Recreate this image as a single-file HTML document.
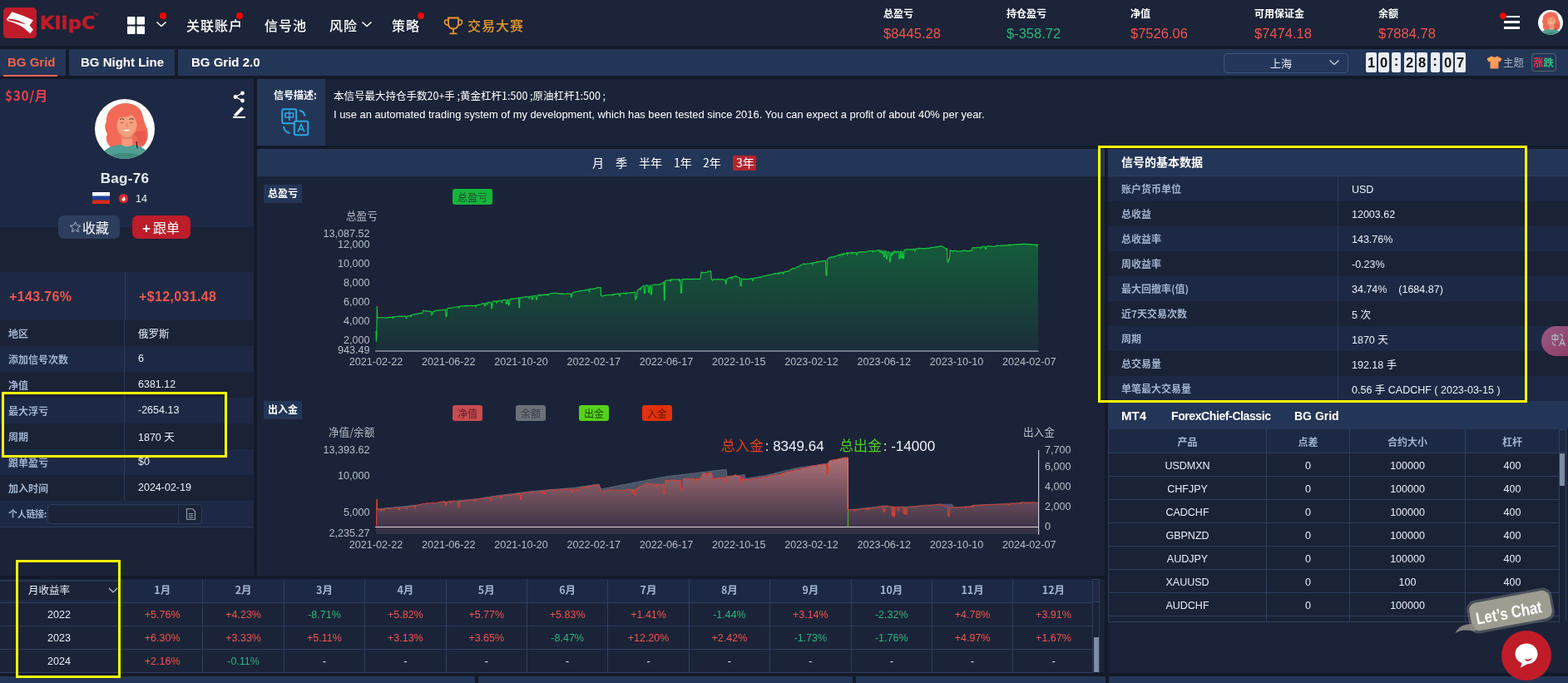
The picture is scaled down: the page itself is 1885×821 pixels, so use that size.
<!DOCTYPE html>
<html lang="zh-CN"><head><meta charset="utf-8"><title>KlipC - BG Grid</title>
<style>
*{box-sizing:border-box;margin:0;padding:0}
html,body{width:1885px;height:821px;overflow:hidden;background:#131a29}
body{position:relative;font-family:"Liberation Sans","Noto Sans CJK SC",sans-serif;color:#e8eef8;font-size:12px}
.a{position:absolute}
.cj{font-family:"Noto Sans CJK SC","Liberation Sans",sans-serif}
.hdr{left:0;top:0;width:1885px;height:55px;background:#1b2438}
.nav{top:19px;font-size:16px;line-height:22px;color:#fff;white-space:nowrap;font-weight:500;letter-spacing:1px}
.dot{width:8px;height:8px;border-radius:50%;background:#f00}
.st{font-size:12px;font-weight:bold;line-height:14px;top:9px;color:#fff}
.sv{font-size:16.5px;line-height:18px;top:31px;color:#f0564b}
.tabs{left:0;top:59px;width:1885px;height:32px;background:#243657}
.tab{top:59px;height:32px;font-size:15px;font-weight:bold;line-height:32px;color:#fff;white-space:nowrap}
.tsep{top:59px;width:4px;height:32px;background:#151d2e}
.dig{top:63px;width:13px;height:24px;background:#e9eef6;border-radius:2px;color:#111;font-size:16.5px;font-weight:bold;line-height:24px;text-align:center;font-family:"Liberation Sans",sans-serif}
.col{top:63px;width:11px;height:24px;background:#e9eef6;border-radius:2px;color:#111;font-size:17px;line-height:22px;text-align:center;font-weight:bold}
.lp{left:0;width:305px}
.row{left:0;width:305px;height:31px}
.rl{left:10px;font-size:12px;line-height:31px;color:#a0b3cf;font-weight:bold}
.rv{left:166px;font-size:12.5px;line-height:31px;color:#e8eef8}
.dk{background:#1a2236}
.lt{background:#1d2944}
.yl{border:3px solid #ffff00}
.ax{font-size:12.6px;color:#b9bec8;line-height:14px;white-space:nowrap}
.axr{text-align:right}
.bd{font-size:12px;line-height:30px;color:#a0b3cf;font-weight:bold}
.bv{font-size:12.5px;line-height:30px;color:#e8eef8;margin-top:1px}
.mt td{border:1px solid #2e3e5e;text-align:center;font-size:12.5px;color:#e8eef8;height:28px;padding:3px 0 0 0}
.mt th{border:1px solid #2e3e5e;text-align:center;font-size:12px;color:#a0b3cf;font-weight:bold;height:28px;padding:2px 0 0 0}
.mo td{border:1px solid #2e3e5e;text-align:center;font-size:12.5px;height:28px;padding:2px 0 0 0}
.mo th{border:1px solid #2e3e5e;text-align:center;font-size:12.5px;color:#a0b3cf;font-weight:bold;height:28px;padding:0 0 3px 0;background:#1d2944}
.mo tr:first-child th{border-top:none}
.mt tr:first-child th{border-top:none}
.r{color:#f0564b}.g{color:#2fb57c}.w{color:#e8eef8}
</style></head><body>
<!-- ================= HEADER ================= -->
<div class="a hdr"></div>
<svg class="a" style="left:4px;top:9px" width="40" height="37" viewBox="0 0 40 37">
<rect x="0" y="0" width="40" height="37" rx="5" fill="#c01b29"/>
<path d="M3.8 14.2 L10.4 5.2 Q23 9 35.9 15.2 L31.6 21.6 L35.9 26.8 L32.2 31.2 Q21 19.5 5.5 16.2 Z" fill="#fff"/>
<path d="M6.2 13.6 Q16.5 13.8 27.5 20.6 Q16 16.8 6.2 15.2 Z" fill="#c01b29"/>
</svg>
<div class="a" style="left:48px;top:14px;font-size:22px;line-height:28px;font-weight:bold;color:#c01b29;letter-spacing:0.6px;-webkit-text-stroke:0.6px #c01b29;font-family:'DejaVu Sans','Liberation Sans',sans-serif;white-space:nowrap">KlipC</div>
<div class="a" style="left:111.5px;top:13.5px;font-size:5px;line-height:6px;color:#c01b29">TM</div>

<svg class="a" style="left:153px;top:20px" width="22" height="22" viewBox="0 0 22 22">
<rect x="0" y="0" width="9.5" height="9.5" rx="1" fill="#fff"/><rect x="11.5" y="0" width="9.5" height="9.5" rx="1" fill="#fff"/>
<rect x="0" y="11.5" width="9.5" height="9.5" rx="1" fill="#fff"/><rect x="11.5" y="11.5" width="9.5" height="9.5" rx="1" fill="#fff"/>
</svg>
<svg class="a" style="left:187px;top:24px" width="14" height="10" viewBox="0 0 14 10"><path d="M1.5 2.5 L7 7.5 L12.5 2.5" stroke="#fff" stroke-width="1.6" fill="none"/></svg>
<div class="a dot" style="left:192px;top:15px"></div>
<div class="a nav cj" style="left:224px">关联账户</div>
<div class="a dot" style="left:284px;top:15px"></div>
<div class="a nav cj" style="left:318px">信号池</div>
<div class="a nav cj" style="left:396px">风险</div>
<svg class="a" style="left:434px;top:24px" width="14" height="10" viewBox="0 0 14 10"><path d="M1.5 2.5 L7 7.5 L12.5 2.5" stroke="#fff" stroke-width="1.6" fill="none"/></svg>
<div class="a nav cj" style="left:471px">策略</div>
<div class="a dot" style="left:502px;top:15px"></div>
<svg class="a" style="left:533px;top:20px" width="24" height="22" viewBox="0 0 24 22">
<path d="M6 1.5 H18 V8 Q18 14.5 12 14.5 Q6 14.5 6 8 Z" stroke="#e8982a" stroke-width="1.8" fill="none"/>
<path d="M6 4 H3.5 Q1.5 4 1.5 6.5 Q1.5 10 6.3 10.5 M18 4 H20.5 Q22.5 4 22.5 6.5 Q22.5 10 17.7 10.5" stroke="#e8982a" stroke-width="1.6" fill="none"/>
<path d="M12 14.5 V19.5 M7.5 20.3 H16.5" stroke="#e8982a" stroke-width="1.8" fill="none"/>
</svg>
<div class="a nav cj" style="left:562px;color:#e8982a">交易大赛</div>

<div class="a st cj" style="left:1062px">总盈亏</div><div class="a sv" style="left:1062px">$8445.28</div>
<div class="a st cj" style="left:1210px">持仓盈亏</div><div class="a sv" style="left:1210px;color:#2fb57c">$-358.72</div>
<div class="a st cj" style="left:1359px">净值</div><div class="a sv" style="left:1359px">$7526.06</div>
<div class="a st cj" style="left:1508px">可用保证金</div><div class="a sv" style="left:1508px">$7474.18</div>
<div class="a st cj" style="left:1657px">余额</div><div class="a sv" style="left:1657px">$7884.78</div>

<div class="a" style="left:1808px;top:18.5px;width:19px;height:2.5px;background:#fff"></div>
<div class="a" style="left:1808px;top:25.3px;width:19px;height:2.5px;background:#fff"></div>
<div class="a" style="left:1808px;top:32px;width:19px;height:2.5px;background:#fff"></div>
<div class="a dot" style="left:1803px;top:15px"></div>
<svg class="a" style="left:1849px;top:12px" width="30" height="30" viewBox="0 0 72 72">
<defs><clipPath id="cc1"><circle cx="36" cy="36" r="36"/></clipPath></defs>
<g clip-path="url(#cc1)"><rect width="72" height="72" fill="#fff"/>
<path d="M19 58 Q11 50 15 42 Q10 34 14 27 Q13 16 22 10 Q32 3 44 6 Q56 9 58 22 Q60 30 63 36 Q66 48 59 56 Q52 61 46 56 L30 58 Q24 62 19 58 Z" fill="#f26a57"/>
<path d="M44 40 Q52 44 52 54 L58 56 Q64 48 60 38 Z" fill="#e85a4f"/>
<path d="M6 72 Q10 57 30 55 L44 55 Q62 56 68 72 Z" fill="#4f9f95"/>
<path d="M10 70 Q36 60 64 70 L66 72 L8 72 Z" fill="#43897f"/>
<path d="M32 40 L32.5 55.5 Q38 59 45 55.5 L45 40 Z" fill="#f29a7c"/>
<path d="M32 44 Q38.5 48 45 44 L45 47 Q38.5 50 32 47 Z" fill="#e0866a"/>
<path d="M26.5 26 Q26 18 34 17 Q46 15.5 50.5 24 Q51.5 34 48 40 Q44 45 38.5 45 Q32 45 28.5 40 Q26 34 26.5 26 Z" fill="#f5a07e"/>
<path d="M24.5 30 Q24 14 36 11 Q48 9 54 20 Q53 27 51 31 Q49 23 44 19 Q40 22 30 22 Q27 25 26.5 31 Z" fill="#f26a57"/>
<path d="M30 24.6 q2.5 -2 5 0 M41.5 24.6 q2.5 -2 5 0" stroke="#3a2418" stroke-width="0.9" fill="none"/>
<path d="M30.5 28 q2 1.5 4 0 M42 28 q2 1.5 4 0" stroke="#7a4a38" stroke-width="0.7" fill="none"/>
<path d="M38.5 29 Q37.5 33 39.5 34" stroke="#b06a50" stroke-width="0.6" fill="none"/>
<path d="M34 37 Q38.5 40.5 43 37 Z" fill="#fff"/>
<path d="M50 51 L51 59" stroke="#222" stroke-width="1.2"/></g></svg>

<!-- ================= TABS ================= -->
<div class="a tabs"></div>
<div class="a tab" style="left:9px;color:#f0644f">BG Grid</div>
<div class="a" style="left:4px;top:89.5px;width:65px;height:2px;background:#f0644f"></div>
<div class="a tsep" style="left:79px"></div>
<div class="a tab" style="left:97px">BG Night Line</div>
<div class="a tsep" style="left:210px"></div>
<div class="a tab" style="left:230px">BG Grid 2.0</div>

<div class="a" style="left:1471px;top:64px;width:150px;height:24px;border:1px solid #3b5584;border-radius:4px;background:#24365a"></div>
<div class="a cj" style="left:1527px;top:64px;font-size:13px;line-height:24px;color:#e8eef8">上海</div>
<svg class="a" style="left:1597px;top:70px" width="14" height="10" viewBox="0 0 14 10"><path d="M1.5 2.5 L7 7.5 L12.5 2.5" stroke="#c8d0dc" stroke-width="1.3" fill="none"/></svg>
<div class="a dig" style="left:1642px">1</div>
<div class="a dig" style="left:1657px">0</div>
<div class="a col" style="left:1673px">:</div>
<div class="a dig" style="left:1688px">2</div>
<div class="a dig" style="left:1703px">8</div>
<div class="a col" style="left:1719.5px">:</div>
<div class="a dig" style="left:1734px">0</div>
<div class="a dig" style="left:1749px">7</div>
<svg class="a" style="left:1787px;top:67px" width="19" height="16" viewBox="0 0 19 16">
<defs><linearGradient id="shg" x1="0" y1="0" x2="1" y2="1"><stop offset="0" stop-color="#ffb04a"/><stop offset="1" stop-color="#ff8a6a"/></linearGradient></defs>
<path d="M6 0.5 Q9.5 3 13 0.5 L18.5 3.5 L16.5 7.5 L14.5 6.8 L14.5 15.5 L4.5 15.5 L4.5 6.8 L2.5 7.5 L0.5 3.5 Z" fill="url(#shg)"/></svg>
<div class="a cj" style="left:1807px;top:66px;font-size:12.5px;line-height:18px;color:#a3adbf">主题</div>
<div class="a" style="left:1841px;top:64px;width:30px;height:22px;border:1px solid #5b616e;border-radius:4px"></div>
<div class="a cj" style="left:1843px;top:65px;font-size:12.5px;line-height:20px;font-weight:bold;white-space:nowrap"><span style="color:#f0343c">涨</span><span style="color:#2ec27e">跌</span></div>
<!-- ================= LEFT PANEL ================= -->
<div class="a lp" style="top:95px;height:178px;background:#1d2944"></div>
<div class="a lp" style="top:273px;height:54px;background:#1a2236"></div>
<div class="a cj" style="left:6px;top:105px;font-size:15.5px;letter-spacing:0.6px;line-height:18px;font-weight:bold;color:#e8404c">$30/月</div>
<svg class="a" style="left:280px;top:109px" width="15" height="15" viewBox="0 0 15 15">
<circle cx="11.5" cy="3" r="2.4" fill="#fff"/><circle cx="3" cy="7.5" r="2.4" fill="#fff"/><circle cx="11.5" cy="12" r="2.4" fill="#fff"/>
<path d="M11.5 3 L3 7.5 L11.5 12" stroke="#fff" stroke-width="1.3" fill="none"/></svg>
<svg class="a" style="left:279px;top:126px" width="17" height="16" viewBox="0 0 17 16">
<path d="M2.5 11.5 L11.3 2.2 L14 5 L5.5 13.6 L2.5 13.6 Z" fill="#fff"/><rect x="1" y="14" width="15" height="2" fill="#fff"/></svg>
<svg class="a" style="left:114px;top:119px" width="72" height="72" viewBox="0 0 72 72">
<defs><clipPath id="cc2"><circle cx="36" cy="36" r="36"/></clipPath></defs>
<g clip-path="url(#cc2)"><rect width="72" height="72" fill="#fff"/>
<path d="M19 58 Q11 50 15 42 Q10 34 14 27 Q13 16 22 10 Q32 3 44 6 Q56 9 58 22 Q60 30 63 36 Q66 48 59 56 Q52 61 46 56 L30 58 Q24 62 19 58 Z" fill="#f26a57"/>
<path d="M44 40 Q52 44 52 54 L58 56 Q64 48 60 38 Z" fill="#e85a4f"/>
<path d="M6 72 Q10 57 30 55 L44 55 Q62 56 68 72 Z" fill="#4f9f95"/>
<path d="M10 70 Q36 60 64 70 L66 72 L8 72 Z" fill="#43897f"/>
<path d="M32 40 L32.5 55.5 Q38 59 45 55.5 L45 40 Z" fill="#f29a7c"/>
<path d="M32 44 Q38.5 48 45 44 L45 47 Q38.5 50 32 47 Z" fill="#e0866a"/>
<path d="M26.5 26 Q26 18 34 17 Q46 15.5 50.5 24 Q51.5 34 48 40 Q44 45 38.5 45 Q32 45 28.5 40 Q26 34 26.5 26 Z" fill="#f5a07e"/>
<path d="M24.5 30 Q24 14 36 11 Q48 9 54 20 Q53 27 51 31 Q49 23 44 19 Q40 22 30 22 Q27 25 26.5 31 Z" fill="#f26a57"/>
<path d="M30 24.6 q2.5 -2 5 0 M41.5 24.6 q2.5 -2 5 0" stroke="#3a2418" stroke-width="0.9" fill="none"/>
<path d="M30.5 28 q2 1.5 4 0 M42 28 q2 1.5 4 0" stroke="#7a4a38" stroke-width="0.7" fill="none"/>
<path d="M38.5 29 Q37.5 33 39.5 34" stroke="#b06a50" stroke-width="0.6" fill="none"/>
<path d="M34 37 Q38.5 40.5 43 37 Z" fill="#fff"/>
<path d="M50 51 L51 59" stroke="#222" stroke-width="1.2"/></g></svg>
<div class="a" style="left:0;top:205px;width:300px;text-align:center;font-size:17px;letter-spacing:0.3px;font-weight:bold;line-height:20px;color:#e8eef8">Bag-76</div>
<svg class="a" style="left:111px;top:231px" width="21" height="14" viewBox="0 0 21 14">
<rect width="21" height="4.7" fill="#fff"/><rect y="4.7" width="21" height="4.7" fill="#1c3f9e"/><rect y="9.4" width="21" height="4.6" fill="#d52b1e"/></svg>
<svg class="a" style="left:143px;top:233px" width="11" height="11" viewBox="0 0 11 11">
<circle cx="5.5" cy="5.5" r="5.5" fill="#e0282e"/><path d="M5.5 2.5 Q8 5 7.6 7 Q7 8.7 5.5 8.7 Q3.8 8.7 3.4 7 Q3.2 5.5 4.6 4.4 Q4.5 6 5.6 6.4 Q5.2 4.2 5.5 2.5Z" fill="#fff"/></svg>
<div class="a" style="left:163px;top:232px;font-size:12.5px;line-height:15px;color:#e8eef8">14</div>
<div class="a" style="left:70px;top:259px;width:74px;height:28px;border-radius:7px;background:#2d3d5d"></div>
<svg class="a" style="left:83px;top:266px" width="15" height="14" viewBox="0 0 15 14"><path d="M7.5 0.8 L9.4 4.9 L13.9 5.3 L10.5 8.3 L11.5 12.8 L7.5 10.5 L3.5 12.8 L4.5 8.3 L1.1 5.3 L5.6 4.9 Z" stroke="#aab4c4" stroke-width="1" fill="none"/></svg>
<div class="a cj" style="left:99px;top:261.5px;font-size:16px;line-height:22px;color:#fff">收藏</div>
<div class="a" style="left:159px;top:259px;width:70px;height:28px;border-radius:7px;background:#bd1c2a"></div>
<div class="a cj" style="left:171px;top:261.5px;font-size:16px;line-height:22px;color:#fff"><b style="font-family:'Liberation Sans';font-size:17px;margin-right:3px">+</b>跟单</div>

<div class="a" style="left:0;top:327px;width:150px;height:58px;background:#1d2944"></div>
<div class="a" style="left:150px;top:327px;width:155px;height:58px;background:#1d2944;border-left:1px solid #2c3a58"></div>
<div class="a" style="left:11px;top:348px;font-size:16px;letter-spacing:0.35px;font-weight:bold;line-height:18px;color:#f0564b">+143.76%</div>
<div class="a" style="left:167px;top:348px;font-size:16px;letter-spacing:0.35px;font-weight:bold;line-height:18px;color:#f0564b">+$12,031.48</div>

<div class="a row dk" style="top:385px"></div>
<div class="a row lt" style="top:416px"></div>
<div class="a row dk" style="top:447px"></div>
<div class="a row lt" style="top:478px"></div>
<div class="a row dk" style="top:509px"></div>
<div class="a row lt" style="top:540px"></div>
<div class="a row dk" style="top:571px"></div>
<div class="a row lt" style="top:602px;height:31px"></div>
<div class="a" style="left:0;top:633px;width:305px;height:1px;background:#2c3b58"></div>
<div class="a" style="left:0;top:634px;width:305px;height:58px;background:#1b2338"></div>
<div class="a" style="left:149px;top:385px;width:1px;height:217px;background:#2c3a58"></div>
<div class="a rl cj" style="top:385px">地区</div><div class="a rv cj" style="top:385px">俄罗斯</div>
<div class="a rl cj" style="top:416px">添加信号次数</div><div class="a rv" style="top:416px">6</div>
<div class="a rl cj" style="top:447px">净值</div><div class="a rv" style="top:447px">6381.12</div>
<div class="a rl cj" style="top:478px">最大浮亏</div><div class="a rv" style="top:478px">-2654.13</div>
<div class="a rl cj" style="top:509px">周期</div><div class="a rv" style="top:509px">1870 <span class="cj">天</span></div>
<div class="a rl cj" style="top:540px">跟单盈亏</div><div class="a rv" style="top:540px">$0</div>
<div class="a rl cj" style="top:571px">加入时间</div><div class="a rv" style="top:571px">2024-02-19</div>
<div class="a rl cj" style="top:602px;font-weight:bold;left:10px;font-size:11px;letter-spacing:-0.3px">个人链接:</div>
<div class="a" style="left:57px;top:606px;width:186px;height:24px;border:1px solid #2c3c5c;border-radius:4px;background:#1a2338"></div>
<div class="a" style="left:214px;top:607px;width:1px;height:22px;background:#2c3c5c"></div>
<svg class="a" style="left:223px;top:611px" width="13" height="14" viewBox="0 0 13 14"><path d="M1.5 0.8 H8.5 L11.5 3.8 V13.2 H1.5 Z" stroke="#9aa4b4" stroke-width="1.1" fill="none"/><path d="M3.8 6.5 H9.2 M3.8 8.8 H9.2 M3.8 11 H9.2" stroke="#9aa4b4" stroke-width="1"/></svg>
<div class="a yl" style="left:2px;top:471px;width:271px;height:79px"></div>
<!-- ================= DESCRIPTION ================= -->
<div class="a" style="left:309px;top:95px;width:1576px;height:80px;background:#1b2338"></div>
<div class="a" style="left:309px;top:95px;width:82px;height:80px;background:#243657"></div>
<div class="a cj" style="left:329px;top:105px;font-size:12px;line-height:17px;font-weight:bold;color:#fff">信号描述:</div>
<svg class="a" style="left:338px;top:130px" width="34" height="34" viewBox="0 0 34 34">
<rect x="1.2" y="1.2" width="17" height="17" rx="2" stroke="#2aa8e4" stroke-width="2" fill="none"/>
<rect x="15.8" y="15.8" width="16.5" height="16.5" rx="2" fill="#243657" stroke="#2aa8e4" stroke-width="2"/>
<path d="M5 6 H14.5 V11 H5 Z M9.8 3.5 V15" stroke="#2aa8e4" stroke-width="1.6" fill="none"/>
<path d="M20 28.5 L24 19.5 L28 28.5 M21.5 25.3 H26.5" stroke="#2aa8e4" stroke-width="1.7" fill="none"/>
<path d="M22 3 Q27.5 3.5 28.5 9.5" stroke="#2aa8e4" stroke-width="2" fill="none"/>
<path d="M3 22 Q3.5 28.5 10.5 30" stroke="#2aa8e4" stroke-width="2" fill="none"/>
</svg>
<div class="a cj" style="left:401px;top:105px;font-size:12.5px;line-height:19px;color:#fff;white-space:nowrap">本信号最大持仓手数20+手 ;黄金杠杆1:500 ;原油杠杆1:500 ;</div>
<div class="a" style="left:401px;top:128px;font-size:12.9px;line-height:19px;color:#fff;white-space:nowrap">I use an automated trading system of my development, which has been tested since 2016. You can expect a profit of about 40% per year.</div>

<!-- ================= PERIOD BAR ================= -->
<div class="a" style="left:309px;top:179px;width:1019px;height:33px;background:#243657"></div>
<div class="a cj" style="left:712px;top:186px;font-size:14px;line-height:19px;color:#fff;white-space:nowrap">月</div>
<div class="a cj" style="left:740px;top:186px;font-size:14px;line-height:19px;color:#fff">季</div>
<div class="a cj" style="left:768px;top:186px;font-size:14px;line-height:19px;color:#fff">半年</div>
<div class="a cj" style="left:810px;top:186px;font-size:14px;line-height:19px;color:#fff">1年</div>
<div class="a cj" style="left:845px;top:186px;font-size:14px;line-height:19px;color:#fff">2年</div>
<div class="a" style="left:881px;top:187px;width:28px;height:18px;border-radius:2px;background:#b5242f"></div>
<div class="a cj" style="left:885px;top:186px;font-size:14px;line-height:19px;color:#fff">3年</div>

<!-- ================= CHART AREA ================= -->
<div class="a" style="left:309px;top:212px;width:1019px;height:480px;background:#1b2338"></div>
<div class="a cj" style="left:317px;top:222px;width:46px;height:22px;background:#243657;font-size:12px;line-height:20px;font-weight:bold;color:#fff;text-align:center">总盈亏</div>
<div class="a cj" style="left:544px;top:227px;width:48px;height:19px;border-radius:3px;background:#16b53d;font-size:12px;line-height:19px;color:#1d4a2a;text-align:center">总盈亏</div>
<div class="a ax cj" style="left:416px;top:252px">总盈亏</div>
<div class="a ax axr" style="left:344.5px;width:100px;top:274px">13,087.52</div>
<div class="a ax axr" style="left:344.5px;width:100px;top:287px">12,000</div>
<div class="a ax axr" style="left:344.5px;width:100px;top:310px">10,000</div>
<div class="a ax axr" style="left:344.5px;width:100px;top:333px">8,000</div>
<div class="a ax axr" style="left:344.5px;width:100px;top:356px">6,000</div>
<div class="a ax axr" style="left:344.5px;width:100px;top:379px">4,000</div>
<div class="a ax axr" style="left:344.5px;width:100px;top:402px">2,000</div>
<div class="a ax axr" style="left:344.5px;width:100px;top:414px">943.49</div>
<svg class="a" style="left:309px;top:212px" width="1019" height="260" viewBox="309 212 1019 260">
<defs><linearGradient id="g1" gradientUnits="userSpaceOnUse" x1="0" y1="292" x2="0" y2="422"><stop offset="0" stop-color="#145c3a"/><stop offset="1" stop-color="#1b2e3a"/></linearGradient></defs>
<path d="M452.0 398.0 L452.3 410.7 L452.8 404.0 L453.3 368.0 L453.8 382.0 L454.0 382.1 L454.5 382.2 L455.0 382.0 L455.5 381.9 L456.0 381.9 L456.5 381.8 L457.0 381.8 L457.5 381.6 L458.0 381.3 L458.5 381.6 L459.0 381.8 L459.5 381.8 L460.0 381.8 L460.5 381.9 L461.0 381.7 L461.5 381.6 L462.0 381.9 L462.5 382.0 L463.0 381.8 L463.5 382.2 L464.0 382.0 L464.5 381.9 L465.0 382.3 L465.5 382.1 L466.0 382.0 L466.5 381.6 L467.0 381.5 L467.5 381.8 L468.0 381.4 L468.5 381.1 L469.0 381.2 L469.5 381.4 L470.0 381.5 L470.5 381.5 L471.0 381.5 L471.5 381.3 L472.0 381.1 L472.5 383.0 L473.0 380.9 L473.5 380.9 L474.0 381.1 L474.5 381.2 L475.0 380.9 L475.5 380.6 L476.0 380.5 L476.5 380.5 L477.0 380.5 L477.5 380.6 L478.0 380.5 L478.5 380.2 L479.0 379.9 L479.5 380.2 L480.0 380.0 L480.5 380.3 L481.0 380.1 L481.5 380.4 L482.0 380.3 L482.5 380.3 L483.0 380.3 L483.5 380.1 L484.0 380.2 L484.5 380.0 L485.0 380.0 L485.5 380.2 L486.0 380.5 L486.5 380.2 L487.0 380.0 L487.5 379.9 L488.0 381.9 L488.5 382.6 L489.0 381.4 L489.5 380.1 L490.0 380.2 L490.5 380.0 L491.0 379.8 L491.5 379.8 L492.0 379.9 L492.5 379.5 L493.0 379.5 L493.5 379.4 L494.0 380.4 L494.5 378.7 L495.0 379.1 L495.5 378.7 L496.0 378.6 L496.5 378.3 L497.0 378.1 L497.5 377.8 L498.0 377.8 L498.5 377.8 L499.0 377.5 L499.5 377.6 L500.0 377.4 L500.5 377.3 L501.0 377.5 L501.5 377.4 L502.0 377.0 L502.5 377.2 L503.0 377.2 L503.5 376.9 L504.0 376.5 L504.5 376.2 L505.0 376.4 L505.5 376.4 L506.0 376.7 L506.5 376.6 L507.0 376.5 L507.5 376.2 L508.0 375.7 L508.5 373.3 L509.0 373.4 L509.5 373.3 L510.0 373.4 L510.5 373.7 L511.0 373.6 L511.5 374.0 L512.0 374.0 L512.5 373.6 L513.0 374.1 L513.5 374.1 L514.0 374.2 L514.5 374.1 L515.0 374.1 L515.5 374.3 L516.0 374.0 L516.5 374.1 L517.0 374.3 L517.5 374.6 L518.0 374.8 L518.5 374.6 L519.0 378.6 L519.5 378.0 L520.0 377.7 L520.5 374.8 L521.0 374.2 L521.5 374.5 L522.0 374.2 L522.5 374.1 L523.0 373.8 L523.5 373.6 L524.0 373.2 L524.5 373.1 L525.0 373.4 L525.5 373.1 L526.0 373.1 L526.5 372.9 L527.0 373.0 L527.5 373.0 L528.0 372.9 L528.5 372.8 L529.0 372.7 L529.5 372.8 L530.0 372.9 L530.5 373.0 L531.0 372.9 L531.5 373.0 L532.0 372.9 L532.5 372.5 L533.0 372.7 L533.5 372.3 L534.0 372.3 L534.5 372.4 L535.0 372.0 L535.5 371.9 L536.0 380.1 L536.5 380.7 L537.0 380.0 L537.5 371.0 L538.0 370.7 L538.5 370.6 L539.0 370.3 L539.5 370.3 L540.0 370.4 L540.5 370.5 L541.0 370.4 L541.5 370.4 L542.0 370.2 L542.5 370.0 L543.0 369.8 L543.5 369.9 L544.0 370.0 L544.5 369.7 L545.0 369.3 L545.5 369.2 L546.0 369.2 L546.5 369.1 L547.0 369.3 L547.5 369.2 L548.0 369.2 L548.5 369.1 L549.0 368.8 L549.5 369.0 L550.0 368.9 L550.5 368.9 L551.0 368.8 L551.5 368.5 L552.0 369.9 L552.5 368.6 L553.0 368.4 L553.5 368.3 L554.0 368.0 L554.5 367.7 L555.0 368.0 L555.5 367.8 L556.0 368.0 L556.5 367.9 L557.0 367.8 L557.5 367.9 L558.0 368.1 L558.5 367.6 L559.0 367.7 L559.5 368.0 L560.0 367.3 L560.5 367.1 L561.0 367.6 L561.5 367.6 L562.0 368.0 L562.5 367.7 L563.0 367.3 L563.5 367.2 L564.0 367.5 L564.5 367.5 L565.0 367.6 L565.5 367.3 L566.0 367.3 L566.5 367.5 L567.0 367.3 L567.5 367.2 L568.0 367.6 L568.5 367.5 L569.0 367.6 L569.5 367.7 L570.0 367.3 L570.5 367.5 L571.0 367.2 L571.5 367.0 L572.0 368.7 L572.5 367.3 L573.0 367.4 L573.5 367.4 L574.0 366.8 L574.5 366.5 L575.0 366.6 L575.5 366.2 L576.0 366.3 L576.5 366.3 L577.0 366.0 L577.5 366.2 L578.0 366.0 L578.5 365.6 L579.0 365.3 L579.5 365.3 L580.0 364.9 L580.5 364.8 L581.0 364.5 L581.5 364.9 L582.0 364.9 L582.5 367.6 L583.0 366.6 L583.5 367.0 L584.0 364.5 L584.5 364.1 L585.0 364.0 L585.5 365.6 L586.0 365.9 L586.5 364.9 L587.0 363.3 L587.5 363.6 L588.0 363.8 L588.5 363.2 L589.0 363.2 L589.5 363.2 L590.0 363.4 L590.5 364.4 L591.0 370.6 L591.5 370.4 L592.0 362.7 L592.5 362.5 L593.0 362.3 L593.5 362.1 L594.0 361.8 L594.5 361.8 L595.0 361.9 L595.5 362.1 L596.0 361.9 L596.5 363.6 L597.0 363.9 L597.5 364.0 L598.0 361.6 L598.5 361.7 L599.0 361.5 L599.5 361.9 L600.0 361.5 L600.5 361.6 L601.0 361.3 L601.5 361.4 L602.0 361.4 L602.5 362.5 L603.0 363.0 L603.5 363.8 L604.0 361.0 L604.5 360.7 L605.0 360.5 L605.5 360.4 L606.0 360.6 L606.5 360.3 L607.0 360.5 L607.5 360.3 L608.0 360.6 L608.5 365.3 L609.0 365.4 L609.5 365.1 L610.0 360.1 L610.5 360.1 L611.0 360.2 L611.5 366.8 L612.0 366.1 L612.5 365.9 L613.0 359.7 L613.5 359.8 L614.0 359.2 L614.5 359.4 L615.0 359.2 L615.5 359.2 L616.0 359.5 L616.5 359.1 L617.0 359.4 L617.5 359.2 L618.0 359.3 L618.5 359.3 L619.0 359.0 L619.5 358.5 L620.0 358.5 L620.5 358.4 L621.0 358.8 L621.5 358.7 L622.0 358.4 L622.5 358.2 L623.0 358.1 L623.5 358.1 L624.0 369.7 L624.5 369.7 L625.0 357.8 L625.5 357.7 L626.0 357.9 L626.5 358.0 L627.0 357.8 L627.5 357.5 L628.0 357.4 L628.5 357.7 L629.0 357.3 L629.5 357.4 L630.0 357.0 L630.5 357.0 L631.0 357.2 L631.5 356.9 L632.0 356.6 L632.5 356.4 L633.0 356.8 L633.5 357.1 L634.0 356.9 L634.5 356.9 L635.0 357.0 L635.5 357.1 L636.0 359.3 L636.5 356.4 L637.0 356.4 L637.5 356.4 L638.0 356.6 L638.5 356.5 L639.0 355.9 L639.5 359.6 L640.0 359.1 L640.5 359.5 L641.0 355.8 L641.5 355.9 L642.0 355.5 L642.5 355.7 L643.0 355.9 L643.5 355.5 L644.0 355.4 L644.5 360.0 L645.0 360.3 L645.5 359.6 L646.0 355.0 L646.5 355.2 L647.0 355.1 L647.5 354.7 L648.0 354.9 L648.5 354.5 L649.0 354.2 L649.5 355.7 L650.0 355.7 L650.5 355.5 L651.0 354.2 L651.5 354.2 L652.0 354.3 L652.5 354.1 L653.0 354.0 L653.5 354.2 L654.0 354.4 L654.5 354.4 L655.0 354.3 L655.5 354.1 L656.0 354.3 L656.5 354.3 L657.0 354.3 L657.5 354.0 L658.0 353.8 L658.5 353.8 L659.0 355.9 L659.5 353.6 L660.0 353.4 L660.5 353.4 L661.0 353.3 L661.5 353.0 L662.0 353.0 L662.5 352.6 L663.0 352.5 L663.5 352.8 L664.0 352.7 L664.5 352.5 L665.0 352.6 L665.5 352.4 L666.0 352.4 L666.5 352.2 L667.0 352.6 L667.5 352.5 L668.0 352.3 L668.5 352.4 L669.0 352.4 L669.5 352.6 L670.0 352.6 L670.5 352.6 L671.0 352.8 L671.5 352.7 L672.0 352.8 L672.5 353.1 L673.0 352.8 L673.5 352.9 L674.0 353.3 L674.5 353.2 L675.0 353.4 L675.5 353.1 L676.0 352.7 L676.5 353.0 L677.0 353.3 L677.5 353.1 L678.0 353.2 L678.5 353.3 L679.0 353.2 L679.5 353.2 L680.0 353.0 L680.5 353.2 L681.0 353.0 L681.5 353.2 L682.0 352.8 L682.5 352.8 L683.0 352.9 L683.5 353.0 L684.0 352.8 L684.5 353.1 L685.0 353.3 L685.5 353.1 L686.0 353.0 L686.5 357.3 L687.0 357.1 L687.5 354.4 L688.0 352.3 L688.5 352.0 L689.0 351.7 L689.5 351.6 L690.0 351.5 L690.5 351.1 L691.0 351.0 L691.5 350.8 L692.0 350.6 L692.5 350.9 L693.0 350.8 L693.5 350.7 L694.0 350.5 L694.5 350.2 L695.0 350.4 L695.5 350.1 L696.0 349.8 L696.5 349.8 L697.0 349.5 L697.5 349.6 L698.0 349.3 L698.5 349.5 L699.0 349.4 L699.5 349.2 L700.0 349.4 L700.5 349.3 L701.0 349.2 L701.5 349.2 L702.0 349.1 L702.5 349.3 L703.0 349.0 L703.5 348.7 L704.0 348.6 L704.5 348.2 L705.0 348.4 L705.5 348.5 L706.0 348.2 L706.5 348.1 L707.0 347.8 L707.5 349.6 L708.0 350.2 L708.5 350.6 L709.0 347.4 L709.5 347.7 L710.0 347.5 L710.5 347.2 L711.0 347.7 L711.5 347.2 L712.0 347.2 L712.5 347.3 L713.0 347.3 L713.5 347.3 L714.0 347.3 L714.5 346.9 L715.0 346.9 L715.5 346.6 L716.0 346.6 L716.5 346.4 L717.0 346.4 L717.5 345.9 L718.0 345.9 L718.5 346.0 L719.0 345.7 L719.5 345.8 L720.0 345.8 L720.5 345.7 L721.0 345.7 L721.5 345.3 L722.0 345.5 L722.5 355.5 L723.0 355.7 L723.5 356.0 L724.0 355.9 L724.5 355.8 L725.0 355.9 L725.5 355.5 L726.0 355.3 L726.5 355.2 L727.0 355.3 L727.5 354.7 L728.0 355.0 L728.5 355.0 L729.0 354.9 L729.5 355.0 L730.0 354.6 L730.5 354.9 L731.0 354.9 L731.5 354.8 L732.0 354.3 L732.5 354.6 L733.0 354.7 L733.5 354.4 L734.0 354.5 L734.5 354.3 L735.0 354.3 L735.5 354.3 L736.0 354.2 L736.5 354.3 L737.0 354.9 L737.5 354.9 L738.0 353.4 L738.5 353.7 L739.0 353.6 L739.5 353.4 L740.0 353.4 L740.5 353.4 L741.0 353.4 L741.5 353.3 L742.0 353.3 L742.5 353.0 L743.0 352.9 L743.5 352.9 L744.0 352.9 L744.5 355.0 L745.0 355.9 L745.5 354.9 L746.0 352.9 L746.5 353.1 L747.0 353.0 L747.5 352.7 L748.0 352.7 L748.5 352.6 L749.0 352.8 L749.5 352.3 L750.0 352.4 L750.5 352.5 L751.0 352.2 L751.5 353.3 L752.0 353.5 L752.5 353.4 L753.0 351.8 L753.5 352.2 L754.0 352.3 L754.5 352.3 L755.0 352.2 L755.5 352.1 L756.0 352.2 L756.5 352.0 L757.0 351.7 L757.5 351.7 L758.0 352.0 L758.5 351.5 L759.0 351.7 L759.5 351.7 L760.0 351.6 L760.5 351.8 L761.0 351.7 L761.5 351.6 L762.0 351.5 L762.5 351.3 L763.0 351.0 L763.5 351.2 L764.0 360.3 L764.5 359.6 L765.0 357.2 L765.5 357.4 L766.0 349.3 L766.5 348.8 L767.0 348.4 L767.5 348.1 L768.0 347.7 L768.5 347.6 L769.0 347.4 L769.5 346.7 L770.0 348.1 L770.5 346.0 L771.0 345.3 L771.5 345.0 L772.0 344.6 L772.5 344.0 L773.0 343.8 L773.5 343.7 L774.0 343.4 L774.5 352.3 L775.0 352.1 L775.5 352.3 L776.0 343.2 L776.5 343.1 L777.0 342.9 L777.5 343.1 L778.0 343.2 L778.5 342.8 L779.0 342.8 L779.5 350.9 L780.0 351.4 L780.5 351.6 L781.0 343.5 L781.5 343.2 L782.0 342.9 L782.5 353.8 L783.0 353.3 L783.5 353.7 L784.0 342.9 L784.5 342.8 L785.0 342.5 L785.5 342.0 L786.0 342.1 L786.5 342.2 L787.0 342.2 L787.5 342.0 L788.0 342.1 L788.5 342.2 L789.0 342.1 L789.5 342.2 L790.0 342.3 L790.5 342.3 L791.0 342.0 L791.5 342.0 L792.0 342.2 L792.5 342.2 L793.0 341.7 L793.5 341.8 L794.0 341.6 L794.5 341.5 L795.0 341.1 L795.5 340.9 L796.0 340.7 L796.5 340.0 L797.0 340.0 L797.5 339.2 L798.0 339.0 L798.5 360.9 L799.0 360.5 L799.5 337.6 L800.0 337.5 L800.5 337.7 L801.0 337.4 L801.5 336.9 L802.0 336.8 L802.5 336.8 L803.0 337.0 L803.5 336.8 L804.0 336.8 L804.5 336.7 L805.0 336.3 L805.5 336.4 L806.0 338.8 L806.5 336.2 L807.0 335.9 L807.5 336.0 L808.0 336.1 L808.5 335.9 L809.0 336.1 L809.5 336.1 L810.0 336.0 L810.5 336.2 L811.0 335.9 L811.5 335.9 L812.0 336.0 L812.5 336.0 L813.0 335.9 L813.5 336.3 L814.0 336.1 L814.5 335.8 L815.0 335.7 L815.5 335.6 L816.0 335.9 L816.5 338.5 L817.0 335.9 L817.5 336.2 L818.0 336.3 L818.5 352.3 L819.0 352.0 L819.5 351.8 L820.0 336.0 L820.5 335.8 L821.0 335.7 L821.5 335.8 L822.0 335.8 L822.5 335.7 L823.0 335.5 L823.5 335.4 L824.0 335.6 L824.5 335.6 L825.0 335.6 L825.5 335.0 L826.0 335.4 L826.5 335.5 L827.0 335.6 L827.5 335.6 L828.0 335.4 L828.5 335.5 L829.0 335.6 L829.5 335.6 L830.0 335.5 L830.5 335.3 L831.0 335.4 L831.5 335.8 L832.0 335.6 L832.5 335.4 L833.0 335.7 L833.5 335.6 L834.0 335.5 L834.5 335.5 L835.0 335.1 L835.5 335.2 L836.0 335.3 L836.5 335.3 L837.0 335.2 L837.5 335.2 L838.0 335.5 L838.5 335.2 L839.0 335.2 L839.5 335.5 L840.0 335.4 L840.5 335.4 L841.0 335.4 L841.5 335.4 L842.0 335.1 L842.5 331.2 L843.0 327.4 L843.5 327.2 L844.0 327.6 L844.5 327.4 L845.0 327.7 L845.5 327.8 L846.0 327.6 L846.5 327.5 L847.0 327.6 L847.5 327.7 L848.0 327.5 L848.5 327.3 L849.0 327.3 L849.5 327.3 L850.0 327.1 L850.5 326.9 L851.0 326.6 L851.5 326.2 L852.0 325.9 L852.5 326.0 L853.0 326.0 L853.5 325.9 L854.0 325.7 L854.5 325.8 L855.0 331.9 L855.5 336.0 L856.0 335.9 L856.5 336.8 L857.0 337.2 L857.5 336.5 L858.0 335.6 L858.5 335.3 L859.0 335.6 L859.5 335.8 L860.0 335.8 L860.5 336.1 L861.0 336.2 L861.5 335.7 L862.0 335.7 L862.5 335.4 L863.0 335.7 L863.5 335.4 L864.0 335.8 L864.5 335.8 L865.0 335.9 L865.5 335.9 L866.0 336.0 L866.5 335.7 L867.0 335.7 L867.5 335.9 L868.0 336.2 L868.5 335.6 L869.0 336.1 L869.5 335.9 L870.0 336.2 L870.5 336.5 L871.0 336.3 L871.5 336.3 L872.0 336.4 L872.5 341.4 L873.0 341.2 L873.5 335.6 L874.0 335.3 L874.5 335.1 L875.0 334.9 L875.5 334.6 L876.0 334.3 L876.5 333.9 L877.0 333.9 L877.5 334.0 L878.0 333.4 L878.5 333.7 L879.0 333.5 L879.5 333.3 L880.0 334.7 L880.5 333.1 L881.0 333.0 L881.5 332.8 L882.0 332.5 L882.5 332.4 L883.0 332.2 L883.5 332.1 L884.0 331.6 L884.5 332.0 L885.0 332.3 L885.5 332.2 L886.0 332.5 L886.5 333.0 L887.0 333.0 L887.5 333.3 L888.0 333.5 L888.5 333.5 L889.0 334.1 L889.5 334.4 L890.0 343.3 L890.5 343.4 L891.0 343.8 L891.5 335.1 L892.0 335.2 L892.5 335.2 L893.0 335.3 L893.5 335.4 L894.0 335.8 L894.5 335.4 L895.0 335.6 L895.5 335.5 L896.0 335.5 L896.5 335.9 L897.0 335.5 L897.5 335.2 L898.0 335.7 L898.5 335.7 L899.0 335.9 L899.5 335.5 L900.0 335.3 L900.5 335.3 L901.0 335.2 L901.5 335.3 L902.0 335.1 L902.5 334.7 L903.0 334.9 L903.5 334.7 L904.0 334.5 L904.5 337.1 L905.0 337.6 L905.5 336.5 L906.0 334.3 L906.5 334.3 L907.0 334.3 L907.5 334.3 L908.0 334.0 L908.5 334.1 L909.0 334.0 L909.5 334.0 L910.0 333.9 L910.5 333.6 L911.0 333.5 L911.5 333.6 L912.0 333.3 L912.5 333.2 L913.0 333.3 L913.5 333.0 L914.0 333.4 L914.5 333.2 L915.0 332.8 L915.5 332.4 L916.0 332.5 L916.5 332.2 L917.0 332.0 L917.5 331.9 L918.0 332.0 L918.5 331.6 L919.0 331.7 L919.5 331.6 L920.0 331.6 L920.5 331.5 L921.0 331.2 L921.5 331.1 L922.0 331.0 L922.5 331.1 L923.0 330.6 L923.5 330.9 L924.0 330.8 L924.5 330.6 L925.0 330.5 L925.5 330.6 L926.0 330.4 L926.5 330.2 L927.0 329.9 L927.5 330.0 L928.0 329.9 L928.5 329.8 L929.0 329.5 L929.5 329.2 L930.0 329.3 L930.5 329.2 L931.0 328.8 L931.5 328.6 L932.0 328.8 L932.5 328.7 L933.0 328.9 L933.5 328.6 L934.0 328.7 L934.5 328.6 L935.0 328.6 L935.5 328.3 L936.0 330.1 L936.5 328.0 L937.0 327.7 L937.5 327.6 L938.0 327.8 L938.5 327.6 L939.0 327.7 L939.5 327.7 L940.0 327.4 L940.5 326.9 L941.0 327.3 L941.5 329.8 L942.0 327.5 L942.5 327.2 L943.0 327.2 L943.5 326.6 L944.0 326.9 L944.5 326.5 L945.0 326.5 L945.5 326.2 L946.0 326.4 L946.5 326.1 L947.0 326.5 L947.5 325.8 L948.0 325.8 L948.5 325.6 L949.0 325.2 L949.5 324.5 L950.0 324.5 L950.5 324.1 L951.0 324.1 L951.5 323.4 L952.0 323.5 L952.5 323.1 L953.0 322.9 L953.5 322.9 L954.0 322.3 L954.5 322.3 L955.0 322.5 L955.5 322.5 L956.0 322.3 L956.5 322.1 L957.0 321.4 L957.5 321.3 L958.0 320.9 L958.5 320.8 L959.0 320.8 L959.5 320.5 L960.0 320.5 L960.5 320.2 L961.0 319.9 L961.5 319.3 L962.0 318.9 L962.5 319.1 L963.0 318.5 L963.5 318.2 L964.0 318.2 L964.5 317.9 L965.0 317.4 L965.5 317.4 L966.0 317.1 L966.5 317.0 L967.0 317.3 L967.5 317.6 L968.0 317.1 L968.5 317.3 L969.0 317.3 L969.5 317.2 L970.0 317.2 L970.5 316.8 L971.0 317.0 L971.5 317.0 L972.0 317.1 L972.5 317.0 L973.0 317.0 L973.5 316.7 L974.0 316.6 L974.5 316.4 L975.0 316.3 L975.5 316.4 L976.0 316.2 L976.5 316.5 L977.0 318.0 L977.5 316.1 L978.0 315.6 L978.5 315.6 L979.0 315.5 L979.5 315.6 L980.0 315.6 L980.5 315.6 L981.0 315.5 L981.5 314.9 L982.0 314.7 L982.5 314.9 L983.0 314.5 L983.5 314.8 L984.0 314.6 L984.5 314.2 L985.0 314.4 L985.5 314.4 L986.0 314.3 L986.5 314.4 L987.0 314.3 L987.5 313.9 L988.0 313.9 L988.5 313.9 L989.0 313.7 L989.5 313.8 L990.0 313.8 L990.5 313.4 L991.0 313.5 L991.5 313.4 L992.0 313.6 L992.5 313.5 L993.0 330.2 L993.5 331.3 L994.0 330.7 L994.5 311.8 L995.0 311.6 L995.5 311.0 L996.0 310.3 L996.5 309.7 L997.0 309.6 L997.5 309.8 L998.0 309.2 L998.5 308.9 L999.0 308.8 L999.5 309.1 L1000.0 309.2 L1000.5 309.0 L1001.0 308.8 L1001.5 308.7 L1002.0 309.0 L1002.5 308.4 L1003.0 308.5 L1003.5 308.2 L1004.0 308.2 L1004.5 307.9 L1005.0 307.7 L1005.5 307.7 L1006.0 307.3 L1006.5 307.3 L1007.0 307.2 L1007.5 307.1 L1008.0 306.7 L1008.5 306.4 L1009.0 306.6 L1009.5 306.5 L1010.0 307.4 L1010.5 306.0 L1011.0 305.8 L1011.5 305.4 L1012.0 305.4 L1012.5 305.3 L1013.0 306.7 L1013.5 305.1 L1014.0 305.3 L1014.5 304.8 L1015.0 305.1 L1015.5 305.1 L1016.0 305.1 L1016.5 304.9 L1017.0 304.5 L1017.5 304.3 L1018.0 304.0 L1018.5 305.7 L1019.0 303.9 L1019.5 304.2 L1020.0 304.6 L1020.5 303.9 L1021.0 304.2 L1021.5 304.0 L1022.0 304.0 L1022.5 304.0 L1023.0 303.8 L1023.5 303.4 L1024.0 303.3 L1024.5 305.1 L1025.0 303.6 L1025.5 303.9 L1026.0 303.6 L1026.5 303.6 L1027.0 303.7 L1027.5 303.7 L1028.0 303.5 L1028.5 303.8 L1029.0 303.5 L1029.5 305.8 L1030.0 305.8 L1030.5 305.8 L1031.0 303.4 L1031.5 303.0 L1032.0 303.1 L1032.5 303.0 L1033.0 303.3 L1033.5 303.0 L1034.0 302.7 L1034.5 302.8 L1035.0 302.6 L1035.5 302.8 L1036.0 303.0 L1036.5 302.8 L1037.0 302.5 L1037.5 302.5 L1038.0 302.7 L1038.5 302.7 L1039.0 302.9 L1039.5 302.7 L1040.0 302.7 L1040.5 302.8 L1041.0 302.7 L1041.5 302.4 L1042.0 302.2 L1042.5 302.2 L1043.0 302.0 L1043.5 301.7 L1044.0 301.5 L1044.5 301.3 L1045.0 301.6 L1045.5 301.5 L1046.0 301.6 L1046.5 301.6 L1047.0 301.8 L1047.5 301.7 L1048.0 301.6 L1048.5 301.4 L1049.0 301.7 L1049.5 302.7 L1050.0 301.8 L1050.5 301.6 L1051.0 301.7 L1051.5 301.5 L1052.0 301.7 L1052.5 301.8 L1053.0 301.5 L1053.5 301.5 L1054.0 301.0 L1054.5 301.1 L1055.0 300.7 L1055.5 300.9 L1056.0 300.9 L1056.5 300.8 L1057.0 300.6 L1057.5 302.7 L1058.0 303.4 L1058.5 303.4 L1059.0 301.3 L1059.5 301.3 L1060.0 301.1 L1060.5 304.5 L1061.0 304.5 L1061.5 304.7 L1062.0 301.0 L1062.5 308.6 L1063.0 308.3 L1063.5 308.3 L1064.0 301.7 L1064.5 302.1 L1065.0 302.0 L1065.5 310.9 L1066.0 310.8 L1066.5 311.0 L1067.0 302.9 L1067.5 302.7 L1068.0 303.1 L1068.5 302.9 L1069.0 303.5 L1069.5 314.7 L1070.0 314.4 L1070.5 313.9 L1071.0 302.7 L1071.5 307.3 L1072.0 307.0 L1072.5 306.7 L1073.0 302.3 L1073.5 305.4 L1074.0 305.1 L1074.5 304.8 L1075.0 301.7 L1075.5 301.8 L1076.0 301.7 L1076.5 303.2 L1077.0 303.2 L1077.5 303.8 L1078.0 302.3 L1078.5 302.5 L1079.0 302.5 L1079.5 302.1 L1080.0 302.0 L1080.5 302.3 L1081.0 310.8 L1081.5 310.7 L1082.0 311.1 L1082.5 302.0 L1083.0 301.8 L1083.5 309.0 L1084.0 308.9 L1084.5 309.5 L1085.0 301.7 L1085.5 310.0 L1086.0 310.7 L1086.5 310.8 L1087.0 300.9 L1087.5 300.5 L1088.0 300.3 L1088.5 300.4 L1089.0 300.1 L1089.5 299.7 L1090.0 299.8 L1090.5 299.9 L1091.0 299.9 L1091.5 299.5 L1092.0 299.5 L1092.5 299.8 L1093.0 299.9 L1093.5 299.9 L1094.0 299.8 L1094.5 299.8 L1095.0 299.6 L1095.5 299.5 L1096.0 299.8 L1096.5 299.7 L1097.0 299.6 L1097.5 299.4 L1098.0 299.4 L1098.5 299.4 L1099.0 299.7 L1099.5 301.8 L1100.0 301.8 L1100.5 300.6 L1101.0 298.9 L1101.5 298.9 L1102.0 299.0 L1102.5 298.9 L1103.0 299.2 L1103.5 299.4 L1104.0 298.8 L1104.5 298.8 L1105.0 298.3 L1105.5 298.4 L1106.0 298.7 L1106.5 298.4 L1107.0 298.7 L1107.5 298.9 L1108.0 298.7 L1108.5 298.5 L1109.0 298.9 L1109.5 298.9 L1110.0 298.8 L1110.5 298.9 L1111.0 298.8 L1111.5 299.0 L1112.0 298.6 L1112.5 298.7 L1113.0 298.4 L1113.5 298.6 L1114.0 298.8 L1114.5 298.6 L1115.0 298.3 L1115.5 298.6 L1116.0 298.1 L1116.5 298.3 L1117.0 298.2 L1117.5 298.1 L1118.0 298.3 L1118.5 298.1 L1119.0 297.7 L1119.5 297.4 L1120.0 297.4 L1120.5 297.5 L1121.0 297.6 L1121.5 297.7 L1122.0 297.2 L1122.5 297.2 L1123.0 297.3 L1123.5 297.0 L1124.0 297.1 L1124.5 297.0 L1125.0 297.0 L1125.5 297.0 L1126.0 296.5 L1126.5 296.9 L1127.0 296.8 L1127.5 296.3 L1128.0 296.4 L1128.5 296.2 L1129.0 296.1 L1129.5 295.9 L1130.0 296.0 L1130.5 295.6 L1131.0 295.7 L1131.5 295.7 L1132.0 295.8 L1132.5 296.0 L1133.0 296.6 L1133.5 296.7 L1134.0 296.9 L1134.5 297.2 L1135.0 297.3 L1135.5 297.9 L1136.0 298.2 L1136.5 298.4 L1137.0 298.8 L1137.5 298.9 L1138.0 300.6 L1138.5 299.7 L1139.0 314.6 L1139.5 315.0 L1140.0 314.8 L1140.5 311.5 L1141.0 311.2 L1141.5 311.4 L1142.0 301.1 L1142.5 301.3 L1143.0 301.4 L1143.5 300.9 L1144.0 301.4 L1144.5 301.4 L1145.0 301.6 L1145.5 301.6 L1146.0 302.5 L1146.5 301.3 L1147.0 301.4 L1147.5 301.2 L1148.0 301.3 L1148.5 301.4 L1149.0 301.4 L1149.5 301.5 L1150.0 301.8 L1150.5 301.7 L1151.0 301.9 L1151.5 302.0 L1152.0 302.3 L1152.5 302.4 L1153.0 302.2 L1153.5 302.1 L1154.0 301.7 L1154.5 301.9 L1155.0 301.9 L1155.5 301.8 L1156.0 301.7 L1156.5 302.1 L1157.0 301.8 L1157.5 301.4 L1158.0 301.2 L1158.5 301.3 L1159.0 300.9 L1159.5 301.3 L1160.0 301.2 L1160.5 301.2 L1161.0 301.3 L1161.5 301.2 L1162.0 301.4 L1162.5 301.9 L1163.0 301.5 L1163.5 301.5 L1164.0 301.6 L1164.5 301.9 L1165.0 301.4 L1165.5 301.7 L1166.0 301.3 L1166.5 301.6 L1167.0 301.3 L1167.5 301.4 L1168.0 301.6 L1168.5 299.5 L1169.0 297.7 L1169.5 297.9 L1170.0 297.9 L1170.5 298.0 L1171.0 297.8 L1171.5 297.7 L1172.0 297.8 L1172.5 297.8 L1173.0 297.7 L1173.5 297.8 L1174.0 297.7 L1174.5 297.6 L1175.0 297.5 L1175.5 297.3 L1176.0 297.3 L1176.5 297.7 L1177.0 297.7 L1177.5 297.6 L1178.0 297.7 L1178.5 297.5 L1179.0 298.5 L1179.5 296.9 L1180.0 296.7 L1180.5 296.4 L1181.0 296.7 L1181.5 296.2 L1182.0 296.1 L1182.5 296.2 L1183.0 296.2 L1183.5 296.4 L1184.0 296.4 L1184.5 298.8 L1185.0 298.3 L1185.5 298.8 L1186.0 296.2 L1186.5 296.1 L1187.0 296.0 L1187.5 296.0 L1188.0 296.0 L1188.5 295.9 L1189.0 295.9 L1189.5 295.7 L1190.0 296.0 L1190.5 296.1 L1191.0 296.0 L1191.5 296.2 L1192.0 295.8 L1192.5 296.0 L1193.0 296.2 L1193.5 296.2 L1194.0 296.2 L1194.5 296.0 L1195.0 296.2 L1195.5 296.2 L1196.0 296.1 L1196.5 296.0 L1197.0 295.6 L1197.5 295.8 L1198.0 295.3 L1198.5 295.3 L1199.0 295.0 L1199.5 295.1 L1200.0 295.0 L1200.5 295.3 L1201.0 295.5 L1201.5 295.5 L1202.0 295.4 L1202.5 295.4 L1203.0 295.6 L1203.5 295.5 L1204.0 295.1 L1204.5 295.3 L1205.0 294.9 L1205.5 295.1 L1206.0 295.0 L1206.5 295.2 L1207.0 295.0 L1207.5 295.2 L1208.0 294.7 L1208.5 295.0 L1209.0 295.0 L1209.5 294.6 L1210.0 294.7 L1210.5 294.9 L1211.0 294.7 L1211.5 294.5 L1212.0 294.3 L1212.5 294.2 L1213.0 294.4 L1213.5 295.4 L1214.0 294.3 L1214.5 294.1 L1215.0 294.4 L1215.5 294.2 L1216.0 294.2 L1216.5 294.4 L1217.0 294.5 L1217.5 294.5 L1218.0 294.3 L1218.5 294.3 L1219.0 294.0 L1219.5 293.8 L1220.0 294.0 L1220.5 293.9 L1221.0 293.6 L1221.5 293.6 L1222.0 293.5 L1222.5 293.9 L1223.0 294.0 L1223.5 293.8 L1224.0 293.6 L1224.5 293.5 L1225.0 293.5 L1225.5 293.4 L1226.0 293.7 L1226.5 294.0 L1227.0 293.7 L1227.5 293.9 L1228.0 293.6 L1228.5 293.5 L1229.0 293.7 L1229.5 293.6 L1230.0 293.3 L1230.5 293.1 L1231.0 293.3 L1231.5 293.2 L1232.0 293.0 L1232.5 293.3 L1233.0 293.7 L1233.5 293.5 L1234.0 293.3 L1234.5 293.8 L1235.0 293.6 L1235.5 293.3 L1236.0 293.8 L1236.5 293.7 L1237.0 293.6 L1237.5 293.5 L1238.0 293.5 L1238.5 293.8 L1239.0 293.7 L1239.5 294.1 L1240.0 294.1 L1240.5 294.3 L1241.0 294.0 L1241.5 294.1 L1242.0 293.8 L1242.5 294.4 L1243.0 294.3 L1243.5 294.2 L1244.0 294.3 L1244.5 293.9 L1245.0 294.3 L1245.5 294.2 L1246.0 294.2 L1246.5 295.8 L1247.0 294.1 L1247.5 294.2 L1248.0 294.2 L1248 421.5 L452 421.5 Z" fill="url(#g1)"/>
<path d="M452.0 398.0 L452.3 410.7 L452.8 404.0 L453.3 368.0 L453.8 382.0 L454.0 382.1 L454.5 382.2 L455.0 382.0 L455.5 381.9 L456.0 381.9 L456.5 381.8 L457.0 381.8 L457.5 381.6 L458.0 381.3 L458.5 381.6 L459.0 381.8 L459.5 381.8 L460.0 381.8 L460.5 381.9 L461.0 381.7 L461.5 381.6 L462.0 381.9 L462.5 382.0 L463.0 381.8 L463.5 382.2 L464.0 382.0 L464.5 381.9 L465.0 382.3 L465.5 382.1 L466.0 382.0 L466.5 381.6 L467.0 381.5 L467.5 381.8 L468.0 381.4 L468.5 381.1 L469.0 381.2 L469.5 381.4 L470.0 381.5 L470.5 381.5 L471.0 381.5 L471.5 381.3 L472.0 381.1 L472.5 383.0 L473.0 380.9 L473.5 380.9 L474.0 381.1 L474.5 381.2 L475.0 380.9 L475.5 380.6 L476.0 380.5 L476.5 380.5 L477.0 380.5 L477.5 380.6 L478.0 380.5 L478.5 380.2 L479.0 379.9 L479.5 380.2 L480.0 380.0 L480.5 380.3 L481.0 380.1 L481.5 380.4 L482.0 380.3 L482.5 380.3 L483.0 380.3 L483.5 380.1 L484.0 380.2 L484.5 380.0 L485.0 380.0 L485.5 380.2 L486.0 380.5 L486.5 380.2 L487.0 380.0 L487.5 379.9 L488.0 381.9 L488.5 382.6 L489.0 381.4 L489.5 380.1 L490.0 380.2 L490.5 380.0 L491.0 379.8 L491.5 379.8 L492.0 379.9 L492.5 379.5 L493.0 379.5 L493.5 379.4 L494.0 380.4 L494.5 378.7 L495.0 379.1 L495.5 378.7 L496.0 378.6 L496.5 378.3 L497.0 378.1 L497.5 377.8 L498.0 377.8 L498.5 377.8 L499.0 377.5 L499.5 377.6 L500.0 377.4 L500.5 377.3 L501.0 377.5 L501.5 377.4 L502.0 377.0 L502.5 377.2 L503.0 377.2 L503.5 376.9 L504.0 376.5 L504.5 376.2 L505.0 376.4 L505.5 376.4 L506.0 376.7 L506.5 376.6 L507.0 376.5 L507.5 376.2 L508.0 375.7 L508.5 373.3 L509.0 373.4 L509.5 373.3 L510.0 373.4 L510.5 373.7 L511.0 373.6 L511.5 374.0 L512.0 374.0 L512.5 373.6 L513.0 374.1 L513.5 374.1 L514.0 374.2 L514.5 374.1 L515.0 374.1 L515.5 374.3 L516.0 374.0 L516.5 374.1 L517.0 374.3 L517.5 374.6 L518.0 374.8 L518.5 374.6 L519.0 378.6 L519.5 378.0 L520.0 377.7 L520.5 374.8 L521.0 374.2 L521.5 374.5 L522.0 374.2 L522.5 374.1 L523.0 373.8 L523.5 373.6 L524.0 373.2 L524.5 373.1 L525.0 373.4 L525.5 373.1 L526.0 373.1 L526.5 372.9 L527.0 373.0 L527.5 373.0 L528.0 372.9 L528.5 372.8 L529.0 372.7 L529.5 372.8 L530.0 372.9 L530.5 373.0 L531.0 372.9 L531.5 373.0 L532.0 372.9 L532.5 372.5 L533.0 372.7 L533.5 372.3 L534.0 372.3 L534.5 372.4 L535.0 372.0 L535.5 371.9 L536.0 380.1 L536.5 380.7 L537.0 380.0 L537.5 371.0 L538.0 370.7 L538.5 370.6 L539.0 370.3 L539.5 370.3 L540.0 370.4 L540.5 370.5 L541.0 370.4 L541.5 370.4 L542.0 370.2 L542.5 370.0 L543.0 369.8 L543.5 369.9 L544.0 370.0 L544.5 369.7 L545.0 369.3 L545.5 369.2 L546.0 369.2 L546.5 369.1 L547.0 369.3 L547.5 369.2 L548.0 369.2 L548.5 369.1 L549.0 368.8 L549.5 369.0 L550.0 368.9 L550.5 368.9 L551.0 368.8 L551.5 368.5 L552.0 369.9 L552.5 368.6 L553.0 368.4 L553.5 368.3 L554.0 368.0 L554.5 367.7 L555.0 368.0 L555.5 367.8 L556.0 368.0 L556.5 367.9 L557.0 367.8 L557.5 367.9 L558.0 368.1 L558.5 367.6 L559.0 367.7 L559.5 368.0 L560.0 367.3 L560.5 367.1 L561.0 367.6 L561.5 367.6 L562.0 368.0 L562.5 367.7 L563.0 367.3 L563.5 367.2 L564.0 367.5 L564.5 367.5 L565.0 367.6 L565.5 367.3 L566.0 367.3 L566.5 367.5 L567.0 367.3 L567.5 367.2 L568.0 367.6 L568.5 367.5 L569.0 367.6 L569.5 367.7 L570.0 367.3 L570.5 367.5 L571.0 367.2 L571.5 367.0 L572.0 368.7 L572.5 367.3 L573.0 367.4 L573.5 367.4 L574.0 366.8 L574.5 366.5 L575.0 366.6 L575.5 366.2 L576.0 366.3 L576.5 366.3 L577.0 366.0 L577.5 366.2 L578.0 366.0 L578.5 365.6 L579.0 365.3 L579.5 365.3 L580.0 364.9 L580.5 364.8 L581.0 364.5 L581.5 364.9 L582.0 364.9 L582.5 367.6 L583.0 366.6 L583.5 367.0 L584.0 364.5 L584.5 364.1 L585.0 364.0 L585.5 365.6 L586.0 365.9 L586.5 364.9 L587.0 363.3 L587.5 363.6 L588.0 363.8 L588.5 363.2 L589.0 363.2 L589.5 363.2 L590.0 363.4 L590.5 364.4 L591.0 370.6 L591.5 370.4 L592.0 362.7 L592.5 362.5 L593.0 362.3 L593.5 362.1 L594.0 361.8 L594.5 361.8 L595.0 361.9 L595.5 362.1 L596.0 361.9 L596.5 363.6 L597.0 363.9 L597.5 364.0 L598.0 361.6 L598.5 361.7 L599.0 361.5 L599.5 361.9 L600.0 361.5 L600.5 361.6 L601.0 361.3 L601.5 361.4 L602.0 361.4 L602.5 362.5 L603.0 363.0 L603.5 363.8 L604.0 361.0 L604.5 360.7 L605.0 360.5 L605.5 360.4 L606.0 360.6 L606.5 360.3 L607.0 360.5 L607.5 360.3 L608.0 360.6 L608.5 365.3 L609.0 365.4 L609.5 365.1 L610.0 360.1 L610.5 360.1 L611.0 360.2 L611.5 366.8 L612.0 366.1 L612.5 365.9 L613.0 359.7 L613.5 359.8 L614.0 359.2 L614.5 359.4 L615.0 359.2 L615.5 359.2 L616.0 359.5 L616.5 359.1 L617.0 359.4 L617.5 359.2 L618.0 359.3 L618.5 359.3 L619.0 359.0 L619.5 358.5 L620.0 358.5 L620.5 358.4 L621.0 358.8 L621.5 358.7 L622.0 358.4 L622.5 358.2 L623.0 358.1 L623.5 358.1 L624.0 369.7 L624.5 369.7 L625.0 357.8 L625.5 357.7 L626.0 357.9 L626.5 358.0 L627.0 357.8 L627.5 357.5 L628.0 357.4 L628.5 357.7 L629.0 357.3 L629.5 357.4 L630.0 357.0 L630.5 357.0 L631.0 357.2 L631.5 356.9 L632.0 356.6 L632.5 356.4 L633.0 356.8 L633.5 357.1 L634.0 356.9 L634.5 356.9 L635.0 357.0 L635.5 357.1 L636.0 359.3 L636.5 356.4 L637.0 356.4 L637.5 356.4 L638.0 356.6 L638.5 356.5 L639.0 355.9 L639.5 359.6 L640.0 359.1 L640.5 359.5 L641.0 355.8 L641.5 355.9 L642.0 355.5 L642.5 355.7 L643.0 355.9 L643.5 355.5 L644.0 355.4 L644.5 360.0 L645.0 360.3 L645.5 359.6 L646.0 355.0 L646.5 355.2 L647.0 355.1 L647.5 354.7 L648.0 354.9 L648.5 354.5 L649.0 354.2 L649.5 355.7 L650.0 355.7 L650.5 355.5 L651.0 354.2 L651.5 354.2 L652.0 354.3 L652.5 354.1 L653.0 354.0 L653.5 354.2 L654.0 354.4 L654.5 354.4 L655.0 354.3 L655.5 354.1 L656.0 354.3 L656.5 354.3 L657.0 354.3 L657.5 354.0 L658.0 353.8 L658.5 353.8 L659.0 355.9 L659.5 353.6 L660.0 353.4 L660.5 353.4 L661.0 353.3 L661.5 353.0 L662.0 353.0 L662.5 352.6 L663.0 352.5 L663.5 352.8 L664.0 352.7 L664.5 352.5 L665.0 352.6 L665.5 352.4 L666.0 352.4 L666.5 352.2 L667.0 352.6 L667.5 352.5 L668.0 352.3 L668.5 352.4 L669.0 352.4 L669.5 352.6 L670.0 352.6 L670.5 352.6 L671.0 352.8 L671.5 352.7 L672.0 352.8 L672.5 353.1 L673.0 352.8 L673.5 352.9 L674.0 353.3 L674.5 353.2 L675.0 353.4 L675.5 353.1 L676.0 352.7 L676.5 353.0 L677.0 353.3 L677.5 353.1 L678.0 353.2 L678.5 353.3 L679.0 353.2 L679.5 353.2 L680.0 353.0 L680.5 353.2 L681.0 353.0 L681.5 353.2 L682.0 352.8 L682.5 352.8 L683.0 352.9 L683.5 353.0 L684.0 352.8 L684.5 353.1 L685.0 353.3 L685.5 353.1 L686.0 353.0 L686.5 357.3 L687.0 357.1 L687.5 354.4 L688.0 352.3 L688.5 352.0 L689.0 351.7 L689.5 351.6 L690.0 351.5 L690.5 351.1 L691.0 351.0 L691.5 350.8 L692.0 350.6 L692.5 350.9 L693.0 350.8 L693.5 350.7 L694.0 350.5 L694.5 350.2 L695.0 350.4 L695.5 350.1 L696.0 349.8 L696.5 349.8 L697.0 349.5 L697.5 349.6 L698.0 349.3 L698.5 349.5 L699.0 349.4 L699.5 349.2 L700.0 349.4 L700.5 349.3 L701.0 349.2 L701.5 349.2 L702.0 349.1 L702.5 349.3 L703.0 349.0 L703.5 348.7 L704.0 348.6 L704.5 348.2 L705.0 348.4 L705.5 348.5 L706.0 348.2 L706.5 348.1 L707.0 347.8 L707.5 349.6 L708.0 350.2 L708.5 350.6 L709.0 347.4 L709.5 347.7 L710.0 347.5 L710.5 347.2 L711.0 347.7 L711.5 347.2 L712.0 347.2 L712.5 347.3 L713.0 347.3 L713.5 347.3 L714.0 347.3 L714.5 346.9 L715.0 346.9 L715.5 346.6 L716.0 346.6 L716.5 346.4 L717.0 346.4 L717.5 345.9 L718.0 345.9 L718.5 346.0 L719.0 345.7 L719.5 345.8 L720.0 345.8 L720.5 345.7 L721.0 345.7 L721.5 345.3 L722.0 345.5 L722.5 355.5 L723.0 355.7 L723.5 356.0 L724.0 355.9 L724.5 355.8 L725.0 355.9 L725.5 355.5 L726.0 355.3 L726.5 355.2 L727.0 355.3 L727.5 354.7 L728.0 355.0 L728.5 355.0 L729.0 354.9 L729.5 355.0 L730.0 354.6 L730.5 354.9 L731.0 354.9 L731.5 354.8 L732.0 354.3 L732.5 354.6 L733.0 354.7 L733.5 354.4 L734.0 354.5 L734.5 354.3 L735.0 354.3 L735.5 354.3 L736.0 354.2 L736.5 354.3 L737.0 354.9 L737.5 354.9 L738.0 353.4 L738.5 353.7 L739.0 353.6 L739.5 353.4 L740.0 353.4 L740.5 353.4 L741.0 353.4 L741.5 353.3 L742.0 353.3 L742.5 353.0 L743.0 352.9 L743.5 352.9 L744.0 352.9 L744.5 355.0 L745.0 355.9 L745.5 354.9 L746.0 352.9 L746.5 353.1 L747.0 353.0 L747.5 352.7 L748.0 352.7 L748.5 352.6 L749.0 352.8 L749.5 352.3 L750.0 352.4 L750.5 352.5 L751.0 352.2 L751.5 353.3 L752.0 353.5 L752.5 353.4 L753.0 351.8 L753.5 352.2 L754.0 352.3 L754.5 352.3 L755.0 352.2 L755.5 352.1 L756.0 352.2 L756.5 352.0 L757.0 351.7 L757.5 351.7 L758.0 352.0 L758.5 351.5 L759.0 351.7 L759.5 351.7 L760.0 351.6 L760.5 351.8 L761.0 351.7 L761.5 351.6 L762.0 351.5 L762.5 351.3 L763.0 351.0 L763.5 351.2 L764.0 360.3 L764.5 359.6 L765.0 357.2 L765.5 357.4 L766.0 349.3 L766.5 348.8 L767.0 348.4 L767.5 348.1 L768.0 347.7 L768.5 347.6 L769.0 347.4 L769.5 346.7 L770.0 348.1 L770.5 346.0 L771.0 345.3 L771.5 345.0 L772.0 344.6 L772.5 344.0 L773.0 343.8 L773.5 343.7 L774.0 343.4 L774.5 352.3 L775.0 352.1 L775.5 352.3 L776.0 343.2 L776.5 343.1 L777.0 342.9 L777.5 343.1 L778.0 343.2 L778.5 342.8 L779.0 342.8 L779.5 350.9 L780.0 351.4 L780.5 351.6 L781.0 343.5 L781.5 343.2 L782.0 342.9 L782.5 353.8 L783.0 353.3 L783.5 353.7 L784.0 342.9 L784.5 342.8 L785.0 342.5 L785.5 342.0 L786.0 342.1 L786.5 342.2 L787.0 342.2 L787.5 342.0 L788.0 342.1 L788.5 342.2 L789.0 342.1 L789.5 342.2 L790.0 342.3 L790.5 342.3 L791.0 342.0 L791.5 342.0 L792.0 342.2 L792.5 342.2 L793.0 341.7 L793.5 341.8 L794.0 341.6 L794.5 341.5 L795.0 341.1 L795.5 340.9 L796.0 340.7 L796.5 340.0 L797.0 340.0 L797.5 339.2 L798.0 339.0 L798.5 360.9 L799.0 360.5 L799.5 337.6 L800.0 337.5 L800.5 337.7 L801.0 337.4 L801.5 336.9 L802.0 336.8 L802.5 336.8 L803.0 337.0 L803.5 336.8 L804.0 336.8 L804.5 336.7 L805.0 336.3 L805.5 336.4 L806.0 338.8 L806.5 336.2 L807.0 335.9 L807.5 336.0 L808.0 336.1 L808.5 335.9 L809.0 336.1 L809.5 336.1 L810.0 336.0 L810.5 336.2 L811.0 335.9 L811.5 335.9 L812.0 336.0 L812.5 336.0 L813.0 335.9 L813.5 336.3 L814.0 336.1 L814.5 335.8 L815.0 335.7 L815.5 335.6 L816.0 335.9 L816.5 338.5 L817.0 335.9 L817.5 336.2 L818.0 336.3 L818.5 352.3 L819.0 352.0 L819.5 351.8 L820.0 336.0 L820.5 335.8 L821.0 335.7 L821.5 335.8 L822.0 335.8 L822.5 335.7 L823.0 335.5 L823.5 335.4 L824.0 335.6 L824.5 335.6 L825.0 335.6 L825.5 335.0 L826.0 335.4 L826.5 335.5 L827.0 335.6 L827.5 335.6 L828.0 335.4 L828.5 335.5 L829.0 335.6 L829.5 335.6 L830.0 335.5 L830.5 335.3 L831.0 335.4 L831.5 335.8 L832.0 335.6 L832.5 335.4 L833.0 335.7 L833.5 335.6 L834.0 335.5 L834.5 335.5 L835.0 335.1 L835.5 335.2 L836.0 335.3 L836.5 335.3 L837.0 335.2 L837.5 335.2 L838.0 335.5 L838.5 335.2 L839.0 335.2 L839.5 335.5 L840.0 335.4 L840.5 335.4 L841.0 335.4 L841.5 335.4 L842.0 335.1 L842.5 331.2 L843.0 327.4 L843.5 327.2 L844.0 327.6 L844.5 327.4 L845.0 327.7 L845.5 327.8 L846.0 327.6 L846.5 327.5 L847.0 327.6 L847.5 327.7 L848.0 327.5 L848.5 327.3 L849.0 327.3 L849.5 327.3 L850.0 327.1 L850.5 326.9 L851.0 326.6 L851.5 326.2 L852.0 325.9 L852.5 326.0 L853.0 326.0 L853.5 325.9 L854.0 325.7 L854.5 325.8 L855.0 331.9 L855.5 336.0 L856.0 335.9 L856.5 336.8 L857.0 337.2 L857.5 336.5 L858.0 335.6 L858.5 335.3 L859.0 335.6 L859.5 335.8 L860.0 335.8 L860.5 336.1 L861.0 336.2 L861.5 335.7 L862.0 335.7 L862.5 335.4 L863.0 335.7 L863.5 335.4 L864.0 335.8 L864.5 335.8 L865.0 335.9 L865.5 335.9 L866.0 336.0 L866.5 335.7 L867.0 335.7 L867.5 335.9 L868.0 336.2 L868.5 335.6 L869.0 336.1 L869.5 335.9 L870.0 336.2 L870.5 336.5 L871.0 336.3 L871.5 336.3 L872.0 336.4 L872.5 341.4 L873.0 341.2 L873.5 335.6 L874.0 335.3 L874.5 335.1 L875.0 334.9 L875.5 334.6 L876.0 334.3 L876.5 333.9 L877.0 333.9 L877.5 334.0 L878.0 333.4 L878.5 333.7 L879.0 333.5 L879.5 333.3 L880.0 334.7 L880.5 333.1 L881.0 333.0 L881.5 332.8 L882.0 332.5 L882.5 332.4 L883.0 332.2 L883.5 332.1 L884.0 331.6 L884.5 332.0 L885.0 332.3 L885.5 332.2 L886.0 332.5 L886.5 333.0 L887.0 333.0 L887.5 333.3 L888.0 333.5 L888.5 333.5 L889.0 334.1 L889.5 334.4 L890.0 343.3 L890.5 343.4 L891.0 343.8 L891.5 335.1 L892.0 335.2 L892.5 335.2 L893.0 335.3 L893.5 335.4 L894.0 335.8 L894.5 335.4 L895.0 335.6 L895.5 335.5 L896.0 335.5 L896.5 335.9 L897.0 335.5 L897.5 335.2 L898.0 335.7 L898.5 335.7 L899.0 335.9 L899.5 335.5 L900.0 335.3 L900.5 335.3 L901.0 335.2 L901.5 335.3 L902.0 335.1 L902.5 334.7 L903.0 334.9 L903.5 334.7 L904.0 334.5 L904.5 337.1 L905.0 337.6 L905.5 336.5 L906.0 334.3 L906.5 334.3 L907.0 334.3 L907.5 334.3 L908.0 334.0 L908.5 334.1 L909.0 334.0 L909.5 334.0 L910.0 333.9 L910.5 333.6 L911.0 333.5 L911.5 333.6 L912.0 333.3 L912.5 333.2 L913.0 333.3 L913.5 333.0 L914.0 333.4 L914.5 333.2 L915.0 332.8 L915.5 332.4 L916.0 332.5 L916.5 332.2 L917.0 332.0 L917.5 331.9 L918.0 332.0 L918.5 331.6 L919.0 331.7 L919.5 331.6 L920.0 331.6 L920.5 331.5 L921.0 331.2 L921.5 331.1 L922.0 331.0 L922.5 331.1 L923.0 330.6 L923.5 330.9 L924.0 330.8 L924.5 330.6 L925.0 330.5 L925.5 330.6 L926.0 330.4 L926.5 330.2 L927.0 329.9 L927.5 330.0 L928.0 329.9 L928.5 329.8 L929.0 329.5 L929.5 329.2 L930.0 329.3 L930.5 329.2 L931.0 328.8 L931.5 328.6 L932.0 328.8 L932.5 328.7 L933.0 328.9 L933.5 328.6 L934.0 328.7 L934.5 328.6 L935.0 328.6 L935.5 328.3 L936.0 330.1 L936.5 328.0 L937.0 327.7 L937.5 327.6 L938.0 327.8 L938.5 327.6 L939.0 327.7 L939.5 327.7 L940.0 327.4 L940.5 326.9 L941.0 327.3 L941.5 329.8 L942.0 327.5 L942.5 327.2 L943.0 327.2 L943.5 326.6 L944.0 326.9 L944.5 326.5 L945.0 326.5 L945.5 326.2 L946.0 326.4 L946.5 326.1 L947.0 326.5 L947.5 325.8 L948.0 325.8 L948.5 325.6 L949.0 325.2 L949.5 324.5 L950.0 324.5 L950.5 324.1 L951.0 324.1 L951.5 323.4 L952.0 323.5 L952.5 323.1 L953.0 322.9 L953.5 322.9 L954.0 322.3 L954.5 322.3 L955.0 322.5 L955.5 322.5 L956.0 322.3 L956.5 322.1 L957.0 321.4 L957.5 321.3 L958.0 320.9 L958.5 320.8 L959.0 320.8 L959.5 320.5 L960.0 320.5 L960.5 320.2 L961.0 319.9 L961.5 319.3 L962.0 318.9 L962.5 319.1 L963.0 318.5 L963.5 318.2 L964.0 318.2 L964.5 317.9 L965.0 317.4 L965.5 317.4 L966.0 317.1 L966.5 317.0 L967.0 317.3 L967.5 317.6 L968.0 317.1 L968.5 317.3 L969.0 317.3 L969.5 317.2 L970.0 317.2 L970.5 316.8 L971.0 317.0 L971.5 317.0 L972.0 317.1 L972.5 317.0 L973.0 317.0 L973.5 316.7 L974.0 316.6 L974.5 316.4 L975.0 316.3 L975.5 316.4 L976.0 316.2 L976.5 316.5 L977.0 318.0 L977.5 316.1 L978.0 315.6 L978.5 315.6 L979.0 315.5 L979.5 315.6 L980.0 315.6 L980.5 315.6 L981.0 315.5 L981.5 314.9 L982.0 314.7 L982.5 314.9 L983.0 314.5 L983.5 314.8 L984.0 314.6 L984.5 314.2 L985.0 314.4 L985.5 314.4 L986.0 314.3 L986.5 314.4 L987.0 314.3 L987.5 313.9 L988.0 313.9 L988.5 313.9 L989.0 313.7 L989.5 313.8 L990.0 313.8 L990.5 313.4 L991.0 313.5 L991.5 313.4 L992.0 313.6 L992.5 313.5 L993.0 330.2 L993.5 331.3 L994.0 330.7 L994.5 311.8 L995.0 311.6 L995.5 311.0 L996.0 310.3 L996.5 309.7 L997.0 309.6 L997.5 309.8 L998.0 309.2 L998.5 308.9 L999.0 308.8 L999.5 309.1 L1000.0 309.2 L1000.5 309.0 L1001.0 308.8 L1001.5 308.7 L1002.0 309.0 L1002.5 308.4 L1003.0 308.5 L1003.5 308.2 L1004.0 308.2 L1004.5 307.9 L1005.0 307.7 L1005.5 307.7 L1006.0 307.3 L1006.5 307.3 L1007.0 307.2 L1007.5 307.1 L1008.0 306.7 L1008.5 306.4 L1009.0 306.6 L1009.5 306.5 L1010.0 307.4 L1010.5 306.0 L1011.0 305.8 L1011.5 305.4 L1012.0 305.4 L1012.5 305.3 L1013.0 306.7 L1013.5 305.1 L1014.0 305.3 L1014.5 304.8 L1015.0 305.1 L1015.5 305.1 L1016.0 305.1 L1016.5 304.9 L1017.0 304.5 L1017.5 304.3 L1018.0 304.0 L1018.5 305.7 L1019.0 303.9 L1019.5 304.2 L1020.0 304.6 L1020.5 303.9 L1021.0 304.2 L1021.5 304.0 L1022.0 304.0 L1022.5 304.0 L1023.0 303.8 L1023.5 303.4 L1024.0 303.3 L1024.5 305.1 L1025.0 303.6 L1025.5 303.9 L1026.0 303.6 L1026.5 303.6 L1027.0 303.7 L1027.5 303.7 L1028.0 303.5 L1028.5 303.8 L1029.0 303.5 L1029.5 305.8 L1030.0 305.8 L1030.5 305.8 L1031.0 303.4 L1031.5 303.0 L1032.0 303.1 L1032.5 303.0 L1033.0 303.3 L1033.5 303.0 L1034.0 302.7 L1034.5 302.8 L1035.0 302.6 L1035.5 302.8 L1036.0 303.0 L1036.5 302.8 L1037.0 302.5 L1037.5 302.5 L1038.0 302.7 L1038.5 302.7 L1039.0 302.9 L1039.5 302.7 L1040.0 302.7 L1040.5 302.8 L1041.0 302.7 L1041.5 302.4 L1042.0 302.2 L1042.5 302.2 L1043.0 302.0 L1043.5 301.7 L1044.0 301.5 L1044.5 301.3 L1045.0 301.6 L1045.5 301.5 L1046.0 301.6 L1046.5 301.6 L1047.0 301.8 L1047.5 301.7 L1048.0 301.6 L1048.5 301.4 L1049.0 301.7 L1049.5 302.7 L1050.0 301.8 L1050.5 301.6 L1051.0 301.7 L1051.5 301.5 L1052.0 301.7 L1052.5 301.8 L1053.0 301.5 L1053.5 301.5 L1054.0 301.0 L1054.5 301.1 L1055.0 300.7 L1055.5 300.9 L1056.0 300.9 L1056.5 300.8 L1057.0 300.6 L1057.5 302.7 L1058.0 303.4 L1058.5 303.4 L1059.0 301.3 L1059.5 301.3 L1060.0 301.1 L1060.5 304.5 L1061.0 304.5 L1061.5 304.7 L1062.0 301.0 L1062.5 308.6 L1063.0 308.3 L1063.5 308.3 L1064.0 301.7 L1064.5 302.1 L1065.0 302.0 L1065.5 310.9 L1066.0 310.8 L1066.5 311.0 L1067.0 302.9 L1067.5 302.7 L1068.0 303.1 L1068.5 302.9 L1069.0 303.5 L1069.5 314.7 L1070.0 314.4 L1070.5 313.9 L1071.0 302.7 L1071.5 307.3 L1072.0 307.0 L1072.5 306.7 L1073.0 302.3 L1073.5 305.4 L1074.0 305.1 L1074.5 304.8 L1075.0 301.7 L1075.5 301.8 L1076.0 301.7 L1076.5 303.2 L1077.0 303.2 L1077.5 303.8 L1078.0 302.3 L1078.5 302.5 L1079.0 302.5 L1079.5 302.1 L1080.0 302.0 L1080.5 302.3 L1081.0 310.8 L1081.5 310.7 L1082.0 311.1 L1082.5 302.0 L1083.0 301.8 L1083.5 309.0 L1084.0 308.9 L1084.5 309.5 L1085.0 301.7 L1085.5 310.0 L1086.0 310.7 L1086.5 310.8 L1087.0 300.9 L1087.5 300.5 L1088.0 300.3 L1088.5 300.4 L1089.0 300.1 L1089.5 299.7 L1090.0 299.8 L1090.5 299.9 L1091.0 299.9 L1091.5 299.5 L1092.0 299.5 L1092.5 299.8 L1093.0 299.9 L1093.5 299.9 L1094.0 299.8 L1094.5 299.8 L1095.0 299.6 L1095.5 299.5 L1096.0 299.8 L1096.5 299.7 L1097.0 299.6 L1097.5 299.4 L1098.0 299.4 L1098.5 299.4 L1099.0 299.7 L1099.5 301.8 L1100.0 301.8 L1100.5 300.6 L1101.0 298.9 L1101.5 298.9 L1102.0 299.0 L1102.5 298.9 L1103.0 299.2 L1103.5 299.4 L1104.0 298.8 L1104.5 298.8 L1105.0 298.3 L1105.5 298.4 L1106.0 298.7 L1106.5 298.4 L1107.0 298.7 L1107.5 298.9 L1108.0 298.7 L1108.5 298.5 L1109.0 298.9 L1109.5 298.9 L1110.0 298.8 L1110.5 298.9 L1111.0 298.8 L1111.5 299.0 L1112.0 298.6 L1112.5 298.7 L1113.0 298.4 L1113.5 298.6 L1114.0 298.8 L1114.5 298.6 L1115.0 298.3 L1115.5 298.6 L1116.0 298.1 L1116.5 298.3 L1117.0 298.2 L1117.5 298.1 L1118.0 298.3 L1118.5 298.1 L1119.0 297.7 L1119.5 297.4 L1120.0 297.4 L1120.5 297.5 L1121.0 297.6 L1121.5 297.7 L1122.0 297.2 L1122.5 297.2 L1123.0 297.3 L1123.5 297.0 L1124.0 297.1 L1124.5 297.0 L1125.0 297.0 L1125.5 297.0 L1126.0 296.5 L1126.5 296.9 L1127.0 296.8 L1127.5 296.3 L1128.0 296.4 L1128.5 296.2 L1129.0 296.1 L1129.5 295.9 L1130.0 296.0 L1130.5 295.6 L1131.0 295.7 L1131.5 295.7 L1132.0 295.8 L1132.5 296.0 L1133.0 296.6 L1133.5 296.7 L1134.0 296.9 L1134.5 297.2 L1135.0 297.3 L1135.5 297.9 L1136.0 298.2 L1136.5 298.4 L1137.0 298.8 L1137.5 298.9 L1138.0 300.6 L1138.5 299.7 L1139.0 314.6 L1139.5 315.0 L1140.0 314.8 L1140.5 311.5 L1141.0 311.2 L1141.5 311.4 L1142.0 301.1 L1142.5 301.3 L1143.0 301.4 L1143.5 300.9 L1144.0 301.4 L1144.5 301.4 L1145.0 301.6 L1145.5 301.6 L1146.0 302.5 L1146.5 301.3 L1147.0 301.4 L1147.5 301.2 L1148.0 301.3 L1148.5 301.4 L1149.0 301.4 L1149.5 301.5 L1150.0 301.8 L1150.5 301.7 L1151.0 301.9 L1151.5 302.0 L1152.0 302.3 L1152.5 302.4 L1153.0 302.2 L1153.5 302.1 L1154.0 301.7 L1154.5 301.9 L1155.0 301.9 L1155.5 301.8 L1156.0 301.7 L1156.5 302.1 L1157.0 301.8 L1157.5 301.4 L1158.0 301.2 L1158.5 301.3 L1159.0 300.9 L1159.5 301.3 L1160.0 301.2 L1160.5 301.2 L1161.0 301.3 L1161.5 301.2 L1162.0 301.4 L1162.5 301.9 L1163.0 301.5 L1163.5 301.5 L1164.0 301.6 L1164.5 301.9 L1165.0 301.4 L1165.5 301.7 L1166.0 301.3 L1166.5 301.6 L1167.0 301.3 L1167.5 301.4 L1168.0 301.6 L1168.5 299.5 L1169.0 297.7 L1169.5 297.9 L1170.0 297.9 L1170.5 298.0 L1171.0 297.8 L1171.5 297.7 L1172.0 297.8 L1172.5 297.8 L1173.0 297.7 L1173.5 297.8 L1174.0 297.7 L1174.5 297.6 L1175.0 297.5 L1175.5 297.3 L1176.0 297.3 L1176.5 297.7 L1177.0 297.7 L1177.5 297.6 L1178.0 297.7 L1178.5 297.5 L1179.0 298.5 L1179.5 296.9 L1180.0 296.7 L1180.5 296.4 L1181.0 296.7 L1181.5 296.2 L1182.0 296.1 L1182.5 296.2 L1183.0 296.2 L1183.5 296.4 L1184.0 296.4 L1184.5 298.8 L1185.0 298.3 L1185.5 298.8 L1186.0 296.2 L1186.5 296.1 L1187.0 296.0 L1187.5 296.0 L1188.0 296.0 L1188.5 295.9 L1189.0 295.9 L1189.5 295.7 L1190.0 296.0 L1190.5 296.1 L1191.0 296.0 L1191.5 296.2 L1192.0 295.8 L1192.5 296.0 L1193.0 296.2 L1193.5 296.2 L1194.0 296.2 L1194.5 296.0 L1195.0 296.2 L1195.5 296.2 L1196.0 296.1 L1196.5 296.0 L1197.0 295.6 L1197.5 295.8 L1198.0 295.3 L1198.5 295.3 L1199.0 295.0 L1199.5 295.1 L1200.0 295.0 L1200.5 295.3 L1201.0 295.5 L1201.5 295.5 L1202.0 295.4 L1202.5 295.4 L1203.0 295.6 L1203.5 295.5 L1204.0 295.1 L1204.5 295.3 L1205.0 294.9 L1205.5 295.1 L1206.0 295.0 L1206.5 295.2 L1207.0 295.0 L1207.5 295.2 L1208.0 294.7 L1208.5 295.0 L1209.0 295.0 L1209.5 294.6 L1210.0 294.7 L1210.5 294.9 L1211.0 294.7 L1211.5 294.5 L1212.0 294.3 L1212.5 294.2 L1213.0 294.4 L1213.5 295.4 L1214.0 294.3 L1214.5 294.1 L1215.0 294.4 L1215.5 294.2 L1216.0 294.2 L1216.5 294.4 L1217.0 294.5 L1217.5 294.5 L1218.0 294.3 L1218.5 294.3 L1219.0 294.0 L1219.5 293.8 L1220.0 294.0 L1220.5 293.9 L1221.0 293.6 L1221.5 293.6 L1222.0 293.5 L1222.5 293.9 L1223.0 294.0 L1223.5 293.8 L1224.0 293.6 L1224.5 293.5 L1225.0 293.5 L1225.5 293.4 L1226.0 293.7 L1226.5 294.0 L1227.0 293.7 L1227.5 293.9 L1228.0 293.6 L1228.5 293.5 L1229.0 293.7 L1229.5 293.6 L1230.0 293.3 L1230.5 293.1 L1231.0 293.3 L1231.5 293.2 L1232.0 293.0 L1232.5 293.3 L1233.0 293.7 L1233.5 293.5 L1234.0 293.3 L1234.5 293.8 L1235.0 293.6 L1235.5 293.3 L1236.0 293.8 L1236.5 293.7 L1237.0 293.6 L1237.5 293.5 L1238.0 293.5 L1238.5 293.8 L1239.0 293.7 L1239.5 294.1 L1240.0 294.1 L1240.5 294.3 L1241.0 294.0 L1241.5 294.1 L1242.0 293.8 L1242.5 294.4 L1243.0 294.3 L1243.5 294.2 L1244.0 294.3 L1244.5 293.9 L1245.0 294.3 L1245.5 294.2 L1246.0 294.2 L1246.5 295.8 L1247.0 294.1 L1247.5 294.2 L1248.0 294.2" stroke="#12c83b" stroke-width="1.15" fill="none"/>
<path d="M451 422 H1248.5" stroke="#c6cad2" stroke-width="1.2"/>
</svg>
<div class="a ax" style="left:412.0px;top:428.0px;width:80px;text-align:center">2021-02-22</div>
<div class="a ax" style="left:499.2px;top:428.0px;width:80px;text-align:center">2021-06-22</div>
<div class="a ax" style="left:586.5px;top:428.0px;width:80px;text-align:center">2021-10-20</div>
<div class="a ax" style="left:673.8px;top:428.0px;width:80px;text-align:center">2022-02-17</div>
<div class="a ax" style="left:761.0px;top:428.0px;width:80px;text-align:center">2022-06-17</div>
<div class="a ax" style="left:848.2px;top:428.0px;width:80px;text-align:center">2022-10-15</div>
<div class="a ax" style="left:935.5px;top:428.0px;width:80px;text-align:center">2023-02-12</div>
<div class="a ax" style="left:1022.8px;top:428.0px;width:80px;text-align:center">2023-06-12</div>
<div class="a ax" style="left:1110.0px;top:428.0px;width:80px;text-align:center">2023-10-10</div>
<div class="a ax" style="left:1197.2px;top:428.0px;width:80px;text-align:center">2024-02-07</div>
<svg class="a" style="left:309px;top:475px" width="1019" height="215" viewBox="309 475 1019 215">
<defs><linearGradient id="g2" gradientUnits="userSpaceOnUse" x1="0" y1="548" x2="0" y2="642"><stop offset="0" stop-color="#b07276"/><stop offset="1" stop-color="#322e44"/></linearGradient></defs>
<path d="M452.5 632.0 L453.6 612.0 L454.0 612.0 L455.0 611.7 L456.0 611.7 L457.0 611.6 L458.0 611.6 L459.0 611.4 L460.0 611.5 L461.0 611.2 L462.0 611.1 L463.0 611.0 L464.0 610.9 L465.0 610.8 L466.0 610.6 L467.0 610.5 L468.0 610.4 L469.0 610.5 L470.0 610.2 L471.0 610.1 L472.0 610.3 L473.0 610.1 L474.0 609.8 L475.0 609.7 L476.0 609.6 L477.0 609.8 L478.0 609.7 L479.0 609.3 L480.0 609.3 L481.0 609.2 L482.0 609.1 L483.0 609.0 L484.0 608.8 L485.0 608.8 L486.0 608.7 L487.0 608.4 L488.0 608.5 L489.0 608.5 L490.0 608.4 L491.0 608.3 L492.0 608.0 L493.0 607.8 L494.0 608.0 L495.0 607.6 L496.0 607.6 L497.0 607.5 L498.0 607.3 L499.0 607.4 L500.0 607.3 L501.0 607.3 L502.0 607.1 L503.0 606.8 L504.0 606.7 L505.0 606.8 L506.0 606.5 L507.0 606.5 L508.0 606.6 L509.0 606.2 L510.0 606.2 L511.0 606.2 L512.0 606.0 L513.0 606.0 L514.0 605.8 L515.0 605.6 L516.0 605.7 L517.0 605.6 L518.0 605.2 L519.0 605.3 L520.0 605.1 L521.0 604.9 L522.0 605.0 L523.0 604.8 L524.0 604.9 L525.0 604.8 L526.0 604.5 L527.0 604.4 L528.0 604.2 L529.0 604.2 L530.0 604.2 L531.0 604.0 L532.0 603.9 L533.0 603.7 L534.0 603.6 L535.0 603.7 L536.0 603.5 L537.0 603.6 L538.0 603.5 L539.0 603.4 L540.0 603.0 L541.0 603.0 L542.0 602.8 L543.0 602.8 L544.0 602.6 L545.0 602.5 L546.0 602.6 L547.0 602.4 L548.0 602.3 L549.0 602.3 L550.0 602.0 L551.0 602.0 L552.0 602.0 L553.0 601.8 L554.0 601.5 L555.0 601.4 L556.0 601.3 L557.0 601.4 L558.0 601.3 L559.0 601.1 L560.0 601.0 L561.0 601.1 L562.0 600.9 L563.0 600.8 L564.0 600.7 L565.0 600.5 L566.0 600.4 L567.0 600.4 L568.0 600.1 L569.0 600.2 L570.0 599.9 L571.0 599.8 L572.0 599.8 L573.0 599.8 L574.0 599.5 L575.0 599.5 L576.0 599.4 L577.0 599.1 L578.0 599.1 L579.0 598.9 L580.0 598.8 L581.0 598.4 L582.0 598.3 L583.0 598.1 L584.0 598.0 L585.0 598.0 L586.0 597.6 L587.0 597.6 L588.0 597.5 L589.0 597.2 L590.0 597.1 L591.0 596.8 L592.0 596.7 L593.0 596.5 L594.0 596.4 L595.0 596.2 L596.0 596.2 L597.0 596.0 L598.0 595.7 L599.0 595.8 L600.0 595.4 L601.0 595.2 L602.0 595.1 L603.0 595.2 L604.0 595.1 L605.0 594.9 L606.0 594.8 L607.0 594.6 L608.0 594.5 L609.0 594.2 L610.0 594.2 L611.0 594.1 L612.0 594.1 L613.0 593.8 L614.0 593.6 L615.0 593.8 L616.0 593.6 L617.0 593.2 L618.0 593.4 L619.0 593.3 L620.0 592.9 L621.0 592.9 L622.0 592.7 L623.0 592.5 L624.0 592.5 L625.0 592.5 L626.0 592.3 L627.0 592.2 L628.0 592.1 L629.0 591.9 L630.0 591.7 L631.0 591.5 L632.0 591.5 L633.0 591.4 L634.0 591.3 L635.0 591.2 L636.0 591.1 L637.0 590.7 L638.0 590.7 L639.0 590.6 L640.0 590.6 L641.0 590.4 L642.0 590.4 L643.0 590.2 L644.0 590.3 L645.0 590.1 L646.0 589.9 L647.0 590.0 L648.0 589.9 L649.0 589.8 L650.0 589.8 L651.0 589.7 L652.0 589.6 L653.0 589.4 L654.0 589.4 L655.0 589.2 L656.0 589.1 L657.0 589.3 L658.0 588.9 L659.0 588.9 L660.0 588.8 L661.0 588.7 L662.0 588.7 L663.0 588.5 L664.0 588.5 L665.0 588.6 L666.0 588.3 L667.0 588.2 L668.0 588.1 L669.0 588.1 L670.0 588.1 L671.0 588.1 L672.0 587.9 L673.0 587.8 L674.0 587.6 L675.0 587.6 L676.0 587.6 L677.0 587.6 L678.0 587.4 L679.0 587.2 L680.0 587.1 L681.0 587.0 L682.0 587.1 L683.0 586.9 L684.0 587.0 L685.0 586.8 L686.0 586.9 L687.0 586.6 L688.0 586.5 L689.0 586.5 L690.0 586.3 L691.0 586.1 L692.0 586.1 L693.0 586.0 L694.0 585.8 L695.0 585.6 L696.0 585.4 L697.0 585.3 L698.0 585.2 L699.0 585.2 L700.0 584.8 L701.0 584.7 L702.0 584.6 L703.0 584.6 L704.0 584.4 L705.0 584.2 L706.0 583.9 L707.0 583.9 L708.0 583.6 L709.0 583.7 L710.0 583.6 L711.0 583.3 L712.0 583.2 L713.0 583.0 L714.0 582.8 L715.0 582.8 L716.0 582.5 L717.0 582.4 L718.0 582.2 L719.0 582.0 L720.0 582.0 L721.0 584.5 L722.0 586.9 L723.0 587.8 L724.0 587.7 L725.0 587.5 L726.0 587.4 L727.0 587.1 L728.0 587.0 L729.0 586.6 L730.0 586.5 L731.0 586.3 L732.0 586.1 L733.0 586.0 L734.0 585.6 L735.0 585.6 L736.0 585.4 L737.0 585.3 L738.0 584.8 L739.0 584.9 L740.0 584.6 L741.0 584.5 L742.0 584.1 L743.0 584.1 L744.0 583.8 L745.0 583.5 L746.0 583.5 L747.0 583.1 L748.0 582.9 L749.0 582.9 L750.0 582.5 L751.0 582.5 L752.0 582.3 L753.0 582.1 L754.0 581.8 L755.0 581.5 L756.0 581.4 L757.0 581.3 L758.0 581.2 L759.0 581.0 L760.0 580.6 L761.0 580.4 L762.0 580.3 L763.0 580.0 L764.0 579.9 L765.0 579.8 L766.0 579.6 L767.0 579.3 L768.0 579.1 L769.0 578.9 L770.0 578.7 L771.0 578.4 L772.0 578.3 L773.0 578.3 L774.0 578.2 L775.0 577.7 L776.0 577.6 L777.0 577.5 L778.0 577.2 L779.0 576.9 L780.0 576.8 L781.0 576.6 L782.0 576.6 L783.0 576.4 L784.0 576.1 L785.0 576.0 L786.0 575.8 L787.0 575.6 L788.0 575.5 L789.0 575.1 L790.0 574.9 L791.0 574.8 L792.0 574.4 L793.0 574.4 L794.0 574.2 L795.0 573.9 L796.0 573.9 L797.0 573.7 L798.0 573.4 L799.0 573.3 L800.0 572.9 L801.0 572.7 L802.0 572.9 L803.0 572.6 L804.0 572.4 L805.0 572.3 L806.0 572.2 L807.0 572.2 L808.0 572.0 L809.0 572.0 L810.0 571.9 L811.0 571.7 L812.0 571.5 L813.0 571.6 L814.0 571.4 L815.0 571.2 L816.0 571.0 L817.0 570.9 L818.0 570.9 L819.0 570.8 L820.0 570.5 L821.0 570.6 L822.0 570.4 L823.0 570.3 L824.0 570.1 L825.0 570.0 L826.0 570.0 L827.0 569.9 L828.0 569.7 L829.0 569.5 L830.0 569.4 L831.0 569.3 L832.0 569.0 L833.0 569.1 L834.0 568.9 L835.0 568.9 L836.0 568.7 L837.0 568.7 L838.0 568.4 L839.0 568.3 L840.0 568.2 L841.0 568.0 L842.0 568.0 L843.0 568.0 L844.0 567.7 L845.0 567.5 L846.0 567.4 L847.0 567.3 L848.0 567.3 L849.0 567.0 L850.0 567.0 L851.0 566.9 L852.0 566.8 L853.0 566.7 L854.0 566.5 L855.0 566.3 L856.0 566.1 L857.0 566.1 L858.0 565.9 L859.0 565.8 L860.0 565.8 L861.0 565.5 L862.0 565.5 L863.0 565.3 L864.0 565.3 L865.0 565.3 L866.0 565.1 L867.0 565.0 L868.0 564.8 L869.0 564.8 L870.0 564.6 L871.0 564.6 L872.0 564.3 L873.0 564.1 L874.0 572.9 L875.0 572.7 L876.0 572.7 L877.0 572.7 L878.0 572.6 L879.0 572.3 L880.0 572.3 L881.0 572.1 L882.0 572.0 L883.0 571.9 L884.0 571.7 L885.0 571.9 L886.0 571.6 L887.0 571.5 L888.0 571.4 L889.0 571.4 L890.0 571.2 L891.0 571.1 L892.0 570.9 L893.0 570.9 L894.0 570.6 L895.0 570.5 L896.0 575.3 L897.0 575.2 L898.0 575.0 L899.0 574.9 L900.0 574.8 L901.0 574.5 L902.0 574.4 L903.0 574.2 L904.0 574.0 L905.0 573.9 L906.0 573.8 L907.0 573.7 L908.0 573.6 L909.0 573.3 L910.0 573.0 L911.0 573.1 L912.0 572.8 L913.0 572.7 L914.0 572.5 L915.0 572.4 L916.0 572.2 L917.0 572.1 L918.0 572.0 L919.0 571.8 L920.0 571.7 L921.0 571.4 L922.0 571.0 L923.0 570.8 L924.0 570.6 L925.0 570.4 L926.0 570.2 L927.0 570.1 L928.0 569.6 L929.0 569.5 L930.0 569.4 L931.0 569.1 L932.0 568.7 L933.0 568.5 L934.0 568.3 L935.0 567.9 L936.0 567.6 L937.0 567.5 L938.0 567.2 L939.0 567.2 L940.0 566.8 L941.0 566.6 L942.0 566.2 L943.0 566.1 L944.0 565.7 L945.0 565.6 L946.0 565.4 L947.0 565.1 L948.0 565.0 L949.0 564.8 L950.0 564.5 L951.0 564.3 L952.0 563.9 L953.0 563.6 L954.0 563.6 L955.0 563.2 L956.0 563.0 L957.0 562.8 L958.0 562.7 L959.0 562.5 L960.0 562.3 L961.0 562.1 L962.0 562.0 L963.0 561.8 L964.0 561.6 L965.0 561.6 L966.0 561.4 L967.0 561.2 L968.0 561.2 L969.0 561.0 L970.0 560.7 L971.0 560.7 L972.0 560.5 L973.0 560.5 L974.0 560.2 L975.0 560.1 L976.0 559.8 L977.0 559.8 L978.0 559.7 L979.0 559.5 L980.0 559.4 L981.0 559.3 L982.0 559.0 L983.0 559.0 L984.0 558.7 L985.0 558.5 L986.0 558.5 L987.0 558.2 L988.0 558.1 L989.0 558.1 L990.0 557.8 L991.0 557.7 L992.0 557.6 L993.0 557.5 L994.0 557.3 L995.0 557.0 L996.0 556.3 L997.0 553.9 L998.0 553.6 L999.0 553.6 L1000.0 553.4 L1001.0 553.0 L1002.0 553.0 L1003.0 552.8 L1004.0 552.6 L1005.0 552.4 L1006.0 552.3 L1007.0 552.0 L1008.0 551.9 L1009.0 551.7 L1010.0 551.4 L1011.0 551.4 L1012.0 551.1 L1013.0 550.9 L1014.0 550.7 L1015.0 550.5 L1016.0 550.5 L1017.0 550.3 L1018.0 550.2 L1019.0 550.0 L1019.2 549.9 L1019.4 613.0 L1019.5 613.0 L1020.5 612.8 L1021.5 612.7 L1022.5 612.7 L1023.5 612.6 L1024.5 612.4 L1025.5 612.4 L1026.5 612.3 L1027.5 612.2 L1028.5 612.0 L1029.5 611.9 L1030.5 611.8 L1031.5 611.8 L1032.5 611.6 L1033.5 611.5 L1034.5 611.3 L1035.5 611.3 L1036.5 611.1 L1037.5 611.0 L1038.5 610.9 L1039.5 610.8 L1040.5 610.7 L1041.5 610.7 L1042.5 610.5 L1043.5 610.5 L1044.5 610.3 L1045.5 610.3 L1046.5 610.1 L1047.5 610.0 L1048.5 609.9 L1049.5 609.8 L1050.5 609.6 L1051.5 609.6 L1052.5 609.4 L1053.5 609.5 L1054.5 609.2 L1055.5 609.1 L1056.5 608.7 L1057.5 608.7 L1058.5 608.4 L1059.5 608.3 L1060.5 608.2 L1061.5 608.2 L1062.5 608.1 L1063.5 608.1 L1064.5 608.0 L1065.5 608.0 L1066.5 608.0 L1067.5 608.0 L1068.5 608.8 L1069.5 609.4 L1070.5 609.4 L1071.5 609.5 L1072.5 609.4 L1073.5 609.5 L1074.5 609.5 L1075.5 609.4 L1076.5 609.4 L1077.5 609.5 L1078.5 609.4 L1079.5 609.5 L1080.5 609.4 L1081.5 609.3 L1082.5 609.4 L1083.5 609.5 L1084.5 609.3 L1085.5 609.3 L1086.5 609.4 L1087.5 609.3 L1088.5 609.3 L1089.5 609.3 L1090.5 609.2 L1091.5 609.1 L1092.5 609.1 L1093.5 609.1 L1094.5 609.1 L1095.5 608.8 L1096.5 608.8 L1097.5 608.7 L1098.5 608.6 L1099.5 608.5 L1100.5 608.6 L1101.5 608.5 L1102.5 608.4 L1103.5 608.2 L1104.5 608.3 L1105.5 608.1 L1106.5 608.1 L1107.5 608.0 L1108.5 608.0 L1109.5 607.7 L1110.5 607.8 L1111.5 607.8 L1112.5 607.7 L1113.5 607.6 L1114.5 607.4 L1115.5 607.3 L1116.5 607.3 L1117.5 607.2 L1118.5 607.2 L1119.5 607.1 L1120.5 607.0 L1121.5 606.9 L1122.5 606.8 L1123.5 606.9 L1124.5 606.7 L1125.5 606.6 L1126.5 606.5 L1127.5 606.6 L1128.5 606.5 L1129.5 606.3 L1130.5 606.2 L1131.5 606.3 L1132.5 606.3 L1133.5 606.3 L1134.5 606.4 L1135.5 606.3 L1136.5 606.4 L1137.5 606.3 L1138.5 606.3 L1139.5 606.4 L1140.5 606.2 L1141.5 606.4 L1142.5 606.4 L1143.5 606.2 L1144.5 606.3 L1145.5 608.2 L1146.5 609.9 L1147.5 609.8 L1148.5 609.9 L1149.5 609.7 L1150.5 609.7 L1151.5 609.6 L1152.5 609.7 L1153.5 609.6 L1154.5 609.5 L1155.5 609.4 L1156.5 609.4 L1157.5 609.4 L1158.5 609.2 L1159.5 609.3 L1160.5 609.2 L1161.5 609.1 L1162.5 609.1 L1163.5 608.9 L1164.5 608.9 L1165.5 608.8 L1166.5 608.7 L1167.5 608.2 L1168.5 607.8 L1169.5 607.5 L1170.5 607.3 L1171.5 607.3 L1172.5 607.1 L1173.5 607.2 L1174.5 607.2 L1175.5 607.0 L1176.5 607.0 L1177.5 607.0 L1178.5 606.8 L1179.5 606.9 L1180.5 606.8 L1181.5 606.7 L1182.5 606.8 L1183.5 606.7 L1184.5 606.6 L1185.5 606.5 L1186.5 606.6 L1187.5 606.5 L1188.5 606.5 L1189.5 606.4 L1190.5 606.3 L1191.5 606.4 L1192.5 606.2 L1193.5 606.2 L1194.5 606.1 L1195.5 606.1 L1196.5 606.1 L1197.5 606.1 L1198.5 606.0 L1199.5 606.0 L1200.5 605.9 L1201.5 605.9 L1202.5 605.8 L1203.5 605.7 L1204.5 605.7 L1205.5 605.8 L1206.5 605.7 L1207.5 605.6 L1208.5 605.5 L1209.5 605.6 L1210.5 605.5 L1211.5 605.3 L1212.5 605.4 L1213.5 605.4 L1214.5 605.2 L1215.5 605.1 L1216.5 605.2 L1217.5 605.1 L1218.5 605.0 L1219.5 605.0 L1220.5 604.9 L1221.5 605.0 L1222.5 605.0 L1223.5 604.8 L1224.5 604.9 L1225.5 604.7 L1226.5 604.2 L1227.5 603.9 L1228.5 603.9 L1229.5 603.7 L1230.5 604.0 L1231.5 603.9 L1232.5 604.0 L1233.5 603.9 L1234.5 604.0 L1235.5 604.1 L1236.5 604.0 L1237.5 604.1 L1238.5 604.1 L1239.5 604.2 L1240.5 604.1 L1241.5 604.1 L1242.5 604.2 L1243.5 604.3 L1244.5 604.2 L1245.5 604.3 L1246.5 604.4 L1247.5 604.4 L1248 641.7 L452.5 641.7 Z" fill="#4a5466"/>
<path d="M452.5 632.0 L453.6 612.0 L454.0 612.0 L455.0 611.7 L456.0 611.7 L457.0 611.6 L458.0 611.6 L459.0 611.4 L460.0 611.5 L461.0 611.2 L462.0 611.1 L463.0 611.0 L464.0 610.9 L465.0 610.8 L466.0 610.6 L467.0 610.5 L468.0 610.4 L469.0 610.5 L470.0 610.2 L471.0 610.1 L472.0 610.3 L473.0 610.1 L474.0 609.8 L475.0 609.7 L476.0 609.6 L477.0 609.8 L478.0 609.7 L479.0 609.3 L480.0 609.3 L481.0 609.2 L482.0 609.1 L483.0 609.0 L484.0 608.8 L485.0 608.8 L486.0 608.7 L487.0 608.4 L488.0 608.5 L489.0 608.5 L490.0 608.4 L491.0 608.3 L492.0 608.0 L493.0 607.8 L494.0 608.0 L495.0 607.6 L496.0 607.6 L497.0 607.5 L498.0 607.3 L499.0 607.4 L500.0 607.3 L501.0 607.3 L502.0 607.1 L503.0 606.8 L504.0 606.7 L505.0 606.8 L506.0 606.5 L507.0 606.5 L508.0 606.6 L509.0 606.2 L510.0 606.2 L511.0 606.2 L512.0 606.0 L513.0 606.0 L514.0 605.8 L515.0 605.6 L516.0 605.7 L517.0 605.6 L518.0 605.2 L519.0 605.3 L520.0 605.1 L521.0 604.9 L522.0 605.0 L523.0 604.8 L524.0 604.9 L525.0 604.8 L526.0 604.5 L527.0 604.4 L528.0 604.2 L529.0 604.2 L530.0 604.2 L531.0 604.0 L532.0 603.9 L533.0 603.7 L534.0 603.6 L535.0 603.7 L536.0 603.5 L537.0 603.6 L538.0 603.5 L539.0 603.4 L540.0 603.0 L541.0 603.0 L542.0 602.8 L543.0 602.8 L544.0 602.6 L545.0 602.5 L546.0 602.6 L547.0 602.4 L548.0 602.3 L549.0 602.3 L550.0 602.0 L551.0 602.0 L552.0 602.0 L553.0 601.8 L554.0 601.5 L555.0 601.4 L556.0 601.3 L557.0 601.4 L558.0 601.3 L559.0 601.1 L560.0 601.0 L561.0 601.1 L562.0 600.9 L563.0 600.8 L564.0 600.7 L565.0 600.5 L566.0 600.4 L567.0 600.4 L568.0 600.1 L569.0 600.2 L570.0 599.9 L571.0 599.8 L572.0 599.8 L573.0 599.8 L574.0 599.5 L575.0 599.5 L576.0 599.4 L577.0 599.1 L578.0 599.1 L579.0 598.9 L580.0 598.8 L581.0 598.4 L582.0 598.3 L583.0 598.1 L584.0 598.0 L585.0 598.0 L586.0 597.6 L587.0 597.6 L588.0 597.5 L589.0 597.2 L590.0 597.1 L591.0 596.8 L592.0 596.7 L593.0 596.5 L594.0 596.4 L595.0 596.2 L596.0 596.2 L597.0 596.0 L598.0 595.7 L599.0 595.8 L600.0 595.4 L601.0 595.2 L602.0 595.1 L603.0 595.2 L604.0 595.1 L605.0 594.9 L606.0 594.8 L607.0 594.6 L608.0 594.5 L609.0 594.2 L610.0 594.2 L611.0 594.1 L612.0 594.1 L613.0 593.8 L614.0 593.6 L615.0 593.8 L616.0 593.6 L617.0 593.2 L618.0 593.4 L619.0 593.3 L620.0 592.9 L621.0 592.9 L622.0 592.7 L623.0 592.5 L624.0 592.5 L625.0 592.5 L626.0 592.3 L627.0 592.2 L628.0 592.1 L629.0 591.9 L630.0 591.7 L631.0 591.5 L632.0 591.5 L633.0 591.4 L634.0 591.3 L635.0 591.2 L636.0 591.1 L637.0 590.7 L638.0 590.7 L639.0 590.6 L640.0 590.6 L641.0 590.4 L642.0 590.4 L643.0 590.2 L644.0 590.3 L645.0 590.1 L646.0 589.9 L647.0 590.0 L648.0 589.9 L649.0 589.8 L650.0 589.8 L651.0 589.7 L652.0 589.6 L653.0 589.4 L654.0 589.4 L655.0 589.2 L656.0 589.1 L657.0 589.3 L658.0 588.9 L659.0 588.9 L660.0 588.8 L661.0 588.7 L662.0 588.7 L663.0 588.5 L664.0 588.5 L665.0 588.6 L666.0 588.3 L667.0 588.2 L668.0 588.1 L669.0 588.1 L670.0 588.1 L671.0 588.1 L672.0 587.9 L673.0 587.8 L674.0 587.6 L675.0 587.6 L676.0 587.6 L677.0 587.6 L678.0 587.4 L679.0 587.2 L680.0 587.1 L681.0 587.0 L682.0 587.1 L683.0 586.9 L684.0 587.0 L685.0 586.8 L686.0 586.9 L687.0 586.6 L688.0 586.5 L689.0 586.5 L690.0 586.3 L691.0 586.1 L692.0 586.1 L693.0 586.0 L694.0 585.8 L695.0 585.6 L696.0 585.4 L697.0 585.3 L698.0 585.2 L699.0 585.2 L700.0 584.8 L701.0 584.7 L702.0 584.6 L703.0 584.6 L704.0 584.4 L705.0 584.2 L706.0 583.9 L707.0 583.9 L708.0 583.6 L709.0 583.7 L710.0 583.6 L711.0 583.3 L712.0 583.2 L713.0 583.0 L714.0 582.8 L715.0 582.8 L716.0 582.5 L717.0 582.4 L718.0 582.2 L719.0 582.0 L720.0 582.0 L721.0 584.5 L722.0 586.9 L723.0 587.8 L724.0 587.7 L725.0 587.5 L726.0 587.4 L727.0 587.1 L728.0 587.0 L729.0 586.6 L730.0 586.5 L731.0 586.3 L732.0 586.1 L733.0 586.0 L734.0 585.6 L735.0 585.6 L736.0 585.4 L737.0 585.3 L738.0 584.8 L739.0 584.9 L740.0 584.6 L741.0 584.5 L742.0 584.1 L743.0 584.1 L744.0 583.8 L745.0 583.5 L746.0 583.5 L747.0 583.1 L748.0 582.9 L749.0 582.9 L750.0 582.5 L751.0 582.5 L752.0 582.3 L753.0 582.1 L754.0 581.8 L755.0 581.5 L756.0 581.4 L757.0 581.3 L758.0 581.2 L759.0 581.0 L760.0 580.6 L761.0 580.4 L762.0 580.3 L763.0 580.0 L764.0 579.9 L765.0 579.8 L766.0 579.6 L767.0 579.3 L768.0 579.1 L769.0 578.9 L770.0 578.7 L771.0 578.4 L772.0 578.3 L773.0 578.3 L774.0 578.2 L775.0 577.7 L776.0 577.6 L777.0 577.5 L778.0 577.2 L779.0 576.9 L780.0 576.8 L781.0 576.6 L782.0 576.6 L783.0 576.4 L784.0 576.1 L785.0 576.0 L786.0 575.8 L787.0 575.6 L788.0 575.5 L789.0 575.1 L790.0 574.9 L791.0 574.8 L792.0 574.4 L793.0 574.4 L794.0 574.2 L795.0 573.9 L796.0 573.9 L797.0 573.7 L798.0 573.4 L799.0 573.3 L800.0 572.9 L801.0 572.7 L802.0 572.9 L803.0 572.6 L804.0 572.4 L805.0 572.3 L806.0 572.2 L807.0 572.2 L808.0 572.0 L809.0 572.0 L810.0 571.9 L811.0 571.7 L812.0 571.5 L813.0 571.6 L814.0 571.4 L815.0 571.2 L816.0 571.0 L817.0 570.9 L818.0 570.9 L819.0 570.8 L820.0 570.5 L821.0 570.6 L822.0 570.4 L823.0 570.3 L824.0 570.1 L825.0 570.0 L826.0 570.0 L827.0 569.9 L828.0 569.7 L829.0 569.5 L830.0 569.4 L831.0 569.3 L832.0 569.0 L833.0 569.1 L834.0 568.9 L835.0 568.9 L836.0 568.7 L837.0 568.7 L838.0 568.4 L839.0 568.3 L840.0 568.2 L841.0 568.0 L842.0 568.0 L843.0 568.0 L844.0 567.7 L845.0 567.5 L846.0 567.4 L847.0 567.3 L848.0 567.3 L849.0 567.0 L850.0 567.0 L851.0 566.9 L852.0 566.8 L853.0 566.7 L854.0 566.5 L855.0 566.3 L856.0 566.1 L857.0 566.1 L858.0 565.9 L859.0 565.8 L860.0 565.8 L861.0 565.5 L862.0 565.5 L863.0 565.3 L864.0 565.3 L865.0 565.3 L866.0 565.1 L867.0 565.0 L868.0 564.8 L869.0 564.8 L870.0 564.6 L871.0 564.6 L872.0 564.3 L873.0 564.1 L874.0 572.9 L875.0 572.7 L876.0 572.7 L877.0 572.7 L878.0 572.6 L879.0 572.3 L880.0 572.3 L881.0 572.1 L882.0 572.0 L883.0 571.9 L884.0 571.7 L885.0 571.9 L886.0 571.6 L887.0 571.5 L888.0 571.4 L889.0 571.4 L890.0 571.2 L891.0 571.1 L892.0 570.9 L893.0 570.9 L894.0 570.6 L895.0 570.5 L896.0 575.3 L897.0 575.2 L898.0 575.0 L899.0 574.9 L900.0 574.8 L901.0 574.5 L902.0 574.4 L903.0 574.2 L904.0 574.0 L905.0 573.9 L906.0 573.8 L907.0 573.7 L908.0 573.6 L909.0 573.3 L910.0 573.0 L911.0 573.1 L912.0 572.8 L913.0 572.7 L914.0 572.5 L915.0 572.4 L916.0 572.2 L917.0 572.1 L918.0 572.0 L919.0 571.8 L920.0 571.7 L921.0 571.4 L922.0 571.0 L923.0 570.8 L924.0 570.6 L925.0 570.4 L926.0 570.2 L927.0 570.1 L928.0 569.6 L929.0 569.5 L930.0 569.4 L931.0 569.1 L932.0 568.7 L933.0 568.5 L934.0 568.3 L935.0 567.9 L936.0 567.6 L937.0 567.5 L938.0 567.2 L939.0 567.2 L940.0 566.8 L941.0 566.6 L942.0 566.2 L943.0 566.1 L944.0 565.7 L945.0 565.6 L946.0 565.4 L947.0 565.1 L948.0 565.0 L949.0 564.8 L950.0 564.5 L951.0 564.3 L952.0 563.9 L953.0 563.6 L954.0 563.6 L955.0 563.2 L956.0 563.0 L957.0 562.8 L958.0 562.7 L959.0 562.5 L960.0 562.3 L961.0 562.1 L962.0 562.0 L963.0 561.8 L964.0 561.6 L965.0 561.6 L966.0 561.4 L967.0 561.2 L968.0 561.2 L969.0 561.0 L970.0 560.7 L971.0 560.7 L972.0 560.5 L973.0 560.5 L974.0 560.2 L975.0 560.1 L976.0 559.8 L977.0 559.8 L978.0 559.7 L979.0 559.5 L980.0 559.4 L981.0 559.3 L982.0 559.0 L983.0 559.0 L984.0 558.7 L985.0 558.5 L986.0 558.5 L987.0 558.2 L988.0 558.1 L989.0 558.1 L990.0 557.8 L991.0 557.7 L992.0 557.6 L993.0 557.5 L994.0 557.3 L995.0 557.0 L996.0 556.3 L997.0 553.9 L998.0 553.6 L999.0 553.6 L1000.0 553.4 L1001.0 553.0 L1002.0 553.0 L1003.0 552.8 L1004.0 552.6 L1005.0 552.4 L1006.0 552.3 L1007.0 552.0 L1008.0 551.9 L1009.0 551.7 L1010.0 551.4 L1011.0 551.4 L1012.0 551.1 L1013.0 550.9 L1014.0 550.7 L1015.0 550.5 L1016.0 550.5 L1017.0 550.3 L1018.0 550.2 L1019.0 550.0 L1019.2 549.9 L1019.4 613.0 L1019.5 613.0 L1020.5 612.8 L1021.5 612.7 L1022.5 612.7 L1023.5 612.6 L1024.5 612.4 L1025.5 612.4 L1026.5 612.3 L1027.5 612.2 L1028.5 612.0 L1029.5 611.9 L1030.5 611.8 L1031.5 611.8 L1032.5 611.6 L1033.5 611.5 L1034.5 611.3 L1035.5 611.3 L1036.5 611.1 L1037.5 611.0 L1038.5 610.9 L1039.5 610.8 L1040.5 610.7 L1041.5 610.7 L1042.5 610.5 L1043.5 610.5 L1044.5 610.3 L1045.5 610.3 L1046.5 610.1 L1047.5 610.0 L1048.5 609.9 L1049.5 609.8 L1050.5 609.6 L1051.5 609.6 L1052.5 609.4 L1053.5 609.5 L1054.5 609.2 L1055.5 609.1 L1056.5 608.7 L1057.5 608.7 L1058.5 608.4 L1059.5 608.3 L1060.5 608.2 L1061.5 608.2 L1062.5 608.1 L1063.5 608.1 L1064.5 608.0 L1065.5 608.0 L1066.5 608.0 L1067.5 608.0 L1068.5 608.8 L1069.5 609.4 L1070.5 609.4 L1071.5 609.5 L1072.5 609.4 L1073.5 609.5 L1074.5 609.5 L1075.5 609.4 L1076.5 609.4 L1077.5 609.5 L1078.5 609.4 L1079.5 609.5 L1080.5 609.4 L1081.5 609.3 L1082.5 609.4 L1083.5 609.5 L1084.5 609.3 L1085.5 609.3 L1086.5 609.4 L1087.5 609.3 L1088.5 609.3 L1089.5 609.3 L1090.5 609.2 L1091.5 609.1 L1092.5 609.1 L1093.5 609.1 L1094.5 609.1 L1095.5 608.8 L1096.5 608.8 L1097.5 608.7 L1098.5 608.6 L1099.5 608.5 L1100.5 608.6 L1101.5 608.5 L1102.5 608.4 L1103.5 608.2 L1104.5 608.3 L1105.5 608.1 L1106.5 608.1 L1107.5 608.0 L1108.5 608.0 L1109.5 607.7 L1110.5 607.8 L1111.5 607.8 L1112.5 607.7 L1113.5 607.6 L1114.5 607.4 L1115.5 607.3 L1116.5 607.3 L1117.5 607.2 L1118.5 607.2 L1119.5 607.1 L1120.5 607.0 L1121.5 606.9 L1122.5 606.8 L1123.5 606.9 L1124.5 606.7 L1125.5 606.6 L1126.5 606.5 L1127.5 606.6 L1128.5 606.5 L1129.5 606.3 L1130.5 606.2 L1131.5 606.3 L1132.5 606.3 L1133.5 606.3 L1134.5 606.4 L1135.5 606.3 L1136.5 606.4 L1137.5 606.3 L1138.5 606.3 L1139.5 606.4 L1140.5 606.2 L1141.5 606.4 L1142.5 606.4 L1143.5 606.2 L1144.5 606.3 L1145.5 608.2 L1146.5 609.9 L1147.5 609.8 L1148.5 609.9 L1149.5 609.7 L1150.5 609.7 L1151.5 609.6 L1152.5 609.7 L1153.5 609.6 L1154.5 609.5 L1155.5 609.4 L1156.5 609.4 L1157.5 609.4 L1158.5 609.2 L1159.5 609.3 L1160.5 609.2 L1161.5 609.1 L1162.5 609.1 L1163.5 608.9 L1164.5 608.9 L1165.5 608.8 L1166.5 608.7 L1167.5 608.2 L1168.5 607.8 L1169.5 607.5 L1170.5 607.3 L1171.5 607.3 L1172.5 607.1 L1173.5 607.2 L1174.5 607.2 L1175.5 607.0 L1176.5 607.0 L1177.5 607.0 L1178.5 606.8 L1179.5 606.9 L1180.5 606.8 L1181.5 606.7 L1182.5 606.8 L1183.5 606.7 L1184.5 606.6 L1185.5 606.5 L1186.5 606.6 L1187.5 606.5 L1188.5 606.5 L1189.5 606.4 L1190.5 606.3 L1191.5 606.4 L1192.5 606.2 L1193.5 606.2 L1194.5 606.1 L1195.5 606.1 L1196.5 606.1 L1197.5 606.1 L1198.5 606.0 L1199.5 606.0 L1200.5 605.9 L1201.5 605.9 L1202.5 605.8 L1203.5 605.7 L1204.5 605.7 L1205.5 605.8 L1206.5 605.7 L1207.5 605.6 L1208.5 605.5 L1209.5 605.6 L1210.5 605.5 L1211.5 605.3 L1212.5 605.4 L1213.5 605.4 L1214.5 605.2 L1215.5 605.1 L1216.5 605.2 L1217.5 605.1 L1218.5 605.0 L1219.5 605.0 L1220.5 604.9 L1221.5 605.0 L1222.5 605.0 L1223.5 604.8 L1224.5 604.9 L1225.5 604.7 L1226.5 604.2 L1227.5 603.9 L1228.5 603.9 L1229.5 603.7 L1230.5 604.0 L1231.5 603.9 L1232.5 604.0 L1233.5 603.9 L1234.5 604.0 L1235.5 604.1 L1236.5 604.0 L1237.5 604.1 L1238.5 604.1 L1239.5 604.2 L1240.5 604.1 L1241.5 604.1 L1242.5 604.2 L1243.5 604.3 L1244.5 604.2 L1245.5 604.3 L1246.5 604.4 L1247.5 604.4" stroke="#5b6577" stroke-width="1" fill="none"/>
<path d="M452.5 632.0 L452.8 605.0 L453.2 600.0 L453.6 612.4 L454.0 612.6 L454.5 612.8 L455.0 612.3 L455.5 612.5 L456.0 612.2 L456.5 612.1 L457.0 612.3 L457.5 612.0 L458.0 615.0 L458.5 611.7 L459.0 611.9 L459.5 612.1 L460.0 612.3 L460.5 612.3 L461.0 612.0 L461.5 614.6 L462.0 611.7 L462.5 611.7 L463.0 611.7 L463.5 611.6 L464.0 611.3 L464.5 611.1 L465.0 611.3 L465.5 611.5 L466.0 611.2 L466.5 611.3 L467.0 611.7 L467.5 611.6 L468.0 611.9 L468.5 611.9 L469.0 611.6 L469.5 611.5 L470.0 611.0 L470.5 611.1 L471.0 611.3 L471.5 610.9 L472.0 610.8 L472.5 610.7 L473.0 610.8 L473.5 610.6 L474.0 610.6 L474.5 611.0 L475.0 610.9 L475.5 610.6 L476.0 610.8 L476.5 610.7 L477.0 610.3 L477.5 610.6 L478.0 610.9 L478.5 610.8 L479.0 610.7 L479.5 610.7 L480.0 613.2 L480.5 610.6 L481.0 610.8 L481.5 610.6 L482.0 610.6 L482.5 610.9 L483.0 611.0 L483.5 610.8 L484.0 610.7 L484.5 610.5 L485.0 610.7 L485.5 610.7 L486.0 610.4 L486.5 610.5 L487.0 610.5 L487.5 610.3 L488.0 611.5 L488.5 612.3 L489.0 612.3 L489.5 611.6 L490.0 609.2 L490.5 609.3 L491.0 609.2 L491.5 609.2 L492.0 609.2 L492.5 609.2 L493.0 609.2 L493.5 609.3 L494.0 609.1 L494.5 609.2 L495.0 609.2 L495.5 608.7 L496.0 608.9 L496.5 609.0 L497.0 609.1 L497.5 608.9 L498.0 608.4 L498.5 608.3 L499.0 610.7 L499.5 608.1 L500.0 607.5 L500.5 607.7 L501.0 607.7 L501.5 607.5 L502.0 607.3 L502.5 607.1 L503.0 606.9 L503.5 606.4 L504.0 606.8 L504.5 606.4 L505.0 606.3 L505.5 606.3 L506.0 606.2 L506.5 606.0 L507.0 606.0 L507.5 605.9 L508.0 605.4 L508.5 605.3 L509.0 605.5 L509.5 605.3 L510.0 605.1 L510.5 605.8 L511.0 605.4 L511.5 605.5 L512.0 605.0 L512.5 604.9 L513.0 604.7 L513.5 604.4 L514.0 604.3 L514.5 604.4 L515.0 604.5 L515.5 604.7 L516.0 604.8 L516.5 605.0 L517.0 604.8 L517.5 604.8 L518.0 604.3 L518.5 604.5 L519.0 604.5 L519.5 604.2 L520.0 604.4 L520.5 604.2 L521.0 604.1 L521.5 604.6 L522.0 604.4 L522.5 604.3 L523.0 604.2 L523.5 604.2 L524.0 604.1 L524.5 604.2 L525.0 604.2 L525.5 604.2 L526.0 603.8 L526.5 604.1 L527.0 603.7 L527.5 603.8 L528.0 603.4 L528.5 603.4 L529.0 603.1 L529.5 603.0 L530.0 602.9 L530.5 603.2 L531.0 603.2 L531.5 603.0 L532.0 603.2 L532.5 602.8 L533.0 602.7 L533.5 602.6 L534.0 602.7 L534.5 602.4 L535.0 602.9 L535.5 607.5 L536.0 607.5 L536.5 607.0 L537.0 602.9 L537.5 603.2 L538.0 602.8 L538.5 602.6 L539.0 602.7 L539.5 602.7 L540.0 602.5 L540.5 602.2 L541.0 602.5 L541.5 604.9 L542.0 602.6 L542.5 602.8 L543.0 602.5 L543.5 602.2 L544.0 602.3 L544.5 601.9 L545.0 601.8 L545.5 602.0 L546.0 602.1 L546.5 602.1 L547.0 602.1 L547.5 602.4 L548.0 602.4 L548.5 602.6 L549.0 602.7 L549.5 602.7 L550.0 602.3 L550.5 602.4 L551.0 609.5 L551.5 610.0 L552.0 610.4 L552.5 602.2 L553.0 601.9 L553.5 602.4 L554.0 602.1 L554.5 602.4 L555.0 601.9 L555.5 601.9 L556.0 602.2 L556.5 602.4 L557.0 602.4 L557.5 602.4 L558.0 602.6 L558.5 602.0 L559.0 602.0 L559.5 601.8 L560.0 602.2 L560.5 602.0 L561.0 602.1 L561.5 601.6 L562.0 601.8 L562.5 601.7 L563.0 601.8 L563.5 601.3 L564.0 601.0 L564.5 600.6 L565.0 600.8 L565.5 601.1 L566.0 601.1 L566.5 601.1 L567.0 601.2 L567.5 600.7 L568.0 600.9 L568.5 600.8 L569.0 600.6 L569.5 601.0 L570.0 600.9 L570.5 600.7 L571.0 600.8 L571.5 602.7 L572.0 600.6 L572.5 600.7 L573.0 600.4 L573.5 600.3 L574.0 600.0 L574.5 600.3 L575.0 600.3 L575.5 599.8 L576.0 600.1 L576.5 599.9 L577.0 599.6 L577.5 599.8 L578.0 599.6 L578.5 599.2 L579.0 599.5 L579.5 599.1 L580.0 599.3 L580.5 599.6 L581.0 599.6 L581.5 600.0 L582.0 598.7 L582.5 598.7 L583.0 598.9 L583.5 599.2 L584.0 599.1 L584.5 598.8 L585.0 598.9 L585.5 598.4 L586.0 598.2 L586.5 598.4 L587.0 598.7 L587.5 598.7 L588.0 598.3 L588.5 598.6 L589.0 598.2 L589.5 601.8 L590.0 601.7 L590.5 602.3 L591.0 597.8 L591.5 597.7 L592.0 597.6 L592.5 597.4 L593.0 597.2 L593.5 596.8 L594.0 596.9 L594.5 597.0 L595.0 596.7 L595.5 597.2 L596.0 596.9 L596.5 596.9 L597.0 597.0 L597.5 596.8 L598.0 597.1 L598.5 597.1 L599.0 596.9 L599.5 597.2 L600.0 596.7 L600.5 596.6 L601.0 596.3 L601.5 596.1 L602.0 599.4 L602.5 596.7 L603.0 596.6 L603.5 596.0 L604.0 596.0 L604.5 596.0 L605.0 596.4 L605.5 596.1 L606.0 595.9 L606.5 596.0 L607.0 595.9 L607.5 595.6 L608.0 595.4 L608.5 595.3 L609.0 595.0 L609.5 594.9 L610.0 594.8 L610.5 595.1 L611.0 595.4 L611.5 595.4 L612.0 595.4 L612.5 595.6 L613.0 595.6 L613.5 595.6 L614.0 595.6 L614.5 595.2 L615.0 595.0 L615.5 594.7 L616.0 594.8 L616.5 594.8 L617.0 594.5 L617.5 594.6 L618.0 594.0 L618.5 593.9 L619.0 594.3 L619.5 593.9 L620.0 594.0 L620.5 593.9 L621.0 593.6 L621.5 593.2 L622.0 593.6 L622.5 593.7 L623.0 593.6 L623.5 593.5 L624.0 593.6 L624.5 593.3 L625.0 593.0 L625.5 600.6 L626.0 600.5 L626.5 600.9 L627.0 593.2 L627.5 592.9 L628.0 593.2 L628.5 593.2 L629.0 592.8 L629.5 593.0 L630.0 592.9 L630.5 592.7 L631.0 592.4 L631.5 592.3 L632.0 592.4 L632.5 592.2 L633.0 591.9 L633.5 592.2 L634.0 591.8 L634.5 592.3 L635.0 591.9 L635.5 591.7 L636.0 591.5 L636.5 591.9 L637.0 591.9 L637.5 592.0 L638.0 591.7 L638.5 592.0 L639.0 592.2 L639.5 592.2 L640.0 592.2 L640.5 592.0 L641.0 591.9 L641.5 591.6 L642.0 591.5 L642.5 591.4 L643.0 591.7 L643.5 591.7 L644.0 591.5 L644.5 591.5 L645.0 591.4 L645.5 591.0 L646.0 591.1 L646.5 591.1 L647.0 591.4 L647.5 591.2 L648.0 590.9 L648.5 590.7 L649.0 590.6 L649.5 590.8 L650.0 590.7 L650.5 590.5 L651.0 590.6 L651.5 593.3 L652.0 590.6 L652.5 590.4 L653.0 590.4 L653.5 594.1 L654.0 593.6 L654.5 594.1 L655.0 590.0 L655.5 589.7 L656.0 589.8 L656.5 589.8 L657.0 589.7 L657.5 589.1 L658.0 589.1 L658.5 589.3 L659.0 589.2 L659.5 589.3 L660.0 589.4 L660.5 589.2 L661.0 588.7 L661.5 588.6 L662.0 588.3 L662.5 588.6 L663.0 588.5 L663.5 588.4 L664.0 588.5 L664.5 588.6 L665.0 588.8 L665.5 589.2 L666.0 589.0 L666.5 589.2 L667.0 588.8 L667.5 589.1 L668.0 589.1 L668.5 588.7 L669.0 589.8 L669.5 590.7 L670.0 588.9 L670.5 588.8 L671.0 588.5 L671.5 588.8 L672.0 588.9 L672.5 588.6 L673.0 588.8 L673.5 588.7 L674.0 588.4 L674.5 588.4 L675.0 588.5 L675.5 588.6 L676.0 588.4 L676.5 588.7 L677.0 588.2 L677.5 588.1 L678.0 588.0 L678.5 588.0 L679.0 588.1 L679.5 587.7 L680.0 587.5 L680.5 587.8 L681.0 588.0 L681.5 588.2 L682.0 587.8 L682.5 588.2 L683.0 588.3 L683.5 588.2 L684.0 588.0 L684.5 588.2 L685.0 588.0 L685.5 587.7 L686.0 587.4 L686.5 587.7 L687.0 587.8 L687.5 592.0 L688.0 591.7 L688.5 591.9 L689.0 587.9 L689.5 587.9 L690.0 588.0 L690.5 588.4 L691.0 588.5 L691.5 588.3 L692.0 587.8 L692.5 588.0 L693.0 587.9 L693.5 587.7 L694.0 587.9 L694.5 590.3 L695.0 589.6 L695.5 589.6 L696.0 587.4 L696.5 587.3 L697.0 587.1 L697.5 586.7 L698.0 586.2 L698.5 586.1 L699.0 586.1 L699.5 586.3 L700.0 585.9 L700.5 585.6 L701.0 585.5 L701.5 586.0 L702.0 586.1 L702.5 585.9 L703.0 585.4 L703.5 585.1 L704.0 585.3 L704.5 585.4 L705.0 585.2 L705.5 585.4 L706.0 587.3 L706.5 584.6 L707.0 584.5 L707.5 584.5 L708.0 584.6 L708.5 584.5 L709.0 584.5 L709.5 584.3 L710.0 584.4 L710.5 584.4 L711.0 584.5 L711.5 584.3 L712.0 583.9 L712.5 584.1 L713.0 583.9 L713.5 583.7 L714.0 583.4 L714.5 583.1 L715.0 583.3 L715.5 583.5 L716.0 583.1 L716.5 583.0 L717.0 582.9 L717.5 583.0 L718.0 583.3 L718.5 582.7 L719.0 582.6 L719.5 582.6 L720.0 582.8 L720.5 584.3 L721.0 585.8 L721.5 587.4 L722.0 589.2 L722.5 590.9 L723.0 591.0 L723.5 591.0 L724.0 591.0 L724.5 590.8 L725.0 590.9 L725.5 590.9 L726.0 590.6 L726.5 590.3 L727.0 590.3 L727.5 590.3 L728.0 590.0 L728.5 589.6 L729.0 589.5 L729.5 589.3 L730.0 589.0 L730.5 589.1 L731.0 589.0 L731.5 588.8 L732.0 588.7 L732.5 589.1 L733.0 589.1 L733.5 588.9 L734.0 588.8 L734.5 588.9 L735.0 589.0 L735.5 589.1 L736.0 588.6 L736.5 589.0 L737.0 588.7 L737.5 589.3 L738.0 589.5 L738.5 589.2 L739.0 589.2 L739.5 589.3 L740.0 589.2 L740.5 589.4 L741.0 589.4 L741.5 589.4 L742.0 589.1 L742.5 589.1 L743.0 588.9 L743.5 589.1 L744.0 588.7 L744.5 589.0 L745.0 589.2 L745.5 589.1 L746.0 589.6 L746.5 589.3 L747.0 589.3 L747.5 589.5 L748.0 589.5 L748.5 589.5 L749.0 589.5 L749.5 589.9 L750.0 589.3 L750.5 589.7 L751.0 589.4 L751.5 589.2 L752.0 589.0 L752.5 589.2 L753.0 588.9 L753.5 588.7 L754.0 588.7 L754.5 588.5 L755.0 588.2 L755.5 588.6 L756.0 588.6 L756.5 588.5 L757.0 588.0 L757.5 588.1 L758.0 588.1 L758.5 588.2 L759.0 588.3 L759.5 592.2 L760.0 591.8 L760.5 592.8 L761.0 588.5 L761.5 588.0 L762.0 588.0 L762.5 588.3 L763.0 595.2 L763.5 593.8 L764.0 595.0 L764.5 587.8 L765.0 587.6 L765.5 587.4 L766.0 586.9 L766.5 586.3 L767.0 586.3 L767.5 586.2 L768.0 585.8 L768.5 585.6 L769.0 585.2 L769.5 584.9 L770.0 584.6 L770.5 584.6 L771.0 584.6 L771.5 584.0 L772.0 583.8 L772.5 583.2 L773.0 583.3 L773.5 583.0 L774.0 582.6 L774.5 582.6 L775.0 582.3 L775.5 582.1 L776.0 582.0 L776.5 581.5 L777.0 581.4 L777.5 581.0 L778.0 581.1 L778.5 580.9 L779.0 581.1 L779.5 581.4 L780.0 581.4 L780.5 581.3 L781.0 581.3 L781.5 581.2 L782.0 581.5 L782.5 581.2 L783.0 581.3 L783.5 581.3 L784.0 581.8 L784.5 582.0 L785.0 581.5 L785.5 581.3 L786.0 581.4 L786.5 581.6 L787.0 581.7 L787.5 581.9 L788.0 582.0 L788.5 585.8 L789.0 582.6 L789.5 582.3 L790.0 582.5 L790.5 582.7 L791.0 582.5 L791.5 582.1 L792.0 582.2 L792.5 582.2 L793.0 582.1 L793.5 582.3 L794.0 582.4 L794.5 582.6 L795.0 582.9 L795.5 582.6 L796.0 582.5 L796.5 582.8 L797.0 582.2 L797.5 581.2 L798.0 594.0 L798.5 594.3 L799.0 594.1 L799.5 577.9 L800.0 577.0 L800.5 577.2 L801.0 576.8 L801.5 579.0 L802.0 577.3 L802.5 577.3 L803.0 577.4 L803.5 577.7 L804.0 577.6 L804.5 577.9 L805.0 577.8 L805.5 577.9 L806.0 577.4 L806.5 577.2 L807.0 577.0 L807.5 577.1 L808.0 577.4 L808.5 577.1 L809.0 577.3 L809.5 577.4 L810.0 577.3 L810.5 577.0 L811.0 577.2 L811.5 577.2 L812.0 577.2 L812.5 577.2 L813.0 577.5 L813.5 577.6 L814.0 577.6 L814.5 577.7 L815.0 577.4 L815.5 577.5 L816.0 577.6 L816.5 577.4 L817.0 577.2 L817.5 577.3 L818.0 577.0 L818.5 587.6 L819.0 587.7 L819.5 587.8 L820.0 589.8 L820.5 589.8 L821.0 589.7 L821.5 576.0 L822.0 575.7 L822.5 575.3 L823.0 575.7 L823.5 575.4 L824.0 575.0 L824.5 575.5 L825.0 575.0 L825.5 575.1 L826.0 575.4 L826.5 575.2 L827.0 575.1 L827.5 575.6 L828.0 575.6 L828.5 575.9 L829.0 575.6 L829.5 575.8 L830.0 575.7 L830.5 575.5 L831.0 575.5 L831.5 575.6 L832.0 575.4 L832.5 575.3 L833.0 575.3 L833.5 575.4 L834.0 575.5 L834.5 575.4 L835.0 575.2 L835.5 578.7 L836.0 579.2 L836.5 579.4 L837.0 575.4 L837.5 575.3 L838.0 575.7 L838.5 575.5 L839.0 575.5 L839.5 575.8 L840.0 575.4 L840.5 575.6 L841.0 575.6 L841.5 577.0 L842.0 574.5 L842.5 573.6 L843.0 572.7 L843.5 571.4 L844.0 570.8 L844.5 569.8 L845.0 569.4 L845.5 569.1 L846.0 569.1 L846.5 569.0 L847.0 569.1 L847.5 569.0 L848.0 569.3 L848.5 569.3 L849.0 569.0 L849.5 572.8 L850.0 573.2 L850.5 572.7 L851.0 568.5 L851.5 569.0 L852.0 568.8 L852.5 568.8 L853.0 568.8 L853.5 568.4 L854.0 568.3 L854.5 568.4 L855.0 567.8 L855.5 567.9 L856.0 570.8 L856.5 576.0 L857.0 575.5 L857.5 575.1 L858.0 575.5 L858.5 575.7 L859.0 575.7 L859.5 575.4 L860.0 575.2 L860.5 575.3 L861.0 575.2 L861.5 575.1 L862.0 574.9 L862.5 574.8 L863.0 574.7 L863.5 574.5 L864.0 574.8 L864.5 574.7 L865.0 574.6 L865.5 574.4 L866.0 574.5 L866.5 574.8 L867.0 574.8 L867.5 574.8 L868.0 574.4 L868.5 574.4 L869.0 574.4 L869.5 574.2 L870.0 574.0 L870.5 573.9 L871.0 574.3 L871.5 574.2 L872.0 579.1 L872.5 579.9 L873.0 573.7 L873.5 574.7 L874.0 573.4 L874.5 573.4 L875.0 572.8 L875.5 572.9 L876.0 572.9 L876.5 572.5 L877.0 572.2 L877.5 572.2 L878.0 572.5 L878.5 572.0 L879.0 572.1 L879.5 572.3 L880.0 572.1 L880.5 571.9 L881.0 571.7 L881.5 571.8 L882.0 571.7 L882.5 571.6 L883.0 570.9 L883.5 570.8 L884.0 570.8 L884.5 570.9 L885.0 571.3 L885.5 571.1 L886.0 571.6 L886.5 571.8 L887.0 572.2 L887.5 572.0 L888.0 571.8 L888.5 572.2 L889.0 572.3 L889.5 572.4 L890.0 571.9 L890.5 580.7 L891.0 579.8 L891.5 579.2 L892.0 578.7 L892.5 574.3 L893.0 574.5 L893.5 574.8 L894.0 575.7 L894.5 576.1 L895.0 576.3 L895.5 577.0 L896.0 576.6 L896.5 576.6 L897.0 576.3 L897.5 576.4 L898.0 576.8 L898.5 576.4 L899.0 576.7 L899.5 576.3 L900.0 576.2 L900.5 576.7 L901.0 576.4 L901.5 576.8 L902.0 577.3 L902.5 577.9 L903.0 575.8 L903.5 575.5 L904.0 575.4 L904.5 575.5 L905.0 575.4 L905.5 575.3 L906.0 575.5 L906.5 575.3 L907.0 575.3 L907.5 574.8 L908.0 574.9 L908.5 575.1 L909.0 575.2 L909.5 575.3 L910.0 575.0 L910.5 575.4 L911.0 575.3 L911.5 575.0 L912.0 574.9 L912.5 574.8 L913.0 574.9 L913.5 574.6 L914.0 574.5 L914.5 574.0 L915.0 574.3 L915.5 574.3 L916.0 574.1 L916.5 573.9 L917.0 573.6 L917.5 573.8 L918.0 573.6 L918.5 573.6 L919.0 573.7 L919.5 574.0 L920.0 573.8 L920.5 573.8 L921.0 573.5 L921.5 573.2 L922.0 572.9 L922.5 573.2 L923.0 574.1 L923.5 573.1 L924.0 572.7 L924.5 572.3 L925.0 572.2 L925.5 572.0 L926.0 572.4 L926.5 572.2 L927.0 572.1 L927.5 572.0 L928.0 571.7 L928.5 571.7 L929.0 571.7 L929.5 571.4 L930.0 571.0 L930.5 571.3 L931.0 571.1 L931.5 570.8 L932.0 570.6 L932.5 570.5 L933.0 570.9 L933.5 570.8 L934.0 570.7 L934.5 570.7 L935.0 570.5 L935.5 570.5 L936.0 570.7 L936.5 570.5 L937.0 570.7 L937.5 570.5 L938.0 570.4 L938.5 569.9 L939.0 569.7 L939.5 569.1 L940.0 572.6 L940.5 568.7 L941.0 569.0 L941.5 569.0 L942.0 569.0 L942.5 568.7 L943.0 568.3 L943.5 568.2 L944.0 568.1 L944.5 567.8 L945.0 567.4 L945.5 567.0 L946.0 567.2 L946.5 567.3 L947.0 567.1 L947.5 567.0 L948.0 567.0 L948.5 566.9 L949.0 567.2 L949.5 567.1 L950.0 566.6 L950.5 566.4 L951.0 566.4 L951.5 566.2 L952.0 565.7 L952.5 566.1 L953.0 566.0 L953.5 566.3 L954.0 565.8 L954.5 565.6 L955.0 565.1 L955.5 564.8 L956.0 565.0 L956.5 564.9 L957.0 565.1 L957.5 564.8 L958.0 564.9 L958.5 564.6 L959.0 564.6 L959.5 564.6 L960.0 564.9 L960.5 564.7 L961.0 564.2 L961.5 564.0 L962.0 563.6 L962.5 563.9 L963.0 563.3 L963.5 563.2 L964.0 563.3 L964.5 563.4 L965.0 563.2 L965.5 562.9 L966.0 562.8 L966.5 562.8 L967.0 562.4 L967.5 562.2 L968.0 562.2 L968.5 561.9 L969.0 563.3 L969.5 563.1 L970.0 562.5 L970.5 561.7 L971.0 561.7 L971.5 561.4 L972.0 561.6 L972.5 561.5 L973.0 561.6 L973.5 561.3 L974.0 561.3 L974.5 561.1 L975.0 560.7 L975.5 560.8 L976.0 560.6 L976.5 560.1 L977.0 559.8 L977.5 560.0 L978.0 559.8 L978.5 559.9 L979.0 559.8 L979.5 560.0 L980.0 560.0 L980.5 559.9 L981.0 559.9 L981.5 559.9 L982.0 560.2 L982.5 559.9 L983.0 559.5 L983.5 559.2 L984.0 558.9 L984.5 558.6 L985.0 558.7 L985.5 559.1 L986.0 559.2 L986.5 558.9 L987.0 558.9 L987.5 558.7 L988.0 558.6 L988.5 558.7 L989.0 558.9 L989.5 558.7 L990.0 558.5 L990.5 558.2 L991.0 558.5 L991.5 558.5 L992.0 558.4 L992.5 558.5 L993.0 557.9 L993.5 558.1 L994.0 571.3 L994.5 570.1 L995.0 570.3 L995.5 556.4 L996.0 555.8 L996.5 555.1 L997.0 554.7 L997.5 554.1 L998.0 553.7 L998.5 553.8 L999.0 553.5 L999.5 553.3 L1000.0 553.6 L1000.5 553.2 L1001.0 553.3 L1001.5 552.9 L1002.0 552.7 L1002.5 552.7 L1003.0 552.5 L1003.5 552.8 L1004.0 552.1 L1004.5 552.3 L1005.0 552.3 L1005.5 552.8 L1006.0 552.7 L1006.5 552.1 L1007.0 551.8 L1007.5 551.5 L1008.0 551.8 L1008.5 551.7 L1009.0 551.6 L1009.5 551.4 L1010.0 551.4 L1010.5 551.0 L1011.0 551.4 L1011.5 551.2 L1012.0 551.0 L1012.5 550.6 L1013.0 550.6 L1013.5 550.5 L1014.0 550.0 L1014.5 550.2 L1015.0 550.2 L1015.5 549.9 L1016.0 550.0 L1016.5 550.0 L1017.0 550.0 L1017.5 552.4 L1018.0 549.8 L1018.5 549.6 L1019.0 549.7 L1019.2 549.9 L1019.3 600.0 L1019.4 613.2 L1019.5 613.2 L1020.0 613.2 L1020.5 613.0 L1021.0 613.0 L1021.5 613.1 L1022.0 613.0 L1022.5 612.9 L1023.0 612.7 L1023.5 612.4 L1024.0 612.6 L1024.5 612.7 L1025.0 612.8 L1025.5 613.3 L1026.0 613.1 L1026.5 612.8 L1027.0 613.2 L1027.5 614.8 L1028.0 613.4 L1028.5 613.1 L1029.0 613.2 L1029.5 613.4 L1030.0 612.7 L1030.5 612.7 L1031.0 612.5 L1031.5 612.5 L1032.0 612.3 L1032.5 612.5 L1033.0 612.3 L1033.5 612.2 L1034.0 612.1 L1034.5 611.8 L1035.0 611.4 L1035.5 611.6 L1036.0 611.6 L1036.5 611.6 L1037.0 611.3 L1037.5 611.5 L1038.0 611.9 L1038.5 612.1 L1039.0 611.5 L1039.5 611.8 L1040.0 611.8 L1040.5 611.3 L1041.0 611.0 L1041.5 611.4 L1042.0 612.9 L1042.5 611.1 L1043.0 611.2 L1043.5 611.2 L1044.0 611.1 L1044.5 613.4 L1045.0 611.1 L1045.5 610.8 L1046.0 610.9 L1046.5 610.8 L1047.0 610.8 L1047.5 610.7 L1048.0 611.1 L1048.5 611.1 L1049.0 610.8 L1049.5 610.5 L1050.0 611.0 L1050.5 610.7 L1051.0 610.6 L1051.5 610.2 L1052.0 610.2 L1052.5 610.2 L1053.0 609.7 L1053.5 609.8 L1054.0 610.1 L1054.5 610.0 L1055.0 609.8 L1055.5 610.0 L1056.0 609.6 L1056.5 609.7 L1057.0 609.7 L1057.5 609.1 L1058.0 608.8 L1058.5 608.7 L1059.0 609.0 L1059.5 608.9 L1060.0 608.8 L1060.5 608.7 L1061.0 608.6 L1061.5 612.4 L1062.0 612.6 L1062.5 615.2 L1063.0 615.9 L1063.5 615.1 L1064.0 608.5 L1064.5 608.6 L1065.0 608.7 L1065.5 608.9 L1066.0 609.0 L1066.5 608.8 L1067.0 608.6 L1067.5 608.9 L1068.0 608.6 L1068.5 608.9 L1069.0 608.8 L1069.5 608.8 L1070.0 608.9 L1070.5 608.4 L1071.0 608.7 L1071.5 608.5 L1072.0 608.4 L1072.5 619.9 L1073.0 619.8 L1073.5 619.2 L1074.0 608.8 L1074.5 621.5 L1075.0 621.5 L1075.5 620.5 L1076.0 609.4 L1076.5 609.6 L1077.0 609.2 L1077.5 609.3 L1078.0 609.5 L1078.5 609.6 L1079.0 609.3 L1079.5 613.8 L1080.0 613.7 L1080.5 613.7 L1081.0 609.1 L1081.5 609.5 L1082.0 609.1 L1082.5 609.3 L1083.0 609.2 L1083.5 609.1 L1084.0 609.0 L1084.5 609.1 L1085.0 609.0 L1085.5 609.4 L1086.0 609.6 L1086.5 617.0 L1087.0 617.6 L1087.5 618.0 L1088.0 609.8 L1088.5 609.9 L1089.0 618.2 L1089.5 618.4 L1090.0 618.6 L1090.5 610.0 L1091.0 609.8 L1091.5 609.5 L1092.0 609.2 L1092.5 609.4 L1093.0 609.0 L1093.5 609.6 L1094.0 609.3 L1094.5 609.1 L1095.0 609.1 L1095.5 609.0 L1096.0 608.7 L1096.5 608.5 L1097.0 608.5 L1097.5 609.0 L1098.0 608.8 L1098.5 609.1 L1099.0 608.9 L1099.5 609.0 L1100.0 609.2 L1100.5 609.2 L1101.0 608.9 L1101.5 608.7 L1102.0 609.0 L1102.5 609.2 L1103.0 609.1 L1103.5 609.1 L1104.0 609.0 L1104.5 608.6 L1105.0 608.3 L1105.5 608.1 L1106.0 608.2 L1106.5 608.3 L1107.0 608.4 L1107.5 608.1 L1108.0 608.0 L1108.5 607.6 L1109.0 607.6 L1109.5 607.8 L1110.0 607.6 L1110.5 607.7 L1111.0 607.4 L1111.5 607.3 L1112.0 607.6 L1112.5 607.4 L1113.0 607.2 L1113.5 607.3 L1114.0 607.4 L1114.5 607.4 L1115.0 607.1 L1115.5 607.1 L1116.0 607.1 L1116.5 607.4 L1117.0 607.4 L1117.5 607.6 L1118.0 607.4 L1118.5 607.8 L1119.0 607.4 L1119.5 607.5 L1120.0 607.4 L1120.5 607.9 L1121.0 607.1 L1121.5 607.3 L1122.0 607.0 L1122.5 607.3 L1123.0 607.1 L1123.5 607.1 L1124.0 606.5 L1124.5 606.9 L1125.0 606.6 L1125.5 606.7 L1126.0 606.6 L1126.5 606.7 L1127.0 606.7 L1127.5 606.3 L1128.0 606.3 L1128.5 606.1 L1129.0 605.9 L1129.5 606.0 L1130.0 606.2 L1130.5 606.2 L1131.0 606.7 L1131.5 606.8 L1132.0 606.7 L1132.5 607.0 L1133.0 607.1 L1133.5 607.1 L1134.0 607.6 L1134.5 607.6 L1135.0 608.0 L1135.5 608.2 L1136.0 608.6 L1136.5 608.4 L1137.0 608.1 L1137.5 608.4 L1138.0 608.7 L1138.5 608.4 L1139.0 608.9 L1139.5 609.1 L1140.0 621.1 L1140.5 620.8 L1141.0 621.0 L1141.5 610.0 L1142.0 610.2 L1142.5 610.5 L1143.0 610.2 L1143.5 610.6 L1144.0 610.5 L1144.5 610.7 L1145.0 610.8 L1145.5 610.3 L1146.0 610.7 L1146.5 610.1 L1147.0 610.2 L1147.5 609.8 L1148.0 610.0 L1148.5 610.0 L1149.0 610.0 L1149.5 609.8 L1150.0 609.6 L1150.5 610.2 L1151.0 610.0 L1151.5 610.3 L1152.0 609.9 L1152.5 610.1 L1153.0 609.6 L1153.5 609.9 L1154.0 610.0 L1154.5 609.6 L1155.0 609.6 L1155.5 609.4 L1156.0 609.5 L1156.5 609.9 L1157.0 609.7 L1157.5 609.9 L1158.0 609.7 L1158.5 609.6 L1159.0 609.5 L1159.5 609.4 L1160.0 609.4 L1160.5 609.3 L1161.0 611.3 L1161.5 609.4 L1162.0 609.2 L1162.5 609.4 L1163.0 609.3 L1163.5 609.1 L1164.0 609.1 L1164.5 609.2 L1165.0 609.4 L1165.5 609.2 L1166.0 609.2 L1166.5 608.7 L1167.0 608.4 L1167.5 610.1 L1168.0 610.2 L1168.5 609.8 L1169.0 607.7 L1169.5 607.3 L1170.0 607.7 L1170.5 609.3 L1171.0 607.5 L1171.5 607.4 L1172.0 607.6 L1172.5 607.8 L1173.0 607.5 L1173.5 607.8 L1174.0 607.8 L1174.5 607.8 L1175.0 607.3 L1175.5 607.4 L1176.0 607.4 L1176.5 607.4 L1177.0 607.5 L1177.5 607.5 L1178.0 607.5 L1178.5 607.4 L1179.0 607.4 L1179.5 607.1 L1180.0 606.7 L1180.5 607.1 L1181.0 607.2 L1181.5 608.7 L1182.0 606.9 L1182.5 606.9 L1183.0 606.9 L1183.5 606.7 L1184.0 607.0 L1184.5 606.7 L1185.0 606.9 L1185.5 607.0 L1186.0 606.9 L1186.5 607.1 L1187.0 606.9 L1187.5 606.5 L1188.0 607.0 L1188.5 606.9 L1189.0 606.5 L1189.5 606.6 L1190.0 606.8 L1190.5 606.5 L1191.0 606.6 L1191.5 606.6 L1192.0 606.4 L1192.5 606.8 L1193.0 606.5 L1193.5 606.6 L1194.0 606.6 L1194.5 607.0 L1195.0 606.7 L1195.5 606.5 L1196.0 606.5 L1196.5 606.1 L1197.0 606.7 L1197.5 606.5 L1198.0 606.5 L1198.5 606.2 L1199.0 606.1 L1199.5 606.3 L1200.0 606.6 L1200.5 606.8 L1201.0 606.1 L1201.5 606.2 L1202.0 606.2 L1202.5 606.1 L1203.0 605.9 L1203.5 606.3 L1204.0 606.0 L1204.5 606.2 L1205.0 605.9 L1205.5 605.9 L1206.0 605.7 L1206.5 605.5 L1207.0 606.0 L1207.5 605.8 L1208.0 605.9 L1208.5 606.0 L1209.0 606.1 L1209.5 606.1 L1210.0 606.1 L1210.5 605.8 L1211.0 605.7 L1211.5 606.0 L1212.0 605.6 L1212.5 605.5 L1213.0 605.8 L1213.5 607.4 L1214.0 605.5 L1214.5 605.4 L1215.0 605.6 L1215.5 605.3 L1216.0 605.1 L1216.5 605.1 L1217.0 605.2 L1217.5 604.7 L1218.0 605.3 L1218.5 605.0 L1219.0 605.1 L1219.5 605.7 L1220.0 605.5 L1220.5 605.4 L1221.0 605.0 L1221.5 604.6 L1222.0 605.2 L1222.5 604.9 L1223.0 605.1 L1223.5 605.1 L1224.0 604.5 L1224.5 604.3 L1225.0 604.7 L1225.5 604.5 L1226.0 604.5 L1226.5 605.0 L1227.0 606.0 L1227.5 606.0 L1228.0 604.0 L1228.5 603.7 L1229.0 603.9 L1229.5 603.5 L1230.0 603.9 L1230.5 603.6 L1231.0 603.9 L1231.5 604.3 L1232.0 604.0 L1232.5 604.2 L1233.0 604.0 L1233.5 603.9 L1234.0 603.9 L1234.5 604.2 L1235.0 604.1 L1235.5 604.2 L1236.0 604.3 L1236.5 604.4 L1237.0 604.0 L1237.5 603.6 L1238.0 604.1 L1238.5 604.0 L1239.0 603.9 L1239.5 604.3 L1240.0 604.1 L1240.5 604.0 L1241.0 604.2 L1241.5 604.0 L1242.0 604.0 L1242.5 603.7 L1243.0 603.7 L1243.5 603.9 L1244.0 603.8 L1244.5 603.7 L1245.0 604.0 L1245.5 603.8 L1246.0 604.3 L1246.5 604.2 L1247.0 604.7 L1247.5 604.8 L1248.0 604.7 L1248 641.7 L452.5 641.7 Z" fill="url(#g2)"/>
<path d="M452.5 632.0 L452.8 605.0 L453.2 600.0 L453.6 612.4 L454.0 612.6 L454.5 612.8 L455.0 612.3 L455.5 612.5 L456.0 612.2 L456.5 612.1 L457.0 612.3 L457.5 612.0 L458.0 615.0 L458.5 611.7 L459.0 611.9 L459.5 612.1 L460.0 612.3 L460.5 612.3 L461.0 612.0 L461.5 614.6 L462.0 611.7 L462.5 611.7 L463.0 611.7 L463.5 611.6 L464.0 611.3 L464.5 611.1 L465.0 611.3 L465.5 611.5 L466.0 611.2 L466.5 611.3 L467.0 611.7 L467.5 611.6 L468.0 611.9 L468.5 611.9 L469.0 611.6 L469.5 611.5 L470.0 611.0 L470.5 611.1 L471.0 611.3 L471.5 610.9 L472.0 610.8 L472.5 610.7 L473.0 610.8 L473.5 610.6 L474.0 610.6 L474.5 611.0 L475.0 610.9 L475.5 610.6 L476.0 610.8 L476.5 610.7 L477.0 610.3 L477.5 610.6 L478.0 610.9 L478.5 610.8 L479.0 610.7 L479.5 610.7 L480.0 613.2 L480.5 610.6 L481.0 610.8 L481.5 610.6 L482.0 610.6 L482.5 610.9 L483.0 611.0 L483.5 610.8 L484.0 610.7 L484.5 610.5 L485.0 610.7 L485.5 610.7 L486.0 610.4 L486.5 610.5 L487.0 610.5 L487.5 610.3 L488.0 611.5 L488.5 612.3 L489.0 612.3 L489.5 611.6 L490.0 609.2 L490.5 609.3 L491.0 609.2 L491.5 609.2 L492.0 609.2 L492.5 609.2 L493.0 609.2 L493.5 609.3 L494.0 609.1 L494.5 609.2 L495.0 609.2 L495.5 608.7 L496.0 608.9 L496.5 609.0 L497.0 609.1 L497.5 608.9 L498.0 608.4 L498.5 608.3 L499.0 610.7 L499.5 608.1 L500.0 607.5 L500.5 607.7 L501.0 607.7 L501.5 607.5 L502.0 607.3 L502.5 607.1 L503.0 606.9 L503.5 606.4 L504.0 606.8 L504.5 606.4 L505.0 606.3 L505.5 606.3 L506.0 606.2 L506.5 606.0 L507.0 606.0 L507.5 605.9 L508.0 605.4 L508.5 605.3 L509.0 605.5 L509.5 605.3 L510.0 605.1 L510.5 605.8 L511.0 605.4 L511.5 605.5 L512.0 605.0 L512.5 604.9 L513.0 604.7 L513.5 604.4 L514.0 604.3 L514.5 604.4 L515.0 604.5 L515.5 604.7 L516.0 604.8 L516.5 605.0 L517.0 604.8 L517.5 604.8 L518.0 604.3 L518.5 604.5 L519.0 604.5 L519.5 604.2 L520.0 604.4 L520.5 604.2 L521.0 604.1 L521.5 604.6 L522.0 604.4 L522.5 604.3 L523.0 604.2 L523.5 604.2 L524.0 604.1 L524.5 604.2 L525.0 604.2 L525.5 604.2 L526.0 603.8 L526.5 604.1 L527.0 603.7 L527.5 603.8 L528.0 603.4 L528.5 603.4 L529.0 603.1 L529.5 603.0 L530.0 602.9 L530.5 603.2 L531.0 603.2 L531.5 603.0 L532.0 603.2 L532.5 602.8 L533.0 602.7 L533.5 602.6 L534.0 602.7 L534.5 602.4 L535.0 602.9 L535.5 607.5 L536.0 607.5 L536.5 607.0 L537.0 602.9 L537.5 603.2 L538.0 602.8 L538.5 602.6 L539.0 602.7 L539.5 602.7 L540.0 602.5 L540.5 602.2 L541.0 602.5 L541.5 604.9 L542.0 602.6 L542.5 602.8 L543.0 602.5 L543.5 602.2 L544.0 602.3 L544.5 601.9 L545.0 601.8 L545.5 602.0 L546.0 602.1 L546.5 602.1 L547.0 602.1 L547.5 602.4 L548.0 602.4 L548.5 602.6 L549.0 602.7 L549.5 602.7 L550.0 602.3 L550.5 602.4 L551.0 609.5 L551.5 610.0 L552.0 610.4 L552.5 602.2 L553.0 601.9 L553.5 602.4 L554.0 602.1 L554.5 602.4 L555.0 601.9 L555.5 601.9 L556.0 602.2 L556.5 602.4 L557.0 602.4 L557.5 602.4 L558.0 602.6 L558.5 602.0 L559.0 602.0 L559.5 601.8 L560.0 602.2 L560.5 602.0 L561.0 602.1 L561.5 601.6 L562.0 601.8 L562.5 601.7 L563.0 601.8 L563.5 601.3 L564.0 601.0 L564.5 600.6 L565.0 600.8 L565.5 601.1 L566.0 601.1 L566.5 601.1 L567.0 601.2 L567.5 600.7 L568.0 600.9 L568.5 600.8 L569.0 600.6 L569.5 601.0 L570.0 600.9 L570.5 600.7 L571.0 600.8 L571.5 602.7 L572.0 600.6 L572.5 600.7 L573.0 600.4 L573.5 600.3 L574.0 600.0 L574.5 600.3 L575.0 600.3 L575.5 599.8 L576.0 600.1 L576.5 599.9 L577.0 599.6 L577.5 599.8 L578.0 599.6 L578.5 599.2 L579.0 599.5 L579.5 599.1 L580.0 599.3 L580.5 599.6 L581.0 599.6 L581.5 600.0 L582.0 598.7 L582.5 598.7 L583.0 598.9 L583.5 599.2 L584.0 599.1 L584.5 598.8 L585.0 598.9 L585.5 598.4 L586.0 598.2 L586.5 598.4 L587.0 598.7 L587.5 598.7 L588.0 598.3 L588.5 598.6 L589.0 598.2 L589.5 601.8 L590.0 601.7 L590.5 602.3 L591.0 597.8 L591.5 597.7 L592.0 597.6 L592.5 597.4 L593.0 597.2 L593.5 596.8 L594.0 596.9 L594.5 597.0 L595.0 596.7 L595.5 597.2 L596.0 596.9 L596.5 596.9 L597.0 597.0 L597.5 596.8 L598.0 597.1 L598.5 597.1 L599.0 596.9 L599.5 597.2 L600.0 596.7 L600.5 596.6 L601.0 596.3 L601.5 596.1 L602.0 599.4 L602.5 596.7 L603.0 596.6 L603.5 596.0 L604.0 596.0 L604.5 596.0 L605.0 596.4 L605.5 596.1 L606.0 595.9 L606.5 596.0 L607.0 595.9 L607.5 595.6 L608.0 595.4 L608.5 595.3 L609.0 595.0 L609.5 594.9 L610.0 594.8 L610.5 595.1 L611.0 595.4 L611.5 595.4 L612.0 595.4 L612.5 595.6 L613.0 595.6 L613.5 595.6 L614.0 595.6 L614.5 595.2 L615.0 595.0 L615.5 594.7 L616.0 594.8 L616.5 594.8 L617.0 594.5 L617.5 594.6 L618.0 594.0 L618.5 593.9 L619.0 594.3 L619.5 593.9 L620.0 594.0 L620.5 593.9 L621.0 593.6 L621.5 593.2 L622.0 593.6 L622.5 593.7 L623.0 593.6 L623.5 593.5 L624.0 593.6 L624.5 593.3 L625.0 593.0 L625.5 600.6 L626.0 600.5 L626.5 600.9 L627.0 593.2 L627.5 592.9 L628.0 593.2 L628.5 593.2 L629.0 592.8 L629.5 593.0 L630.0 592.9 L630.5 592.7 L631.0 592.4 L631.5 592.3 L632.0 592.4 L632.5 592.2 L633.0 591.9 L633.5 592.2 L634.0 591.8 L634.5 592.3 L635.0 591.9 L635.5 591.7 L636.0 591.5 L636.5 591.9 L637.0 591.9 L637.5 592.0 L638.0 591.7 L638.5 592.0 L639.0 592.2 L639.5 592.2 L640.0 592.2 L640.5 592.0 L641.0 591.9 L641.5 591.6 L642.0 591.5 L642.5 591.4 L643.0 591.7 L643.5 591.7 L644.0 591.5 L644.5 591.5 L645.0 591.4 L645.5 591.0 L646.0 591.1 L646.5 591.1 L647.0 591.4 L647.5 591.2 L648.0 590.9 L648.5 590.7 L649.0 590.6 L649.5 590.8 L650.0 590.7 L650.5 590.5 L651.0 590.6 L651.5 593.3 L652.0 590.6 L652.5 590.4 L653.0 590.4 L653.5 594.1 L654.0 593.6 L654.5 594.1 L655.0 590.0 L655.5 589.7 L656.0 589.8 L656.5 589.8 L657.0 589.7 L657.5 589.1 L658.0 589.1 L658.5 589.3 L659.0 589.2 L659.5 589.3 L660.0 589.4 L660.5 589.2 L661.0 588.7 L661.5 588.6 L662.0 588.3 L662.5 588.6 L663.0 588.5 L663.5 588.4 L664.0 588.5 L664.5 588.6 L665.0 588.8 L665.5 589.2 L666.0 589.0 L666.5 589.2 L667.0 588.8 L667.5 589.1 L668.0 589.1 L668.5 588.7 L669.0 589.8 L669.5 590.7 L670.0 588.9 L670.5 588.8 L671.0 588.5 L671.5 588.8 L672.0 588.9 L672.5 588.6 L673.0 588.8 L673.5 588.7 L674.0 588.4 L674.5 588.4 L675.0 588.5 L675.5 588.6 L676.0 588.4 L676.5 588.7 L677.0 588.2 L677.5 588.1 L678.0 588.0 L678.5 588.0 L679.0 588.1 L679.5 587.7 L680.0 587.5 L680.5 587.8 L681.0 588.0 L681.5 588.2 L682.0 587.8 L682.5 588.2 L683.0 588.3 L683.5 588.2 L684.0 588.0 L684.5 588.2 L685.0 588.0 L685.5 587.7 L686.0 587.4 L686.5 587.7 L687.0 587.8 L687.5 592.0 L688.0 591.7 L688.5 591.9 L689.0 587.9 L689.5 587.9 L690.0 588.0 L690.5 588.4 L691.0 588.5 L691.5 588.3 L692.0 587.8 L692.5 588.0 L693.0 587.9 L693.5 587.7 L694.0 587.9 L694.5 590.3 L695.0 589.6 L695.5 589.6 L696.0 587.4 L696.5 587.3 L697.0 587.1 L697.5 586.7 L698.0 586.2 L698.5 586.1 L699.0 586.1 L699.5 586.3 L700.0 585.9 L700.5 585.6 L701.0 585.5 L701.5 586.0 L702.0 586.1 L702.5 585.9 L703.0 585.4 L703.5 585.1 L704.0 585.3 L704.5 585.4 L705.0 585.2 L705.5 585.4 L706.0 587.3 L706.5 584.6 L707.0 584.5 L707.5 584.5 L708.0 584.6 L708.5 584.5 L709.0 584.5 L709.5 584.3 L710.0 584.4 L710.5 584.4 L711.0 584.5 L711.5 584.3 L712.0 583.9 L712.5 584.1 L713.0 583.9 L713.5 583.7 L714.0 583.4 L714.5 583.1 L715.0 583.3 L715.5 583.5 L716.0 583.1 L716.5 583.0 L717.0 582.9 L717.5 583.0 L718.0 583.3 L718.5 582.7 L719.0 582.6 L719.5 582.6 L720.0 582.8 L720.5 584.3 L721.0 585.8 L721.5 587.4 L722.0 589.2 L722.5 590.9 L723.0 591.0 L723.5 591.0 L724.0 591.0 L724.5 590.8 L725.0 590.9 L725.5 590.9 L726.0 590.6 L726.5 590.3 L727.0 590.3 L727.5 590.3 L728.0 590.0 L728.5 589.6 L729.0 589.5 L729.5 589.3 L730.0 589.0 L730.5 589.1 L731.0 589.0 L731.5 588.8 L732.0 588.7 L732.5 589.1 L733.0 589.1 L733.5 588.9 L734.0 588.8 L734.5 588.9 L735.0 589.0 L735.5 589.1 L736.0 588.6 L736.5 589.0 L737.0 588.7 L737.5 589.3 L738.0 589.5 L738.5 589.2 L739.0 589.2 L739.5 589.3 L740.0 589.2 L740.5 589.4 L741.0 589.4 L741.5 589.4 L742.0 589.1 L742.5 589.1 L743.0 588.9 L743.5 589.1 L744.0 588.7 L744.5 589.0 L745.0 589.2 L745.5 589.1 L746.0 589.6 L746.5 589.3 L747.0 589.3 L747.5 589.5 L748.0 589.5 L748.5 589.5 L749.0 589.5 L749.5 589.9 L750.0 589.3 L750.5 589.7 L751.0 589.4 L751.5 589.2 L752.0 589.0 L752.5 589.2 L753.0 588.9 L753.5 588.7 L754.0 588.7 L754.5 588.5 L755.0 588.2 L755.5 588.6 L756.0 588.6 L756.5 588.5 L757.0 588.0 L757.5 588.1 L758.0 588.1 L758.5 588.2 L759.0 588.3 L759.5 592.2 L760.0 591.8 L760.5 592.8 L761.0 588.5 L761.5 588.0 L762.0 588.0 L762.5 588.3 L763.0 595.2 L763.5 593.8 L764.0 595.0 L764.5 587.8 L765.0 587.6 L765.5 587.4 L766.0 586.9 L766.5 586.3 L767.0 586.3 L767.5 586.2 L768.0 585.8 L768.5 585.6 L769.0 585.2 L769.5 584.9 L770.0 584.6 L770.5 584.6 L771.0 584.6 L771.5 584.0 L772.0 583.8 L772.5 583.2 L773.0 583.3 L773.5 583.0 L774.0 582.6 L774.5 582.6 L775.0 582.3 L775.5 582.1 L776.0 582.0 L776.5 581.5 L777.0 581.4 L777.5 581.0 L778.0 581.1 L778.5 580.9 L779.0 581.1 L779.5 581.4 L780.0 581.4 L780.5 581.3 L781.0 581.3 L781.5 581.2 L782.0 581.5 L782.5 581.2 L783.0 581.3 L783.5 581.3 L784.0 581.8 L784.5 582.0 L785.0 581.5 L785.5 581.3 L786.0 581.4 L786.5 581.6 L787.0 581.7 L787.5 581.9 L788.0 582.0 L788.5 585.8 L789.0 582.6 L789.5 582.3 L790.0 582.5 L790.5 582.7 L791.0 582.5 L791.5 582.1 L792.0 582.2 L792.5 582.2 L793.0 582.1 L793.5 582.3 L794.0 582.4 L794.5 582.6 L795.0 582.9 L795.5 582.6 L796.0 582.5 L796.5 582.8 L797.0 582.2 L797.5 581.2 L798.0 594.0 L798.5 594.3 L799.0 594.1 L799.5 577.9 L800.0 577.0 L800.5 577.2 L801.0 576.8 L801.5 579.0 L802.0 577.3 L802.5 577.3 L803.0 577.4 L803.5 577.7 L804.0 577.6 L804.5 577.9 L805.0 577.8 L805.5 577.9 L806.0 577.4 L806.5 577.2 L807.0 577.0 L807.5 577.1 L808.0 577.4 L808.5 577.1 L809.0 577.3 L809.5 577.4 L810.0 577.3 L810.5 577.0 L811.0 577.2 L811.5 577.2 L812.0 577.2 L812.5 577.2 L813.0 577.5 L813.5 577.6 L814.0 577.6 L814.5 577.7 L815.0 577.4 L815.5 577.5 L816.0 577.6 L816.5 577.4 L817.0 577.2 L817.5 577.3 L818.0 577.0 L818.5 587.6 L819.0 587.7 L819.5 587.8 L820.0 589.8 L820.5 589.8 L821.0 589.7 L821.5 576.0 L822.0 575.7 L822.5 575.3 L823.0 575.7 L823.5 575.4 L824.0 575.0 L824.5 575.5 L825.0 575.0 L825.5 575.1 L826.0 575.4 L826.5 575.2 L827.0 575.1 L827.5 575.6 L828.0 575.6 L828.5 575.9 L829.0 575.6 L829.5 575.8 L830.0 575.7 L830.5 575.5 L831.0 575.5 L831.5 575.6 L832.0 575.4 L832.5 575.3 L833.0 575.3 L833.5 575.4 L834.0 575.5 L834.5 575.4 L835.0 575.2 L835.5 578.7 L836.0 579.2 L836.5 579.4 L837.0 575.4 L837.5 575.3 L838.0 575.7 L838.5 575.5 L839.0 575.5 L839.5 575.8 L840.0 575.4 L840.5 575.6 L841.0 575.6 L841.5 577.0 L842.0 574.5 L842.5 573.6 L843.0 572.7 L843.5 571.4 L844.0 570.8 L844.5 569.8 L845.0 569.4 L845.5 569.1 L846.0 569.1 L846.5 569.0 L847.0 569.1 L847.5 569.0 L848.0 569.3 L848.5 569.3 L849.0 569.0 L849.5 572.8 L850.0 573.2 L850.5 572.7 L851.0 568.5 L851.5 569.0 L852.0 568.8 L852.5 568.8 L853.0 568.8 L853.5 568.4 L854.0 568.3 L854.5 568.4 L855.0 567.8 L855.5 567.9 L856.0 570.8 L856.5 576.0 L857.0 575.5 L857.5 575.1 L858.0 575.5 L858.5 575.7 L859.0 575.7 L859.5 575.4 L860.0 575.2 L860.5 575.3 L861.0 575.2 L861.5 575.1 L862.0 574.9 L862.5 574.8 L863.0 574.7 L863.5 574.5 L864.0 574.8 L864.5 574.7 L865.0 574.6 L865.5 574.4 L866.0 574.5 L866.5 574.8 L867.0 574.8 L867.5 574.8 L868.0 574.4 L868.5 574.4 L869.0 574.4 L869.5 574.2 L870.0 574.0 L870.5 573.9 L871.0 574.3 L871.5 574.2 L872.0 579.1 L872.5 579.9 L873.0 573.7 L873.5 574.7 L874.0 573.4 L874.5 573.4 L875.0 572.8 L875.5 572.9 L876.0 572.9 L876.5 572.5 L877.0 572.2 L877.5 572.2 L878.0 572.5 L878.5 572.0 L879.0 572.1 L879.5 572.3 L880.0 572.1 L880.5 571.9 L881.0 571.7 L881.5 571.8 L882.0 571.7 L882.5 571.6 L883.0 570.9 L883.5 570.8 L884.0 570.8 L884.5 570.9 L885.0 571.3 L885.5 571.1 L886.0 571.6 L886.5 571.8 L887.0 572.2 L887.5 572.0 L888.0 571.8 L888.5 572.2 L889.0 572.3 L889.5 572.4 L890.0 571.9 L890.5 580.7 L891.0 579.8 L891.5 579.2 L892.0 578.7 L892.5 574.3 L893.0 574.5 L893.5 574.8 L894.0 575.7 L894.5 576.1 L895.0 576.3 L895.5 577.0 L896.0 576.6 L896.5 576.6 L897.0 576.3 L897.5 576.4 L898.0 576.8 L898.5 576.4 L899.0 576.7 L899.5 576.3 L900.0 576.2 L900.5 576.7 L901.0 576.4 L901.5 576.8 L902.0 577.3 L902.5 577.9 L903.0 575.8 L903.5 575.5 L904.0 575.4 L904.5 575.5 L905.0 575.4 L905.5 575.3 L906.0 575.5 L906.5 575.3 L907.0 575.3 L907.5 574.8 L908.0 574.9 L908.5 575.1 L909.0 575.2 L909.5 575.3 L910.0 575.0 L910.5 575.4 L911.0 575.3 L911.5 575.0 L912.0 574.9 L912.5 574.8 L913.0 574.9 L913.5 574.6 L914.0 574.5 L914.5 574.0 L915.0 574.3 L915.5 574.3 L916.0 574.1 L916.5 573.9 L917.0 573.6 L917.5 573.8 L918.0 573.6 L918.5 573.6 L919.0 573.7 L919.5 574.0 L920.0 573.8 L920.5 573.8 L921.0 573.5 L921.5 573.2 L922.0 572.9 L922.5 573.2 L923.0 574.1 L923.5 573.1 L924.0 572.7 L924.5 572.3 L925.0 572.2 L925.5 572.0 L926.0 572.4 L926.5 572.2 L927.0 572.1 L927.5 572.0 L928.0 571.7 L928.5 571.7 L929.0 571.7 L929.5 571.4 L930.0 571.0 L930.5 571.3 L931.0 571.1 L931.5 570.8 L932.0 570.6 L932.5 570.5 L933.0 570.9 L933.5 570.8 L934.0 570.7 L934.5 570.7 L935.0 570.5 L935.5 570.5 L936.0 570.7 L936.5 570.5 L937.0 570.7 L937.5 570.5 L938.0 570.4 L938.5 569.9 L939.0 569.7 L939.5 569.1 L940.0 572.6 L940.5 568.7 L941.0 569.0 L941.5 569.0 L942.0 569.0 L942.5 568.7 L943.0 568.3 L943.5 568.2 L944.0 568.1 L944.5 567.8 L945.0 567.4 L945.5 567.0 L946.0 567.2 L946.5 567.3 L947.0 567.1 L947.5 567.0 L948.0 567.0 L948.5 566.9 L949.0 567.2 L949.5 567.1 L950.0 566.6 L950.5 566.4 L951.0 566.4 L951.5 566.2 L952.0 565.7 L952.5 566.1 L953.0 566.0 L953.5 566.3 L954.0 565.8 L954.5 565.6 L955.0 565.1 L955.5 564.8 L956.0 565.0 L956.5 564.9 L957.0 565.1 L957.5 564.8 L958.0 564.9 L958.5 564.6 L959.0 564.6 L959.5 564.6 L960.0 564.9 L960.5 564.7 L961.0 564.2 L961.5 564.0 L962.0 563.6 L962.5 563.9 L963.0 563.3 L963.5 563.2 L964.0 563.3 L964.5 563.4 L965.0 563.2 L965.5 562.9 L966.0 562.8 L966.5 562.8 L967.0 562.4 L967.5 562.2 L968.0 562.2 L968.5 561.9 L969.0 563.3 L969.5 563.1 L970.0 562.5 L970.5 561.7 L971.0 561.7 L971.5 561.4 L972.0 561.6 L972.5 561.5 L973.0 561.6 L973.5 561.3 L974.0 561.3 L974.5 561.1 L975.0 560.7 L975.5 560.8 L976.0 560.6 L976.5 560.1 L977.0 559.8 L977.5 560.0 L978.0 559.8 L978.5 559.9 L979.0 559.8 L979.5 560.0 L980.0 560.0 L980.5 559.9 L981.0 559.9 L981.5 559.9 L982.0 560.2 L982.5 559.9 L983.0 559.5 L983.5 559.2 L984.0 558.9 L984.5 558.6 L985.0 558.7 L985.5 559.1 L986.0 559.2 L986.5 558.9 L987.0 558.9 L987.5 558.7 L988.0 558.6 L988.5 558.7 L989.0 558.9 L989.5 558.7 L990.0 558.5 L990.5 558.2 L991.0 558.5 L991.5 558.5 L992.0 558.4 L992.5 558.5 L993.0 557.9 L993.5 558.1 L994.0 571.3 L994.5 570.1 L995.0 570.3 L995.5 556.4 L996.0 555.8 L996.5 555.1 L997.0 554.7 L997.5 554.1 L998.0 553.7 L998.5 553.8 L999.0 553.5 L999.5 553.3 L1000.0 553.6 L1000.5 553.2 L1001.0 553.3 L1001.5 552.9 L1002.0 552.7 L1002.5 552.7 L1003.0 552.5 L1003.5 552.8 L1004.0 552.1 L1004.5 552.3 L1005.0 552.3 L1005.5 552.8 L1006.0 552.7 L1006.5 552.1 L1007.0 551.8 L1007.5 551.5 L1008.0 551.8 L1008.5 551.7 L1009.0 551.6 L1009.5 551.4 L1010.0 551.4 L1010.5 551.0 L1011.0 551.4 L1011.5 551.2 L1012.0 551.0 L1012.5 550.6 L1013.0 550.6 L1013.5 550.5 L1014.0 550.0 L1014.5 550.2 L1015.0 550.2 L1015.5 549.9 L1016.0 550.0 L1016.5 550.0 L1017.0 550.0 L1017.5 552.4 L1018.0 549.8 L1018.5 549.6 L1019.0 549.7 L1019.2 549.9 L1019.3 600.0 L1019.4 613.2 L1019.5 613.2 L1020.0 613.2 L1020.5 613.0 L1021.0 613.0 L1021.5 613.1 L1022.0 613.0 L1022.5 612.9 L1023.0 612.7 L1023.5 612.4 L1024.0 612.6 L1024.5 612.7 L1025.0 612.8 L1025.5 613.3 L1026.0 613.1 L1026.5 612.8 L1027.0 613.2 L1027.5 614.8 L1028.0 613.4 L1028.5 613.1 L1029.0 613.2 L1029.5 613.4 L1030.0 612.7 L1030.5 612.7 L1031.0 612.5 L1031.5 612.5 L1032.0 612.3 L1032.5 612.5 L1033.0 612.3 L1033.5 612.2 L1034.0 612.1 L1034.5 611.8 L1035.0 611.4 L1035.5 611.6 L1036.0 611.6 L1036.5 611.6 L1037.0 611.3 L1037.5 611.5 L1038.0 611.9 L1038.5 612.1 L1039.0 611.5 L1039.5 611.8 L1040.0 611.8 L1040.5 611.3 L1041.0 611.0 L1041.5 611.4 L1042.0 612.9 L1042.5 611.1 L1043.0 611.2 L1043.5 611.2 L1044.0 611.1 L1044.5 613.4 L1045.0 611.1 L1045.5 610.8 L1046.0 610.9 L1046.5 610.8 L1047.0 610.8 L1047.5 610.7 L1048.0 611.1 L1048.5 611.1 L1049.0 610.8 L1049.5 610.5 L1050.0 611.0 L1050.5 610.7 L1051.0 610.6 L1051.5 610.2 L1052.0 610.2 L1052.5 610.2 L1053.0 609.7 L1053.5 609.8 L1054.0 610.1 L1054.5 610.0 L1055.0 609.8 L1055.5 610.0 L1056.0 609.6 L1056.5 609.7 L1057.0 609.7 L1057.5 609.1 L1058.0 608.8 L1058.5 608.7 L1059.0 609.0 L1059.5 608.9 L1060.0 608.8 L1060.5 608.7 L1061.0 608.6 L1061.5 612.4 L1062.0 612.6 L1062.5 615.2 L1063.0 615.9 L1063.5 615.1 L1064.0 608.5 L1064.5 608.6 L1065.0 608.7 L1065.5 608.9 L1066.0 609.0 L1066.5 608.8 L1067.0 608.6 L1067.5 608.9 L1068.0 608.6 L1068.5 608.9 L1069.0 608.8 L1069.5 608.8 L1070.0 608.9 L1070.5 608.4 L1071.0 608.7 L1071.5 608.5 L1072.0 608.4 L1072.5 619.9 L1073.0 619.8 L1073.5 619.2 L1074.0 608.8 L1074.5 621.5 L1075.0 621.5 L1075.5 620.5 L1076.0 609.4 L1076.5 609.6 L1077.0 609.2 L1077.5 609.3 L1078.0 609.5 L1078.5 609.6 L1079.0 609.3 L1079.5 613.8 L1080.0 613.7 L1080.5 613.7 L1081.0 609.1 L1081.5 609.5 L1082.0 609.1 L1082.5 609.3 L1083.0 609.2 L1083.5 609.1 L1084.0 609.0 L1084.5 609.1 L1085.0 609.0 L1085.5 609.4 L1086.0 609.6 L1086.5 617.0 L1087.0 617.6 L1087.5 618.0 L1088.0 609.8 L1088.5 609.9 L1089.0 618.2 L1089.5 618.4 L1090.0 618.6 L1090.5 610.0 L1091.0 609.8 L1091.5 609.5 L1092.0 609.2 L1092.5 609.4 L1093.0 609.0 L1093.5 609.6 L1094.0 609.3 L1094.5 609.1 L1095.0 609.1 L1095.5 609.0 L1096.0 608.7 L1096.5 608.5 L1097.0 608.5 L1097.5 609.0 L1098.0 608.8 L1098.5 609.1 L1099.0 608.9 L1099.5 609.0 L1100.0 609.2 L1100.5 609.2 L1101.0 608.9 L1101.5 608.7 L1102.0 609.0 L1102.5 609.2 L1103.0 609.1 L1103.5 609.1 L1104.0 609.0 L1104.5 608.6 L1105.0 608.3 L1105.5 608.1 L1106.0 608.2 L1106.5 608.3 L1107.0 608.4 L1107.5 608.1 L1108.0 608.0 L1108.5 607.6 L1109.0 607.6 L1109.5 607.8 L1110.0 607.6 L1110.5 607.7 L1111.0 607.4 L1111.5 607.3 L1112.0 607.6 L1112.5 607.4 L1113.0 607.2 L1113.5 607.3 L1114.0 607.4 L1114.5 607.4 L1115.0 607.1 L1115.5 607.1 L1116.0 607.1 L1116.5 607.4 L1117.0 607.4 L1117.5 607.6 L1118.0 607.4 L1118.5 607.8 L1119.0 607.4 L1119.5 607.5 L1120.0 607.4 L1120.5 607.9 L1121.0 607.1 L1121.5 607.3 L1122.0 607.0 L1122.5 607.3 L1123.0 607.1 L1123.5 607.1 L1124.0 606.5 L1124.5 606.9 L1125.0 606.6 L1125.5 606.7 L1126.0 606.6 L1126.5 606.7 L1127.0 606.7 L1127.5 606.3 L1128.0 606.3 L1128.5 606.1 L1129.0 605.9 L1129.5 606.0 L1130.0 606.2 L1130.5 606.2 L1131.0 606.7 L1131.5 606.8 L1132.0 606.7 L1132.5 607.0 L1133.0 607.1 L1133.5 607.1 L1134.0 607.6 L1134.5 607.6 L1135.0 608.0 L1135.5 608.2 L1136.0 608.6 L1136.5 608.4 L1137.0 608.1 L1137.5 608.4 L1138.0 608.7 L1138.5 608.4 L1139.0 608.9 L1139.5 609.1 L1140.0 621.1 L1140.5 620.8 L1141.0 621.0 L1141.5 610.0 L1142.0 610.2 L1142.5 610.5 L1143.0 610.2 L1143.5 610.6 L1144.0 610.5 L1144.5 610.7 L1145.0 610.8 L1145.5 610.3 L1146.0 610.7 L1146.5 610.1 L1147.0 610.2 L1147.5 609.8 L1148.0 610.0 L1148.5 610.0 L1149.0 610.0 L1149.5 609.8 L1150.0 609.6 L1150.5 610.2 L1151.0 610.0 L1151.5 610.3 L1152.0 609.9 L1152.5 610.1 L1153.0 609.6 L1153.5 609.9 L1154.0 610.0 L1154.5 609.6 L1155.0 609.6 L1155.5 609.4 L1156.0 609.5 L1156.5 609.9 L1157.0 609.7 L1157.5 609.9 L1158.0 609.7 L1158.5 609.6 L1159.0 609.5 L1159.5 609.4 L1160.0 609.4 L1160.5 609.3 L1161.0 611.3 L1161.5 609.4 L1162.0 609.2 L1162.5 609.4 L1163.0 609.3 L1163.5 609.1 L1164.0 609.1 L1164.5 609.2 L1165.0 609.4 L1165.5 609.2 L1166.0 609.2 L1166.5 608.7 L1167.0 608.4 L1167.5 610.1 L1168.0 610.2 L1168.5 609.8 L1169.0 607.7 L1169.5 607.3 L1170.0 607.7 L1170.5 609.3 L1171.0 607.5 L1171.5 607.4 L1172.0 607.6 L1172.5 607.8 L1173.0 607.5 L1173.5 607.8 L1174.0 607.8 L1174.5 607.8 L1175.0 607.3 L1175.5 607.4 L1176.0 607.4 L1176.5 607.4 L1177.0 607.5 L1177.5 607.5 L1178.0 607.5 L1178.5 607.4 L1179.0 607.4 L1179.5 607.1 L1180.0 606.7 L1180.5 607.1 L1181.0 607.2 L1181.5 608.7 L1182.0 606.9 L1182.5 606.9 L1183.0 606.9 L1183.5 606.7 L1184.0 607.0 L1184.5 606.7 L1185.0 606.9 L1185.5 607.0 L1186.0 606.9 L1186.5 607.1 L1187.0 606.9 L1187.5 606.5 L1188.0 607.0 L1188.5 606.9 L1189.0 606.5 L1189.5 606.6 L1190.0 606.8 L1190.5 606.5 L1191.0 606.6 L1191.5 606.6 L1192.0 606.4 L1192.5 606.8 L1193.0 606.5 L1193.5 606.6 L1194.0 606.6 L1194.5 607.0 L1195.0 606.7 L1195.5 606.5 L1196.0 606.5 L1196.5 606.1 L1197.0 606.7 L1197.5 606.5 L1198.0 606.5 L1198.5 606.2 L1199.0 606.1 L1199.5 606.3 L1200.0 606.6 L1200.5 606.8 L1201.0 606.1 L1201.5 606.2 L1202.0 606.2 L1202.5 606.1 L1203.0 605.9 L1203.5 606.3 L1204.0 606.0 L1204.5 606.2 L1205.0 605.9 L1205.5 605.9 L1206.0 605.7 L1206.5 605.5 L1207.0 606.0 L1207.5 605.8 L1208.0 605.9 L1208.5 606.0 L1209.0 606.1 L1209.5 606.1 L1210.0 606.1 L1210.5 605.8 L1211.0 605.7 L1211.5 606.0 L1212.0 605.6 L1212.5 605.5 L1213.0 605.8 L1213.5 607.4 L1214.0 605.5 L1214.5 605.4 L1215.0 605.6 L1215.5 605.3 L1216.0 605.1 L1216.5 605.1 L1217.0 605.2 L1217.5 604.7 L1218.0 605.3 L1218.5 605.0 L1219.0 605.1 L1219.5 605.7 L1220.0 605.5 L1220.5 605.4 L1221.0 605.0 L1221.5 604.6 L1222.0 605.2 L1222.5 604.9 L1223.0 605.1 L1223.5 605.1 L1224.0 604.5 L1224.5 604.3 L1225.0 604.7 L1225.5 604.5 L1226.0 604.5 L1226.5 605.0 L1227.0 606.0 L1227.5 606.0 L1228.0 604.0 L1228.5 603.7 L1229.0 603.9 L1229.5 603.5 L1230.0 603.9 L1230.5 603.6 L1231.0 603.9 L1231.5 604.3 L1232.0 604.0 L1232.5 604.2 L1233.0 604.0 L1233.5 603.9 L1234.0 603.9 L1234.5 604.2 L1235.0 604.1 L1235.5 604.2 L1236.0 604.3 L1236.5 604.4 L1237.0 604.0 L1237.5 603.6 L1238.0 604.1 L1238.5 604.0 L1239.0 603.9 L1239.5 604.3 L1240.0 604.1 L1240.5 604.0 L1241.0 604.2 L1241.5 604.0 L1242.0 604.0 L1242.5 603.7 L1243.0 603.7 L1243.5 603.9 L1244.0 603.8 L1244.5 603.7 L1245.0 604.0 L1245.5 603.8 L1246.0 604.3 L1246.5 604.2 L1247.0 604.7 L1247.5 604.8 L1248.0 604.7" stroke="#ee3b2c" stroke-width="1" fill="none"/>
<path d="M1019.3 551 V612.5" stroke="#de7a70" stroke-width="1.1"/>
<path d="M1019.4 633.5 V613.5" stroke="#52c41a" stroke-width="1"/>
<path d="M451 633.5 H1248.5" stroke="#e2d2da" stroke-width="1.2"/>
<path d="M1248.6 541 V642.5" stroke="#c6cad2" stroke-width="1.2"/>
</svg>
<div class="a cj" style="left:317px;top:482px;width:46px;height:22px;background:#243657;font-size:12px;line-height:20px;font-weight:bold;color:#fff;text-align:center">出入金</div>
<div class="a cj" style="left:544px;top:487px;width:36px;height:19px;border-radius:3px;background:#c94c50;font-size:12px;line-height:19px;color:#5a1f22;text-align:center">净值</div>
<div class="a cj" style="left:620px;top:487px;width:36px;height:19px;border-radius:3px;background:#6c7079;font-size:12px;line-height:19px;color:#3a3d44;text-align:center">余额</div>
<div class="a cj" style="left:696px;top:487px;width:36px;height:19px;border-radius:3px;background:#55d21b;font-size:12px;line-height:19px;color:#1f4a10;text-align:center">出金</div>
<div class="a cj" style="left:772px;top:487px;width:36px;height:19px;border-radius:3px;background:#e2310b;font-size:12px;line-height:19px;color:#5a1505;text-align:center">入金</div>
<div class="a ax cj" style="left:395px;top:512px">净值/余额</div>
<div class="a ax axr" style="left:344.5px;width:100px;top:534px">13,393.62</div>
<div class="a ax axr" style="left:344.5px;width:100px;top:565px">10,000</div>
<div class="a ax axr" style="left:344.5px;width:100px;top:609px">5,000</div>
<div class="a ax axr" style="left:344.5px;width:100px;top:634px">2,235.27</div>
<div class="a ax cj" style="left:1230px;top:512px">出入金</div>
<div class="a ax" style="left:1256px;top:534px">7,700</div>
<div class="a ax" style="left:1256px;top:554px">6,000</div>
<div class="a ax" style="left:1256px;top:578px">4,000</div>
<div class="a ax" style="left:1256px;top:602px">2,000</div>
<div class="a ax" style="left:1256px;top:626px">0</div>
<div class="a" style="left:867px;top:523.5px;font-size:17px;line-height:22px;white-space:nowrap;color:#eef2f8"><span class="cj" style="color:#e2401c;margin-right:-3px">总入金</span> : 8349.64</div>
<div class="a" style="left:1009px;top:523.5px;font-size:17px;line-height:22px;white-space:nowrap;color:#eef2f8"><span class="cj" style="color:#4fcf1c;margin-right:-3px">总出金</span> : -14000</div>
<div class="a ax" style="left:412.0px;top:648.0px;width:80px;text-align:center">2021-02-22</div>
<div class="a ax" style="left:499.2px;top:648.0px;width:80px;text-align:center">2021-06-22</div>
<div class="a ax" style="left:586.5px;top:648.0px;width:80px;text-align:center">2021-10-20</div>
<div class="a ax" style="left:673.8px;top:648.0px;width:80px;text-align:center">2022-02-17</div>
<div class="a ax" style="left:761.0px;top:648.0px;width:80px;text-align:center">2022-06-17</div>
<div class="a ax" style="left:848.2px;top:648.0px;width:80px;text-align:center">2022-10-15</div>
<div class="a ax" style="left:935.5px;top:648.0px;width:80px;text-align:center">2023-02-12</div>
<div class="a ax" style="left:1022.8px;top:648.0px;width:80px;text-align:center">2023-06-12</div>
<div class="a ax" style="left:1110.0px;top:648.0px;width:80px;text-align:center">2023-10-10</div>
<div class="a ax" style="left:1197.2px;top:648.0px;width:80px;text-align:center">2024-02-07</div>
<!-- ================= RIGHT COLUMN ================= -->
<div class="a" style="left:1332px;top:179px;width:553px;height:32px;background:#243657"></div>
<div class="a cj" style="left:1348px;top:184px;font-size:14px;line-height:20px;font-weight:bold;color:#fff">信号的基本数据</div>
<div class="a" style="left:1332px;top:211px;width:553px;height:1px;background:#2b3c5e"></div>
<div class="a lt" style="left:1332px;top:212px;width:553px;height:30px"></div>
<div class="a dk" style="left:1332px;top:242px;width:553px;height:30px"></div>
<div class="a lt" style="left:1332px;top:272px;width:553px;height:30px"></div>
<div class="a dk" style="left:1332px;top:302px;width:553px;height:30px"></div>
<div class="a lt" style="left:1332px;top:332px;width:553px;height:30px"></div>
<div class="a dk" style="left:1332px;top:362px;width:553px;height:30px"></div>
<div class="a lt" style="left:1332px;top:392px;width:553px;height:30px"></div>
<div class="a dk" style="left:1332px;top:422px;width:553px;height:30px"></div>
<div class="a lt" style="left:1332px;top:452px;width:553px;height:30px"></div>
<div class="a" style="left:1608px;top:212px;width:1px;height:270px;background:#2b3a58"></div>
<div class="a bd cj" style="left:1348px;top:212px">账户货币单位</div><div class="a bv" style="left:1625px;top:212px">USD</div>
<div class="a bd cj" style="left:1348px;top:242px">总收益</div><div class="a bv" style="left:1625px;top:242px">12003.62</div>
<div class="a bd cj" style="left:1348px;top:272px">总收益率</div><div class="a bv" style="left:1625px;top:272px">143.76%</div>
<div class="a bd cj" style="left:1348px;top:302px">周收益率</div><div class="a bv" style="left:1625px;top:302px">-0.23%</div>
<div class="a bd cj" style="left:1348px;top:332px">最大回撤率(值)</div><div class="a bv" style="left:1625px;top:332px;white-space:pre">34.74%    (1684.87)</div>
<div class="a bd cj" style="left:1348px;top:362px">近7天交易次数</div><div class="a bv" style="left:1625px;top:362px">5 <span class="cj">次</span></div>
<div class="a bd cj" style="left:1348px;top:392px">周期</div><div class="a bv" style="left:1625px;top:392px">1870 <span class="cj">天</span></div>
<div class="a bd cj" style="left:1348px;top:422px">总交易量</div><div class="a bv" style="left:1625px;top:422px">192.18 <span class="cj">手</span></div>
<div class="a bd cj" style="left:1348px;top:452px">单笔最大交易量</div><div class="a bv" style="left:1625px;top:452px;white-space:nowrap">0.56 <span class="cj">手</span> CADCHF ( 2023-03-15 )</div>

<div class="a" style="left:1332px;top:482px;width:553px;height:34px;background:#243657"></div>
<div class="a" style="left:1348px;top:490px;font-size:15px;line-height:20px;font-weight:bold;color:#fff">MT4</div>
<div class="a" style="left:1408px;top:490px;font-size:14px;line-height:20px;font-weight:bold;color:#fff;letter-spacing:-0.4px">ForexChief-Classic</div>
<div class="a" style="left:1556px;top:490px;font-size:14px;line-height:20px;font-weight:bold;color:#fff">BG Grid</div>
<div class="a" style="left:1332px;top:516px;width:553px;height:293px;background:#1b2338"></div>
<div class="a" style="left:1332px;top:516px;width:542px;height:232px;background:#1a2236"></div>
<div class="a" style="left:1332px;top:516px;width:542px;height:28px;background:#1d2944"></div>
<div class="a" style="left:1332px;top:516px;width:542px;height:232px;overflow:hidden;border-bottom:1px solid #2e3e5e">
<table class="mt" style="border-collapse:collapse;width:542px;table-layout:fixed">
<colgroup><col style="width:190px"><col style="width:100px"><col style="width:139px"><col style="width:113px"></colgroup>
<tr><th class="cj">产品</th><th class="cj">点差</th><th class="cj">合约大小</th><th class="cj">杠杆</th></tr>
<tr><td>USDMXN</td><td>0</td><td>100000</td><td>400</td></tr>
<tr><td>CHFJPY</td><td>0</td><td>100000</td><td>400</td></tr>
<tr><td>CADCHF</td><td>0</td><td>100000</td><td>400</td></tr>
<tr><td>GBPNZD</td><td>0</td><td>100000</td><td>400</td></tr>
<tr><td>AUDJPY</td><td>0</td><td>100000</td><td>400</td></tr>
<tr><td>XAUUSD</td><td>0</td><td>100</td><td>400</td></tr>
<tr><td>AUDCHF</td><td>0</td><td>100000</td><td>400</td></tr>
<tr><td>EURUSD</td><td>0</td><td>100000</td><td>400</td></tr>
</table></div>
<div class="a" style="left:1874px;top:516px;width:9px;height:232px;background:#1a2236;border-left:1px solid #2e3e5e;border-right:1px solid #2e3e5e"></div>
<div class="a" style="left:1874px;top:516px;width:9px;height:28px;background:#1d2944;border:1px solid #2e3e5e"></div>
<div class="a" style="left:1875px;top:545px;width:6px;height:39px;background:#7d8ca2"></div>

<!-- ================= MONTHLY TABLE ================= -->
<div class="a" style="left:0;top:696px;width:1328px;height:112px;background:#1b2338"></div>
<div class="a" style="left:0;top:696px;width:1314px;height:113px;overflow:hidden">
<table class="mo" style="border-collapse:collapse;table-layout:fixed;width:1316px;margin-left:-1px">
<colgroup><col style="width:147px"><col span="12" style="width:97.4px"></colgroup>
<tr><th class="cj" style="background:#1d2944;position:relative;border-top:none"><div style="position:absolute;left:0;right:0;top:2px;height:23px;background:#1b2338;border-top:1px solid #2e3e5e"></div><span style="position:absolute;left:34px;top:3px;line-height:20px;color:#e8eef8;font-weight:normal">月收益率</span><svg style="position:absolute;left:130px;top:9px" width="12" height="9" viewBox="0 0 12 9"><path d="M1 2 L6 7 L11 2" stroke="#c8d0dc" stroke-width="1.1" fill="none"/></svg></th>
<th class="cj">1月</th><th class="cj">2月</th><th class="cj">3月</th><th class="cj">4月</th><th class="cj">5月</th><th class="cj">6月</th><th class="cj">7月</th><th class="cj">8月</th><th class="cj">9月</th><th class="cj">10月</th><th class="cj">11月</th><th class="cj">12月</th></tr>
<tr><td class="w" style="padding-right:4px">2022</td><td class="r">+5.76%</td><td class="r">+4.23%</td><td class="g">-8.71%</td><td class="r">+5.82%</td><td class="r">+5.77%</td><td class="r">+5.83%</td><td class="r">+1.41%</td><td class="g">-1.44%</td><td class="r">+3.14%</td><td class="g">-2.32%</td><td class="r">+4.78%</td><td class="r">+3.91%</td></tr>
<tr><td class="w" style="padding-right:4px">2023</td><td class="r">+6.30%</td><td class="r">+3.33%</td><td class="r">+5.11%</td><td class="r">+3.13%</td><td class="r">+3.65%</td><td class="g">-8.47%</td><td class="r">+12.20%</td><td class="r">+2.42%</td><td class="g">-1.73%</td><td class="g">-1.76%</td><td class="r">+4.97%</td><td class="r">+1.67%</td></tr>
<tr><td class="w" style="padding-right:4px">2024</td><td class="r">+2.16%</td><td class="g">-0.11%</td><td class="w">-</td><td class="w">-</td><td class="w">-</td><td class="w">-</td><td class="w">-</td><td class="w">-</td><td class="w">-</td><td class="w">-</td><td class="w">-</td><td class="w">-</td></tr>
</table></div>
<div class="a" style="left:1313px;top:696px;width:9px;height:113px;background:#1a2236;border-left:1px solid #2e3e5e;border-right:1px solid #2e3e5e"></div>
<div class="a" style="left:1313px;top:696px;width:9px;height:28px;background:#1d2944;border:1px solid #2e3e5e"></div>
<div class="a" style="left:1315px;top:766px;width:6px;height:42px;background:#7d8ca2"></div>

<!-- ================= BOTTOM BAR ================= -->
<div class="a" style="left:0;top:813px;width:571px;height:8px;background:#243657"></div>
<div class="a" style="left:575px;top:813px;width:450px;height:8px;background:#243657"></div>
<div class="a" style="left:1029px;top:813px;width:300px;height:8px;background:#243657"></div>
<div class="a" style="left:1333px;top:813px;width:552px;height:8px;background:#243657"></div>

<!-- ================= FLOATING ================= -->
<div class="a" style="left:1853px;top:392px;width:40px;height:36px;border-radius:18px 0 0 18px;background:linear-gradient(135deg,#9a5a82,#8c3a66)"></div>
<svg class="a" style="left:1865px;top:400px" width="18" height="17" viewBox="0 0 18 17">
<path d="M1 3.5 H8 V8 H1 Z M4.5 1 V11" stroke="#a9b0b8" stroke-width="1.3" fill="none"/>
<path d="M10.5 2 Q13.5 2 13.5 5" stroke="#a9b0b8" stroke-width="1.3" fill="none"/>
<path d="M1.5 11 Q1.5 15 5.5 15" stroke="#a9b0b8" stroke-width="1.3" fill="none"/>
<path d="M9.5 16 L13 7 L16.5 16 M10.7 13 H15.3" stroke="#a9b0b8" stroke-width="1.3" fill="none"/></svg>

<svg class="a" style="left:1745px;top:700px" width="135" height="72" viewBox="0 0 135 72">
<g transform="rotate(-10.5 71 34)">
<rect x="19" y="14" width="104" height="40" rx="11" fill="#a4a397" opacity="0.35"/>
<rect x="22" y="17" width="98" height="34" rx="9" fill="#9d9c90"/>
</g>
<path d="M27 50 Q10 49 4.5 61 Q13 55 29 59 Z" fill="#8e8d84" opacity="0.9"/>
<text x="69" y="43.5" transform="rotate(-10.5 69 37)" text-anchor="middle" font-family="Liberation Sans, sans-serif" font-weight="bold" font-size="20" fill="#fff" textLength="80" lengthAdjust="spacingAndGlyphs">Let’s Chat</text>
</svg>
<div class="a" style="left:1805px;top:758px;width:60px;height:60px;border-radius:50%;background:#c01c28"></div>
<svg class="a" style="left:1820px;top:772px" width="30" height="32" viewBox="0 0 30 32">
<path d="M15 1.5 C22.5 1.5 28.5 7 28.5 14 C28.5 21 23 26 15.5 26.5 L8 30.5 L9.5 25 C4.5 23 1.5 18.8 1.5 14 C1.5 7 7.5 1.5 15 1.5 Z" fill="#fff"/>
<path d="M13 20 Q18 22 22 19 Q19.5 23 16 22.8 Q14 22.5 13 20 Z" fill="#c01c28"/></svg>

<!-- ================= ANNOTATION BOXES ================= -->
<div class="a yl" style="left:1320px;top:175px;width:516px;height:309px"></div>
<div class="a yl" style="left:19px;top:673px;width:126px;height:142px"></div>
</body></html>
